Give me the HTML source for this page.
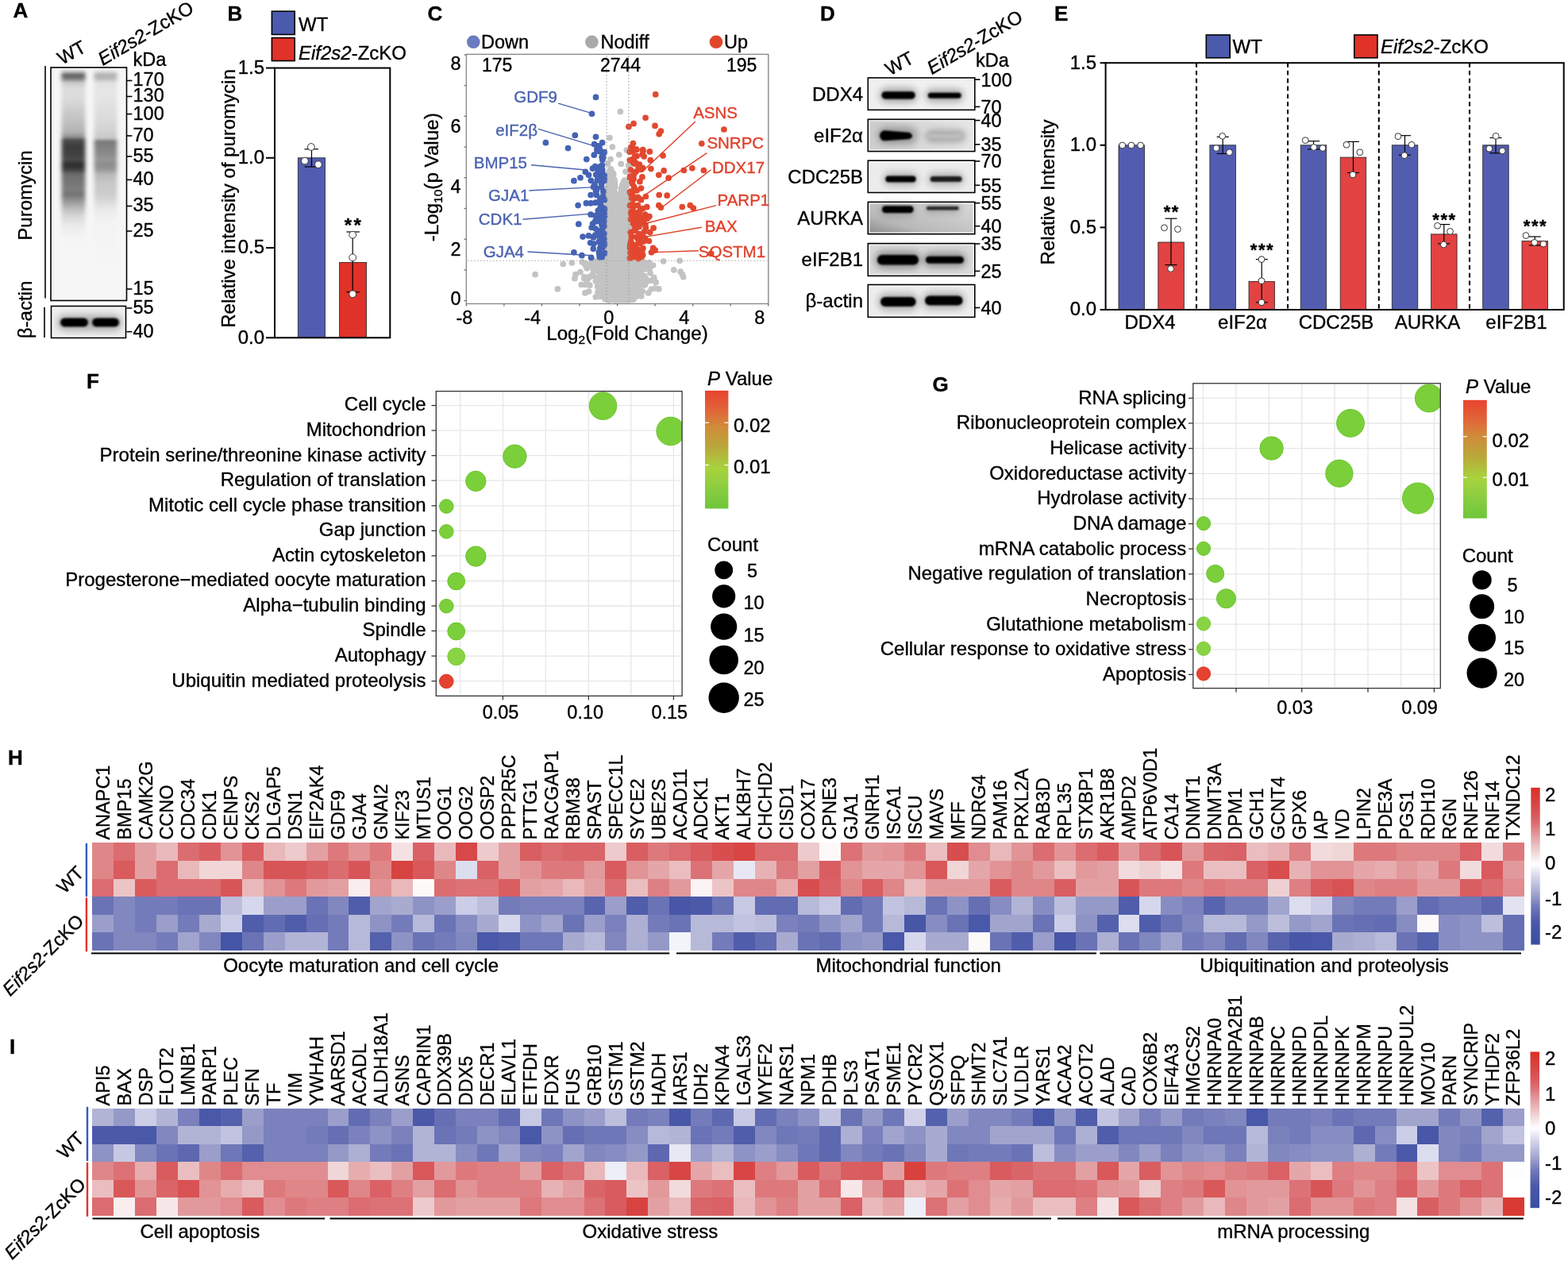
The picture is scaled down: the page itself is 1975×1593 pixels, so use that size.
<!DOCTYPE html><html><head><meta charset="utf-8"><title>Figure</title><style>html,body{margin:0;padding:0;background:#fff;width:1975px;height:1593px;overflow:hidden}svg{display:block}</style></head><body><svg width="1975" height="1593" viewBox="0 0 1975 1593" font-family="'Liberation Sans', Arial, Helvetica, sans-serif"><style>text{stroke-width:0.35px}</style><defs><filter id="blA" x="-30%" y="-10%" width="160%" height="120%"><feGaussianBlur stdDeviation="2.6 1.6"/></filter><filter id="blB" x="-30%" y="-30%" width="160%" height="160%"><feGaussianBlur stdDeviation="1.6 1.2"/></filter><linearGradient id="gA1" x1="0" y1="0" x2="0" y2="1"><stop offset="0.000" stop-color="rgb(245,245,245)"/><stop offset="0.017" stop-color="rgb(200,200,200)"/><stop offset="0.031" stop-color="rgb(95,95,95)"/><stop offset="0.048" stop-color="rgb(120,120,120)"/><stop offset="0.065" stop-color="rgb(200,200,200)"/><stop offset="0.092" stop-color="rgb(222,222,222)"/><stop offset="0.137" stop-color="rgb(218,218,218)"/><stop offset="0.181" stop-color="rgb(205,205,205)"/><stop offset="0.222" stop-color="rgb(195,195,195)"/><stop offset="0.273" stop-color="rgb(180,180,180)"/><stop offset="0.297" stop-color="rgb(150,150,150)"/><stop offset="0.311" stop-color="rgb(75,75,75)"/><stop offset="0.341" stop-color="rgb(60,60,60)"/><stop offset="0.375" stop-color="rgb(65,65,65)"/><stop offset="0.396" stop-color="rgb(75,75,75)"/><stop offset="0.416" stop-color="rgb(45,45,45)"/><stop offset="0.437" stop-color="rgb(60,60,60)"/><stop offset="0.461" stop-color="rgb(110,110,110)"/><stop offset="0.502" stop-color="rgb(120,120,120)"/><stop offset="0.529" stop-color="rgb(125,125,125)"/><stop offset="0.546" stop-color="rgb(115,115,115)"/><stop offset="0.570" stop-color="rgb(145,145,145)"/><stop offset="0.604" stop-color="rgb(185,185,185)"/><stop offset="0.638" stop-color="rgb(215,215,215)"/><stop offset="0.683" stop-color="rgb(235,235,235)"/><stop offset="0.734" stop-color="rgb(245,245,245)"/><stop offset="1.000" stop-color="rgb(247,247,247)"/></linearGradient><linearGradient id="gA2" x1="0" y1="0" x2="0" y2="1"><stop offset="0.000" stop-color="rgb(245,245,245)"/><stop offset="0.017" stop-color="rgb(225,225,225)"/><stop offset="0.031" stop-color="rgb(175,175,175)"/><stop offset="0.048" stop-color="rgb(185,185,185)"/><stop offset="0.065" stop-color="rgb(225,225,225)"/><stop offset="0.092" stop-color="rgb(230,230,230)"/><stop offset="0.137" stop-color="rgb(228,228,228)"/><stop offset="0.222" stop-color="rgb(218,218,218)"/><stop offset="0.273" stop-color="rgb(210,210,210)"/><stop offset="0.304" stop-color="rgb(200,200,200)"/><stop offset="0.317" stop-color="rgb(120,120,120)"/><stop offset="0.341" stop-color="rgb(130,130,130)"/><stop offset="0.375" stop-color="rgb(140,140,140)"/><stop offset="0.396" stop-color="rgb(150,150,150)"/><stop offset="0.416" stop-color="rgb(140,140,140)"/><stop offset="0.437" stop-color="rgb(150,150,150)"/><stop offset="0.461" stop-color="rgb(185,185,185)"/><stop offset="0.502" stop-color="rgb(200,200,200)"/><stop offset="0.546" stop-color="rgb(205,205,205)"/><stop offset="0.580" stop-color="rgb(220,220,220)"/><stop offset="0.614" stop-color="rgb(235,235,235)"/><stop offset="0.666" stop-color="rgb(243,243,243)"/><stop offset="1.000" stop-color="rgb(247,247,247)"/></linearGradient><filter id="blD" x="-30%" y="-60%" width="160%" height="220%"><feGaussianBlur stdDeviation="2.2 1.5"/></filter><filter id="blH" x="-40%" y="-150%" width="180%" height="400%"><feGaussianBlur stdDeviation="4 4"/></filter><filter id="blC" x="-20%" y="-60%" width="140%" height="220%"><feGaussianBlur stdDeviation="1.1 1.0"/></filter><linearGradient id="gAU" x1="0" y1="1" x2="1" y2="0"><stop offset="0" stop-color="#8a8a8a"/><stop offset="0.3" stop-color="#b8b8b8"/><stop offset="0.7" stop-color="#cdcdcd"/><stop offset="1" stop-color="#d8d8d8"/></linearGradient><linearGradient id="gEA" x1="0" y1="0" x2="1" y2="0"><stop offset="0" stop-color="#cdcdcd"/><stop offset="0.45" stop-color="#d8d8d8"/><stop offset="1" stop-color="#e6e6e6"/></linearGradient><clipPath id="clipF"><rect x="549.3" y="492.7" width="309.80000000000007" height="383.7"/></clipPath><linearGradient id="clipFg" x1="0" y1="0" x2="0" y2="1"><stop offset="0" stop-color="#e8432e"/><stop offset="0.18" stop-color="#e0683a"/><stop offset="0.3" stop-color="#d18a3a"/><stop offset="0.48" stop-color="#b9a83a"/><stop offset="0.66" stop-color="#a8d33e"/><stop offset="0.85" stop-color="#86cc40"/><stop offset="1" stop-color="#6fc63a"/></linearGradient><clipPath id="clipG"><rect x="1502.8" y="482.8" width="311.5" height="383.90000000000003"/></clipPath><linearGradient id="clipGg" x1="0" y1="0" x2="0" y2="1"><stop offset="0" stop-color="#e8432e"/><stop offset="0.18" stop-color="#e0683a"/><stop offset="0.3" stop-color="#d18a3a"/><stop offset="0.48" stop-color="#b9a83a"/><stop offset="0.66" stop-color="#a8d33e"/><stop offset="0.85" stop-color="#86cc40"/><stop offset="1" stop-color="#6fc63a"/></linearGradient><linearGradient id="cb1061" x1="0" y1="0" x2="0" y2="1"><stop offset="0" stop-color="#d93025"/><stop offset="0.004" stop-color="#d93025"/><stop offset="0.114" stop-color="#d74848"/><stop offset="0.211" stop-color="#da6468"/><stop offset="0.305" stop-color="#e29c9f"/><stop offset="0.404" stop-color="#efd2d4"/><stop offset="0.488" stop-color="#ffffff"/><stop offset="0.565" stop-color="#d6d7ec"/><stop offset="0.664" stop-color="#a8aad0"/><stop offset="0.758" stop-color="#7078b8"/><stop offset="0.855" stop-color="#4a58a8"/><stop offset="0.993" stop-color="#3a4fa0"/><stop offset="1" stop-color="#3a4fa0"/></linearGradient><linearGradient id="cb1395" x1="0" y1="0" x2="0" y2="1"><stop offset="0" stop-color="#d93025"/><stop offset="0.000" stop-color="#d93025"/><stop offset="0.111" stop-color="#d74848"/><stop offset="0.209" stop-color="#da6468"/><stop offset="0.304" stop-color="#e29c9f"/><stop offset="0.404" stop-color="#efd2d4"/><stop offset="0.489" stop-color="#ffffff"/><stop offset="0.567" stop-color="#d6d7ec"/><stop offset="0.667" stop-color="#a8aad0"/><stop offset="0.762" stop-color="#7078b8"/><stop offset="0.860" stop-color="#4a58a8"/><stop offset="1.000" stop-color="#3a4fa0"/><stop offset="1" stop-color="#3a4fa0"/></linearGradient></defs><text x="16.4" y="22.0" font-size="26" font-weight="bold" stroke="#000">A</text>
<text x="286.6" y="26.2" font-size="26" font-weight="bold" stroke="#000">B</text>
<text x="538.5" y="25.8" font-size="26" font-weight="bold" stroke="#000">C</text>
<text x="1033.0" y="26.0" font-size="26" font-weight="bold" stroke="#000">D</text>
<text x="1328.0" y="26.4" font-size="26" font-weight="bold" stroke="#000">E</text>
<text x="109.0" y="489.0" font-size="26" font-weight="bold" stroke="#000">F</text>
<text x="1174.5" y="492.6" font-size="26" font-weight="bold" stroke="#000">G</text>
<text x="10.0" y="963.0" font-size="26" font-weight="bold" stroke="#000">H</text>
<text x="12.0" y="1326.7" font-size="26" font-weight="bold" stroke="#000">I</text>
<rect x="64.0" y="85.0" width="95.5" height="293.5" fill="#f6f6f6"/>
<g filter="url(#blA)">
<rect x="77.5" y="85.0" width="30.0" height="293.0" fill="url(#gA1)"/>
<rect x="118.5" y="85.0" width="29.0" height="293.0" fill="url(#gA2)"/>
</g>
<rect x="65.6" y="86.6" width="92.3" height="290.3" fill="none" stroke="#fafafa" stroke-width="1.3"/>
<rect x="64.0" y="85.0" width="95.5" height="293.5" fill="none" stroke="#000" stroke-width="1.6"/>
<rect x="64.5" y="385.5" width="94.0" height="40.0" fill="#eeeeee"/>
<g filter="url(#blH)" opacity="0.25">
<rect x="72" y="396" width="82" height="21" rx="10" fill="#000"/>
</g>
<g filter="url(#blB)">
<rect x="76" y="400.5" width="35" height="11" rx="5.5" fill="#050505"/>
<rect x="116" y="400.5" width="34" height="11" rx="5.5" fill="#050505"/>
</g>
<rect x="66.1" y="387.1" width="90.8" height="36.8" fill="none" stroke="#fafafa" stroke-width="1.3"/>
<rect x="64.5" y="385.5" width="94.0" height="40.0" fill="none" stroke="#000" stroke-width="1.6"/>
<line x1="57.0" y1="83.0" x2="57.0" y2="375.5" stroke="#000" stroke-width="1.6"/>
<line x1="56.0" y1="387.0" x2="56.0" y2="425.0" stroke="#000" stroke-width="1.6"/>
<line x1="159.5" y1="101.5" x2="166.4" y2="101.5" stroke="#000" stroke-width="1.6"/>
<text x="167.5" y="108.4" font-size="23.5" stroke="#000">170</text>
<line x1="159.5" y1="121.5" x2="166.4" y2="121.5" stroke="#000" stroke-width="1.6"/>
<text x="167.5" y="128.4" font-size="23.5" stroke="#000">130</text>
<line x1="159.5" y1="143.6" x2="166.4" y2="143.6" stroke="#000" stroke-width="1.6"/>
<text x="167.5" y="150.5" font-size="23.5" stroke="#000">100</text>
<line x1="159.5" y1="171.0" x2="166.4" y2="171.0" stroke="#000" stroke-width="1.6"/>
<text x="167.5" y="177.9" font-size="23.5" stroke="#000">70</text>
<line x1="159.5" y1="197.0" x2="166.4" y2="197.0" stroke="#000" stroke-width="1.6"/>
<text x="167.5" y="203.9" font-size="23.5" stroke="#000">55</text>
<line x1="159.5" y1="226.4" x2="166.4" y2="226.4" stroke="#000" stroke-width="1.6"/>
<text x="167.5" y="233.3" font-size="23.5" stroke="#000">40</text>
<line x1="159.5" y1="259.5" x2="166.4" y2="259.5" stroke="#000" stroke-width="1.6"/>
<text x="167.5" y="266.4" font-size="23.5" stroke="#000">35</text>
<line x1="159.5" y1="291.0" x2="166.4" y2="291.0" stroke="#000" stroke-width="1.6"/>
<text x="167.5" y="297.9" font-size="23.5" stroke="#000">25</text>
<line x1="159.5" y1="364.0" x2="166.4" y2="364.0" stroke="#000" stroke-width="1.6"/>
<text x="167.5" y="370.9" font-size="23.5" stroke="#000">15</text>
<line x1="159.5" y1="388.0" x2="166.4" y2="388.0" stroke="#000" stroke-width="1.6"/>
<text x="167.5" y="394.9" font-size="23.5" stroke="#000">55</text>
<line x1="159.5" y1="417.7" x2="166.4" y2="417.7" stroke="#000" stroke-width="1.6"/>
<text x="167.5" y="424.6" font-size="23.5" stroke="#000">40</text>
<text x="167.5" y="83.0" font-size="23.5" stroke="#000">kDa</text>
<text transform="translate(78.1,82.0) rotate(-29)" font-size="23.5" stroke="#000">WT</text>
<text transform="translate(129.5,83.0) rotate(-30.5)" font-size="23.8" stroke="#000"><tspan font-style="italic">Eif2s2</tspan>-ZcKO</text>
<text transform="translate(40.0,246.0) rotate(-90)" font-size="24" text-anchor="middle" stroke="#000">Puromycin</text>
<text transform="translate(40.0,390.0) rotate(-90)" font-size="24" text-anchor="middle" stroke="#000">β-actin</text>
<rect x="342.4" y="14.2" width="28.8" height="29.3" fill="#4b5aad" stroke="#000" stroke-width="1.6"/>
<rect x="342.4" y="47.6" width="28.8" height="29.0" fill="#e03228" stroke="#000" stroke-width="1.6"/>
<text x="376.0" y="39.4" font-size="24" stroke="#000">WT</text>
<text x="376.0" y="74.6" font-size="24" stroke="#000"><tspan font-style="italic">Eif2s2</tspan>-ZcKO</text>
<rect x="375.3" y="198.8" width="34.3" height="226.5" fill="#525db0" stroke="#222" stroke-width="0.8"/>
<rect x="427.6" y="330.4" width="34.0" height="94.9" fill="#e03228" stroke="#222" stroke-width="0.8"/>
<rect x="346.0" y="85.6" width="145.3" height="339.7" fill="none" stroke="#000" stroke-width="2"/>
<line x1="335.0" y1="85.6" x2="346.0" y2="85.6" stroke="#000" stroke-width="2"/>
<text x="333.0" y="92.8" font-size="24" text-anchor="end" stroke="#000">1.5</text>
<line x1="335.0" y1="198.8" x2="346.0" y2="198.8" stroke="#000" stroke-width="2"/>
<text x="333.0" y="206.0" font-size="24" text-anchor="end" stroke="#000">1.0</text>
<line x1="335.0" y1="312.1" x2="346.0" y2="312.1" stroke="#000" stroke-width="2"/>
<text x="333.0" y="319.3" font-size="24" text-anchor="end" stroke="#000">0.5</text>
<line x1="335.0" y1="425.3" x2="346.0" y2="425.3" stroke="#000" stroke-width="2"/>
<text x="333.0" y="432.5" font-size="24" text-anchor="end" stroke="#000">0.0</text>
<text transform="translate(296.0,250.0) rotate(-90)" font-size="24" text-anchor="middle" stroke="#000">Relative intensity of puromycin</text>
<line x1="392.5" y1="187.8" x2="392.5" y2="210.0" stroke="#000" stroke-width="1.2"/>
<line x1="383.6" y1="187.8" x2="400.9" y2="187.8" stroke="#000" stroke-width="1.2"/>
<line x1="383.6" y1="210.0" x2="400.9" y2="210.0" stroke="#000" stroke-width="1.2"/>
<circle cx="391.9" cy="185.0" r="4.4" fill="#fff" stroke="#333" stroke-width="1"/>
<circle cx="383.9" cy="202.6" r="4.4" fill="#fff" stroke="#333" stroke-width="1"/>
<circle cx="400.9" cy="207.2" r="4.4" fill="#fff" stroke="#333" stroke-width="1"/>
<line x1="444.2" y1="292.0" x2="444.2" y2="367.7" stroke="#000" stroke-width="1.2"/>
<line x1="436.3" y1="292.0" x2="452.9" y2="292.0" stroke="#000" stroke-width="1.2"/>
<line x1="436.3" y1="367.7" x2="452.9" y2="367.7" stroke="#000" stroke-width="1.2"/>
<circle cx="444.2" cy="295.7" r="4.4" fill="#fff" stroke="#333" stroke-width="1"/>
<circle cx="444.2" cy="324.3" r="4.4" fill="#fff" stroke="#333" stroke-width="1"/>
<circle cx="444.2" cy="370.3" r="4.4" fill="#fff" stroke="#333" stroke-width="1"/>
<text x="445.5" y="292.0" font-size="24" text-anchor="middle" font-weight="bold" stroke="#000" letter-spacing="2.4">**</text>
<svg x="587.4" y="68.4" width="380.4" height="314.1" viewBox="587.4 68.4 380.4 314.1" overflow="hidden">
<g fill="#c3c3c3"><circle cx="765.3" cy="361.8" r="3.85"/><circle cx="780.4" cy="374.2" r="3.85"/><circle cx="779.5" cy="375.0" r="3.85"/><circle cx="766.6" cy="356.3" r="3.85"/><circle cx="789.2" cy="356.8" r="3.85"/><circle cx="785.0" cy="366.8" r="3.85"/><circle cx="773.9" cy="349.2" r="3.85"/><circle cx="789.5" cy="375.5" r="3.85"/><circle cx="767.8" cy="370.7" r="3.85"/><circle cx="764.3" cy="337.4" r="3.85"/><circle cx="773.8" cy="346.2" r="3.85"/><circle cx="767.4" cy="374.7" r="3.85"/><circle cx="776.5" cy="344.1" r="3.85"/><circle cx="777.6" cy="348.8" r="3.85"/><circle cx="786.9" cy="338.5" r="3.85"/><circle cx="780.6" cy="349.4" r="3.85"/><circle cx="767.5" cy="341.7" r="3.85"/><circle cx="776.1" cy="372.0" r="3.85"/><circle cx="779.0" cy="370.3" r="3.85"/><circle cx="791.0" cy="344.7" r="3.85"/><circle cx="769.8" cy="334.5" r="3.85"/><circle cx="782.5" cy="348.4" r="3.85"/><circle cx="799.2" cy="336.2" r="3.85"/><circle cx="758.5" cy="344.9" r="3.85"/><circle cx="804.0" cy="345.8" r="3.85"/><circle cx="774.8" cy="363.7" r="3.85"/><circle cx="778.3" cy="376.7" r="3.85"/><circle cx="762.2" cy="372.0" r="3.85"/><circle cx="771.3" cy="371.4" r="3.85"/><circle cx="760.6" cy="334.7" r="3.85"/><circle cx="797.8" cy="350.6" r="3.85"/><circle cx="769.7" cy="335.0" r="3.85"/><circle cx="797.5" cy="360.1" r="3.85"/><circle cx="770.0" cy="370.3" r="3.85"/><circle cx="778.7" cy="366.3" r="3.85"/><circle cx="762.3" cy="364.8" r="3.85"/><circle cx="782.5" cy="359.5" r="3.85"/><circle cx="780.0" cy="343.6" r="3.85"/><circle cx="755.9" cy="344.3" r="3.85"/><circle cx="798.8" cy="339.2" r="3.85"/><circle cx="776.3" cy="358.4" r="3.85"/><circle cx="765.5" cy="346.4" r="3.85"/><circle cx="768.6" cy="367.5" r="3.85"/><circle cx="766.4" cy="375.2" r="3.85"/><circle cx="776.0" cy="372.8" r="3.85"/><circle cx="783.5" cy="334.5" r="3.85"/><circle cx="774.3" cy="365.3" r="3.85"/><circle cx="794.4" cy="371.7" r="3.85"/><circle cx="778.8" cy="354.7" r="3.85"/><circle cx="774.8" cy="372.8" r="3.85"/><circle cx="768.2" cy="336.8" r="3.85"/><circle cx="780.4" cy="330.7" r="3.85"/><circle cx="759.8" cy="350.9" r="3.85"/><circle cx="798.6" cy="329.4" r="3.85"/><circle cx="775.4" cy="364.9" r="3.85"/><circle cx="781.0" cy="339.6" r="3.85"/><circle cx="767.2" cy="361.5" r="3.85"/><circle cx="799.1" cy="329.0" r="3.85"/><circle cx="788.4" cy="337.3" r="3.85"/><circle cx="775.1" cy="352.2" r="3.85"/><circle cx="773.2" cy="376.4" r="3.85"/><circle cx="798.3" cy="343.5" r="3.85"/><circle cx="808.3" cy="331.4" r="3.85"/><circle cx="770.5" cy="359.8" r="3.85"/><circle cx="768.3" cy="368.1" r="3.85"/><circle cx="794.9" cy="333.2" r="3.85"/><circle cx="788.9" cy="345.5" r="3.85"/><circle cx="799.5" cy="345.1" r="3.85"/><circle cx="778.5" cy="340.7" r="3.85"/><circle cx="770.5" cy="338.7" r="3.85"/><circle cx="774.6" cy="329.7" r="3.85"/><circle cx="787.9" cy="330.9" r="3.85"/><circle cx="764.8" cy="371.5" r="3.85"/><circle cx="760.4" cy="337.9" r="3.85"/><circle cx="786.1" cy="329.3" r="3.85"/><circle cx="768.6" cy="350.6" r="3.85"/><circle cx="786.5" cy="329.7" r="3.85"/><circle cx="775.5" cy="331.6" r="3.85"/><circle cx="768.1" cy="336.9" r="3.85"/><circle cx="769.4" cy="363.3" r="3.85"/><circle cx="777.0" cy="365.0" r="3.85"/><circle cx="772.7" cy="332.7" r="3.85"/><circle cx="795.2" cy="348.9" r="3.85"/><circle cx="779.4" cy="332.4" r="3.85"/><circle cx="760.6" cy="351.9" r="3.85"/><circle cx="759.2" cy="368.8" r="3.85"/><circle cx="778.3" cy="369.3" r="3.85"/><circle cx="772.1" cy="350.3" r="3.85"/><circle cx="788.2" cy="350.3" r="3.85"/><circle cx="770.4" cy="350.1" r="3.85"/><circle cx="779.7" cy="339.6" r="3.85"/><circle cx="796.9" cy="340.2" r="3.85"/><circle cx="779.5" cy="347.5" r="3.85"/><circle cx="777.2" cy="343.5" r="3.85"/><circle cx="798.7" cy="354.1" r="3.85"/><circle cx="796.8" cy="334.4" r="3.85"/><circle cx="800.9" cy="350.1" r="3.85"/><circle cx="766.9" cy="371.0" r="3.85"/><circle cx="772.9" cy="374.2" r="3.85"/><circle cx="794.2" cy="344.7" r="3.85"/><circle cx="787.4" cy="370.2" r="3.85"/><circle cx="795.8" cy="370.7" r="3.85"/><circle cx="794.3" cy="366.9" r="3.85"/><circle cx="802.4" cy="353.7" r="3.85"/><circle cx="776.9" cy="369.8" r="3.85"/><circle cx="769.2" cy="361.0" r="3.85"/><circle cx="757.8" cy="342.1" r="3.85"/><circle cx="762.4" cy="356.0" r="3.85"/><circle cx="779.7" cy="346.9" r="3.85"/><circle cx="796.8" cy="329.0" r="3.85"/><circle cx="773.6" cy="372.6" r="3.85"/><circle cx="771.3" cy="339.2" r="3.85"/><circle cx="798.1" cy="356.9" r="3.85"/><circle cx="763.7" cy="365.0" r="3.85"/><circle cx="785.6" cy="349.6" r="3.85"/><circle cx="785.2" cy="375.0" r="3.85"/><circle cx="794.8" cy="374.2" r="3.85"/><circle cx="756.8" cy="338.1" r="3.85"/><circle cx="790.8" cy="374.5" r="3.85"/><circle cx="781.8" cy="361.0" r="3.85"/><circle cx="765.8" cy="364.6" r="3.85"/><circle cx="768.2" cy="366.0" r="3.85"/><circle cx="770.7" cy="375.3" r="3.85"/><circle cx="787.6" cy="362.7" r="3.85"/><circle cx="767.6" cy="353.1" r="3.85"/><circle cx="773.6" cy="376.9" r="3.85"/><circle cx="781.1" cy="341.5" r="3.85"/><circle cx="792.5" cy="354.3" r="3.85"/><circle cx="776.3" cy="337.3" r="3.85"/><circle cx="774.4" cy="336.5" r="3.85"/><circle cx="798.1" cy="343.8" r="3.85"/><circle cx="789.4" cy="336.6" r="3.85"/><circle cx="775.0" cy="357.8" r="3.85"/><circle cx="762.8" cy="371.4" r="3.85"/><circle cx="770.2" cy="365.2" r="3.85"/><circle cx="797.8" cy="336.2" r="3.85"/><circle cx="771.1" cy="363.9" r="3.85"/><circle cx="766.3" cy="355.1" r="3.85"/><circle cx="800.4" cy="364.8" r="3.85"/><circle cx="766.1" cy="350.7" r="3.85"/><circle cx="775.6" cy="362.5" r="3.85"/><circle cx="778.3" cy="358.9" r="3.85"/><circle cx="779.4" cy="367.9" r="3.85"/><circle cx="765.4" cy="364.7" r="3.85"/><circle cx="765.6" cy="375.8" r="3.85"/><circle cx="782.4" cy="366.3" r="3.85"/><circle cx="787.1" cy="340.6" r="3.85"/><circle cx="774.7" cy="334.3" r="3.85"/><circle cx="760.4" cy="329.0" r="3.85"/><circle cx="756.3" cy="346.0" r="3.85"/><circle cx="786.0" cy="333.6" r="3.85"/><circle cx="762.9" cy="337.6" r="3.85"/><circle cx="795.0" cy="352.8" r="3.85"/><circle cx="784.0" cy="336.9" r="3.85"/><circle cx="786.3" cy="344.0" r="3.85"/><circle cx="768.5" cy="376.3" r="3.85"/><circle cx="790.9" cy="372.6" r="3.85"/><circle cx="785.1" cy="346.7" r="3.85"/><circle cx="756.2" cy="353.6" r="3.85"/><circle cx="779.4" cy="340.8" r="3.85"/><circle cx="758.4" cy="345.2" r="3.85"/><circle cx="766.2" cy="365.3" r="3.85"/><circle cx="764.7" cy="341.7" r="3.85"/><circle cx="779.0" cy="329.5" r="3.85"/><circle cx="787.7" cy="354.1" r="3.85"/><circle cx="783.8" cy="347.3" r="3.85"/><circle cx="769.8" cy="370.5" r="3.85"/><circle cx="781.1" cy="362.7" r="3.85"/><circle cx="771.0" cy="374.8" r="3.85"/><circle cx="785.9" cy="343.5" r="3.85"/><circle cx="777.9" cy="352.2" r="3.85"/><circle cx="790.2" cy="372.0" r="3.85"/><circle cx="794.3" cy="329.4" r="3.85"/><circle cx="795.2" cy="355.1" r="3.85"/><circle cx="771.8" cy="355.6" r="3.85"/><circle cx="765.0" cy="331.0" r="3.85"/><circle cx="780.3" cy="370.8" r="3.85"/><circle cx="790.2" cy="371.3" r="3.85"/><circle cx="787.2" cy="333.9" r="3.85"/><circle cx="778.8" cy="333.4" r="3.85"/><circle cx="779.0" cy="377.6" r="3.85"/><circle cx="767.4" cy="362.9" r="3.85"/><circle cx="788.2" cy="362.2" r="3.85"/><circle cx="790.9" cy="340.6" r="3.85"/><circle cx="791.6" cy="331.9" r="3.85"/><circle cx="774.9" cy="363.5" r="3.85"/><circle cx="783.2" cy="328.3" r="3.85"/><circle cx="772.9" cy="356.6" r="3.85"/><circle cx="789.1" cy="372.8" r="3.85"/><circle cx="769.1" cy="331.5" r="3.85"/><circle cx="767.8" cy="352.5" r="3.85"/><circle cx="800.7" cy="330.5" r="3.85"/><circle cx="801.1" cy="346.6" r="3.85"/><circle cx="785.9" cy="350.6" r="3.85"/><circle cx="776.8" cy="341.5" r="3.85"/><circle cx="772.7" cy="345.9" r="3.85"/><circle cx="762.2" cy="331.9" r="3.85"/><circle cx="770.7" cy="360.8" r="3.85"/><circle cx="766.9" cy="329.5" r="3.85"/><circle cx="781.3" cy="362.9" r="3.85"/><circle cx="769.7" cy="369.5" r="3.85"/><circle cx="779.2" cy="332.9" r="3.85"/><circle cx="801.7" cy="332.9" r="3.85"/><circle cx="771.4" cy="370.9" r="3.85"/><circle cx="766.4" cy="360.9" r="3.85"/><circle cx="782.4" cy="365.0" r="3.85"/><circle cx="775.7" cy="340.7" r="3.85"/><circle cx="774.8" cy="351.9" r="3.85"/><circle cx="770.1" cy="374.8" r="3.85"/><circle cx="779.4" cy="371.6" r="3.85"/><circle cx="768.0" cy="335.1" r="3.85"/><circle cx="775.8" cy="365.5" r="3.85"/><circle cx="799.3" cy="330.6" r="3.85"/><circle cx="762.5" cy="376.7" r="3.85"/><circle cx="778.0" cy="333.5" r="3.85"/><circle cx="775.0" cy="377.8" r="3.85"/><circle cx="799.7" cy="336.9" r="3.85"/><circle cx="768.2" cy="365.5" r="3.85"/><circle cx="788.5" cy="352.0" r="3.85"/><circle cx="786.7" cy="342.1" r="3.85"/><circle cx="780.8" cy="355.2" r="3.85"/><circle cx="764.5" cy="339.1" r="3.85"/><circle cx="772.8" cy="345.9" r="3.85"/><circle cx="784.7" cy="365.4" r="3.85"/><circle cx="764.7" cy="372.3" r="3.85"/><circle cx="775.4" cy="349.0" r="3.85"/><circle cx="761.4" cy="348.1" r="3.85"/><circle cx="798.8" cy="355.0" r="3.85"/><circle cx="778.3" cy="334.0" r="3.85"/><circle cx="797.7" cy="365.6" r="3.85"/><circle cx="761.8" cy="362.6" r="3.85"/><circle cx="776.4" cy="344.4" r="3.85"/><circle cx="794.5" cy="344.8" r="3.85"/><circle cx="774.3" cy="376.1" r="3.85"/><circle cx="764.2" cy="344.0" r="3.85"/><circle cx="779.5" cy="341.2" r="3.85"/><circle cx="768.7" cy="329.8" r="3.85"/><circle cx="768.0" cy="366.4" r="3.85"/><circle cx="795.7" cy="363.2" r="3.85"/><circle cx="770.2" cy="368.5" r="3.85"/><circle cx="794.5" cy="344.9" r="3.85"/><circle cx="765.4" cy="358.3" r="3.85"/><circle cx="768.0" cy="370.8" r="3.85"/><circle cx="797.8" cy="358.3" r="3.85"/><circle cx="806.4" cy="341.5" r="3.85"/><circle cx="764.7" cy="361.5" r="3.85"/><circle cx="756.8" cy="340.9" r="3.85"/><circle cx="775.0" cy="359.1" r="3.85"/><circle cx="764.4" cy="369.4" r="3.85"/><circle cx="792.6" cy="360.4" r="3.85"/><circle cx="766.6" cy="330.1" r="3.85"/><circle cx="793.2" cy="337.1" r="3.85"/><circle cx="778.5" cy="375.4" r="3.85"/><circle cx="766.1" cy="332.3" r="3.85"/><circle cx="758.7" cy="333.4" r="3.85"/><circle cx="788.1" cy="337.6" r="3.85"/><circle cx="761.8" cy="376.1" r="3.85"/><circle cx="790.2" cy="365.1" r="3.85"/><circle cx="768.6" cy="361.0" r="3.85"/><circle cx="768.1" cy="347.3" r="3.85"/><circle cx="773.4" cy="362.1" r="3.85"/><circle cx="799.0" cy="340.4" r="3.85"/><circle cx="760.4" cy="331.1" r="3.85"/><circle cx="802.0" cy="354.3" r="3.85"/><circle cx="770.2" cy="358.7" r="3.85"/><circle cx="793.2" cy="353.4" r="3.85"/><circle cx="792.0" cy="338.1" r="3.85"/><circle cx="783.6" cy="339.5" r="3.85"/><circle cx="773.4" cy="362.0" r="3.85"/><circle cx="767.9" cy="373.9" r="3.85"/><circle cx="768.0" cy="365.6" r="3.85"/><circle cx="770.2" cy="350.5" r="3.85"/><circle cx="798.7" cy="334.1" r="3.85"/><circle cx="766.0" cy="373.7" r="3.85"/><circle cx="777.4" cy="342.7" r="3.85"/><circle cx="784.4" cy="357.2" r="3.85"/><circle cx="796.0" cy="340.8" r="3.85"/><circle cx="789.4" cy="371.8" r="3.85"/><circle cx="773.4" cy="349.7" r="3.85"/><circle cx="771.8" cy="368.0" r="3.85"/><circle cx="793.0" cy="370.2" r="3.85"/><circle cx="774.4" cy="361.7" r="3.85"/><circle cx="766.7" cy="352.7" r="3.85"/><circle cx="795.3" cy="345.5" r="3.85"/><circle cx="794.4" cy="354.3" r="3.85"/><circle cx="760.5" cy="332.5" r="3.85"/><circle cx="766.0" cy="371.9" r="3.85"/><circle cx="795.7" cy="348.9" r="3.85"/><circle cx="777.3" cy="334.9" r="3.85"/><circle cx="794.5" cy="339.3" r="3.85"/><circle cx="783.5" cy="348.3" r="3.85"/><circle cx="768.1" cy="359.6" r="3.85"/><circle cx="783.2" cy="365.2" r="3.85"/><circle cx="763.9" cy="367.7" r="3.85"/><circle cx="767.3" cy="344.2" r="3.85"/><circle cx="789.9" cy="367.7" r="3.85"/><circle cx="767.1" cy="374.7" r="3.85"/><circle cx="783.6" cy="350.6" r="3.85"/><circle cx="785.7" cy="369.7" r="3.85"/><circle cx="770.5" cy="363.8" r="3.85"/><circle cx="781.5" cy="362.4" r="3.85"/><circle cx="797.3" cy="357.2" r="3.85"/><circle cx="766.4" cy="359.8" r="3.85"/><circle cx="758.0" cy="367.7" r="3.85"/><circle cx="791.0" cy="356.8" r="3.85"/><circle cx="777.9" cy="334.1" r="3.85"/><circle cx="781.1" cy="377.1" r="3.85"/><circle cx="758.8" cy="332.8" r="3.85"/><circle cx="779.4" cy="359.5" r="3.85"/><circle cx="780.3" cy="363.8" r="3.85"/><circle cx="778.9" cy="372.4" r="3.85"/><circle cx="768.1" cy="329.9" r="3.85"/><circle cx="801.4" cy="331.1" r="3.85"/><circle cx="792.2" cy="375.2" r="3.85"/><circle cx="785.9" cy="333.0" r="3.85"/><circle cx="787.5" cy="369.9" r="3.85"/><circle cx="795.1" cy="357.8" r="3.85"/><circle cx="770.1" cy="368.8" r="3.85"/><circle cx="775.7" cy="352.2" r="3.85"/><circle cx="789.2" cy="365.6" r="3.85"/><circle cx="781.6" cy="375.8" r="3.85"/><circle cx="787.8" cy="375.9" r="3.85"/><circle cx="781.5" cy="348.1" r="3.85"/><circle cx="776.2" cy="362.7" r="3.85"/><circle cx="785.2" cy="356.7" r="3.85"/><circle cx="759.5" cy="356.1" r="3.85"/><circle cx="767.2" cy="353.6" r="3.85"/><circle cx="777.8" cy="339.2" r="3.85"/><circle cx="767.2" cy="354.4" r="3.85"/><circle cx="764.1" cy="356.5" r="3.85"/><circle cx="759.5" cy="352.6" r="3.85"/><circle cx="788.2" cy="373.8" r="3.85"/><circle cx="761.4" cy="352.5" r="3.85"/><circle cx="792.7" cy="359.1" r="3.85"/><circle cx="805.0" cy="335.4" r="3.85"/><circle cx="761.7" cy="337.5" r="3.85"/><circle cx="801.8" cy="353.5" r="3.85"/><circle cx="791.7" cy="369.6" r="3.85"/><circle cx="773.7" cy="374.6" r="3.85"/><circle cx="791.1" cy="370.0" r="3.85"/><circle cx="763.3" cy="337.4" r="3.85"/><circle cx="767.6" cy="332.3" r="3.85"/><circle cx="774.0" cy="352.8" r="3.85"/><circle cx="764.6" cy="368.8" r="3.85"/><circle cx="792.9" cy="344.2" r="3.85"/><circle cx="761.9" cy="338.9" r="3.85"/><circle cx="772.1" cy="346.3" r="3.85"/><circle cx="783.3" cy="350.3" r="3.85"/><circle cx="797.0" cy="372.6" r="3.85"/><circle cx="789.1" cy="358.3" r="3.85"/><circle cx="782.7" cy="328.8" r="3.85"/><circle cx="777.2" cy="339.9" r="3.85"/><circle cx="755.9" cy="341.0" r="3.85"/><circle cx="785.7" cy="365.3" r="3.85"/><circle cx="785.3" cy="348.8" r="3.85"/><circle cx="767.6" cy="377.7" r="3.85"/><circle cx="776.5" cy="347.3" r="3.85"/><circle cx="765.0" cy="333.5" r="3.85"/><circle cx="764.9" cy="345.5" r="3.85"/><circle cx="765.8" cy="360.2" r="3.85"/><circle cx="782.4" cy="366.7" r="3.85"/><circle cx="783.6" cy="367.7" r="3.85"/><circle cx="791.9" cy="371.2" r="3.85"/><circle cx="764.4" cy="370.4" r="3.85"/><circle cx="791.5" cy="334.7" r="3.85"/><circle cx="760.3" cy="364.7" r="3.85"/><circle cx="772.7" cy="350.0" r="3.85"/><circle cx="798.6" cy="355.8" r="3.85"/><circle cx="789.9" cy="365.5" r="3.85"/><circle cx="776.1" cy="351.5" r="3.85"/><circle cx="785.8" cy="374.9" r="3.85"/><circle cx="793.5" cy="350.5" r="3.85"/><circle cx="783.1" cy="367.9" r="3.85"/><circle cx="790.0" cy="346.0" r="3.85"/><circle cx="773.9" cy="362.5" r="3.85"/><circle cx="794.0" cy="333.8" r="3.85"/><circle cx="791.8" cy="377.5" r="3.85"/><circle cx="788.5" cy="354.8" r="3.85"/><circle cx="767.5" cy="366.6" r="3.85"/><circle cx="773.2" cy="375.9" r="3.85"/><circle cx="796.0" cy="343.4" r="3.85"/><circle cx="781.2" cy="364.7" r="3.85"/><circle cx="780.2" cy="338.8" r="3.85"/><circle cx="795.7" cy="346.0" r="3.85"/><circle cx="760.1" cy="334.2" r="3.85"/><circle cx="790.2" cy="366.1" r="3.85"/><circle cx="770.0" cy="340.9" r="3.85"/><circle cx="767.4" cy="361.6" r="3.85"/><circle cx="788.2" cy="346.6" r="3.85"/><circle cx="777.6" cy="329.3" r="3.85"/><circle cx="794.1" cy="343.3" r="3.85"/><circle cx="782.0" cy="341.9" r="3.85"/><circle cx="782.6" cy="367.3" r="3.85"/><circle cx="767.3" cy="332.7" r="3.85"/><circle cx="792.3" cy="372.5" r="3.85"/><circle cx="767.6" cy="370.8" r="3.85"/><circle cx="785.7" cy="343.5" r="3.85"/><circle cx="759.4" cy="341.3" r="3.85"/><circle cx="793.4" cy="359.8" r="3.85"/><circle cx="755.0" cy="333.7" r="3.85"/><circle cx="795.3" cy="332.5" r="3.85"/><circle cx="769.4" cy="367.6" r="3.85"/><circle cx="794.6" cy="335.8" r="3.85"/><circle cx="784.5" cy="337.0" r="3.85"/><circle cx="763.9" cy="372.9" r="3.85"/><circle cx="773.3" cy="367.7" r="3.85"/><circle cx="772.5" cy="376.8" r="3.85"/><circle cx="774.2" cy="342.4" r="3.85"/><circle cx="779.5" cy="330.1" r="3.85"/><circle cx="760.7" cy="347.2" r="3.85"/><circle cx="788.9" cy="356.2" r="3.85"/><circle cx="780.7" cy="342.9" r="3.85"/><circle cx="757.1" cy="335.1" r="3.85"/><circle cx="765.1" cy="369.4" r="3.85"/><circle cx="794.3" cy="340.1" r="3.85"/><circle cx="778.9" cy="353.5" r="3.85"/><circle cx="779.1" cy="368.7" r="3.85"/><circle cx="765.7" cy="336.6" r="3.85"/><circle cx="767.8" cy="363.8" r="3.85"/><circle cx="762.6" cy="353.1" r="3.85"/><circle cx="789.9" cy="373.8" r="3.85"/><circle cx="784.5" cy="338.8" r="3.85"/><circle cx="774.4" cy="357.9" r="3.85"/><circle cx="788.6" cy="373.6" r="3.85"/><circle cx="769.1" cy="367.6" r="3.85"/><circle cx="773.4" cy="353.0" r="3.85"/><circle cx="777.9" cy="366.3" r="3.85"/><circle cx="791.4" cy="340.5" r="3.85"/><circle cx="774.1" cy="360.6" r="3.85"/><circle cx="787.7" cy="336.1" r="3.85"/><circle cx="776.9" cy="369.4" r="3.85"/><circle cx="764.3" cy="349.1" r="3.85"/><circle cx="769.4" cy="334.0" r="3.85"/><circle cx="788.2" cy="362.9" r="3.85"/><circle cx="769.3" cy="370.2" r="3.85"/><circle cx="780.0" cy="361.6" r="3.85"/><circle cx="764.6" cy="361.6" r="3.85"/><circle cx="757.3" cy="341.7" r="3.85"/><circle cx="774.4" cy="372.8" r="3.85"/><circle cx="789.3" cy="338.5" r="3.85"/><circle cx="783.0" cy="368.1" r="3.85"/><circle cx="776.5" cy="367.6" r="3.85"/><circle cx="791.6" cy="358.1" r="3.85"/><circle cx="784.5" cy="353.0" r="3.85"/><circle cx="782.6" cy="370.8" r="3.85"/><circle cx="796.4" cy="341.1" r="3.85"/><circle cx="789.0" cy="349.4" r="3.85"/><circle cx="788.9" cy="366.5" r="3.85"/><circle cx="790.0" cy="339.5" r="3.85"/><circle cx="785.2" cy="344.2" r="3.85"/><circle cx="782.9" cy="362.3" r="3.85"/><circle cx="791.5" cy="357.0" r="3.85"/><circle cx="769.3" cy="346.6" r="3.85"/><circle cx="783.8" cy="355.3" r="3.85"/><circle cx="794.3" cy="344.4" r="3.85"/><circle cx="790.3" cy="345.4" r="3.85"/><circle cx="793.1" cy="353.6" r="3.85"/><circle cx="763.3" cy="350.9" r="3.85"/><circle cx="780.0" cy="331.2" r="3.85"/><circle cx="781.2" cy="349.4" r="3.85"/><circle cx="785.9" cy="352.5" r="3.85"/><circle cx="774.8" cy="352.0" r="3.85"/><circle cx="785.4" cy="367.4" r="3.85"/><circle cx="758.0" cy="340.0" r="3.85"/><circle cx="764.9" cy="360.2" r="3.85"/><circle cx="761.6" cy="358.0" r="3.85"/><circle cx="786.3" cy="357.0" r="3.85"/><circle cx="768.0" cy="364.7" r="3.85"/><circle cx="780.4" cy="331.3" r="3.85"/><circle cx="775.3" cy="338.1" r="3.85"/><circle cx="790.3" cy="371.4" r="3.85"/><circle cx="778.0" cy="346.4" r="3.85"/><circle cx="794.3" cy="366.6" r="3.85"/><circle cx="795.2" cy="346.2" r="3.85"/><circle cx="771.0" cy="354.6" r="3.85"/><circle cx="789.6" cy="371.6" r="3.85"/><circle cx="769.5" cy="335.7" r="3.85"/><circle cx="777.1" cy="365.3" r="3.85"/><circle cx="785.4" cy="377.7" r="3.85"/><circle cx="772.3" cy="365.7" r="3.85"/><circle cx="785.1" cy="356.6" r="3.85"/><circle cx="798.7" cy="359.9" r="3.85"/><circle cx="792.5" cy="375.0" r="3.85"/><circle cx="760.3" cy="339.0" r="3.85"/><circle cx="764.7" cy="346.5" r="3.85"/><circle cx="785.6" cy="330.7" r="3.85"/><circle cx="769.3" cy="372.8" r="3.85"/><circle cx="773.9" cy="339.4" r="3.85"/><circle cx="790.2" cy="333.0" r="3.85"/><circle cx="785.1" cy="333.7" r="3.85"/><circle cx="798.9" cy="344.7" r="3.85"/><circle cx="764.1" cy="336.3" r="3.85"/><circle cx="788.7" cy="351.5" r="3.85"/><circle cx="781.5" cy="334.1" r="3.85"/><circle cx="766.6" cy="366.2" r="3.85"/><circle cx="778.5" cy="374.9" r="3.85"/><circle cx="779.2" cy="353.5" r="3.85"/><circle cx="752.3" cy="335.1" r="3.85"/><circle cx="782.0" cy="354.6" r="3.85"/><circle cx="773.9" cy="336.2" r="3.85"/><circle cx="757.6" cy="330.2" r="3.85"/><circle cx="758.2" cy="346.3" r="3.85"/><circle cx="795.9" cy="344.0" r="3.85"/><circle cx="779.8" cy="329.2" r="3.85"/><circle cx="755.0" cy="333.4" r="3.85"/><circle cx="771.1" cy="346.9" r="3.85"/><circle cx="778.3" cy="359.7" r="3.85"/><circle cx="767.0" cy="339.7" r="3.85"/><circle cx="781.8" cy="356.9" r="3.85"/><circle cx="790.6" cy="363.3" r="3.85"/><circle cx="770.2" cy="352.9" r="3.85"/><circle cx="787.9" cy="329.5" r="3.85"/><circle cx="773.3" cy="361.4" r="3.85"/><circle cx="785.8" cy="348.8" r="3.85"/><circle cx="788.1" cy="375.8" r="3.85"/><circle cx="763.2" cy="350.8" r="3.85"/><circle cx="767.1" cy="377.5" r="3.85"/><circle cx="787.0" cy="347.7" r="3.85"/><circle cx="784.8" cy="332.8" r="3.85"/><circle cx="788.0" cy="346.8" r="3.85"/><circle cx="765.8" cy="344.1" r="3.85"/><circle cx="787.2" cy="355.1" r="3.85"/><circle cx="760.7" cy="368.8" r="3.85"/><circle cx="786.0" cy="332.5" r="3.85"/><circle cx="792.7" cy="337.1" r="3.85"/><circle cx="772.5" cy="365.0" r="3.85"/><circle cx="776.5" cy="362.0" r="3.85"/><circle cx="757.6" cy="331.6" r="3.85"/><circle cx="764.8" cy="375.9" r="3.85"/><circle cx="795.9" cy="349.3" r="3.85"/><circle cx="775.5" cy="377.1" r="3.85"/><circle cx="801.5" cy="331.4" r="3.85"/><circle cx="762.8" cy="357.4" r="3.85"/><circle cx="770.5" cy="367.3" r="3.85"/><circle cx="783.8" cy="377.6" r="3.85"/><circle cx="755.6" cy="330.0" r="3.85"/><circle cx="761.0" cy="371.4" r="3.85"/><circle cx="786.1" cy="365.8" r="3.85"/><circle cx="789.3" cy="375.3" r="3.85"/><circle cx="787.2" cy="335.4" r="3.85"/><circle cx="787.9" cy="346.7" r="3.85"/><circle cx="764.7" cy="331.6" r="3.85"/><circle cx="764.1" cy="342.3" r="3.85"/><circle cx="789.4" cy="345.6" r="3.85"/><circle cx="786.1" cy="362.4" r="3.85"/><circle cx="778.8" cy="335.2" r="3.85"/><circle cx="782.0" cy="359.6" r="3.85"/><circle cx="761.5" cy="344.3" r="3.85"/><circle cx="785.2" cy="359.8" r="3.85"/><circle cx="774.2" cy="357.1" r="3.85"/><circle cx="793.2" cy="331.0" r="3.85"/><circle cx="758.9" cy="363.3" r="3.85"/><circle cx="792.0" cy="343.0" r="3.85"/><circle cx="802.9" cy="347.8" r="3.85"/><circle cx="771.7" cy="348.0" r="3.85"/><circle cx="773.0" cy="333.8" r="3.85"/><circle cx="798.7" cy="348.0" r="3.85"/><circle cx="763.7" cy="363.8" r="3.85"/><circle cx="783.3" cy="356.9" r="3.85"/><circle cx="754.1" cy="333.9" r="3.85"/><circle cx="796.5" cy="337.6" r="3.85"/><circle cx="794.2" cy="364.3" r="3.85"/><circle cx="795.4" cy="343.9" r="3.85"/><circle cx="781.4" cy="373.6" r="3.85"/><circle cx="790.2" cy="367.9" r="3.85"/><circle cx="783.5" cy="366.2" r="3.85"/><circle cx="769.4" cy="354.8" r="3.85"/><circle cx="791.8" cy="340.6" r="3.85"/><circle cx="791.0" cy="373.5" r="3.85"/><circle cx="782.8" cy="366.3" r="3.85"/><circle cx="780.3" cy="334.0" r="3.85"/><circle cx="768.8" cy="348.6" r="3.85"/><circle cx="785.7" cy="368.9" r="3.85"/><circle cx="775.3" cy="349.9" r="3.85"/><circle cx="759.3" cy="370.4" r="3.85"/><circle cx="763.3" cy="359.3" r="3.85"/><circle cx="763.1" cy="338.8" r="3.85"/><circle cx="779.8" cy="360.7" r="3.85"/><circle cx="798.4" cy="376.2" r="3.85"/><circle cx="781.6" cy="353.7" r="3.85"/><circle cx="775.2" cy="339.2" r="3.85"/><circle cx="797.2" cy="339.8" r="3.85"/><circle cx="765.6" cy="365.2" r="3.85"/><circle cx="768.7" cy="368.9" r="3.85"/><circle cx="794.0" cy="350.2" r="3.85"/><circle cx="793.7" cy="330.9" r="3.85"/><circle cx="776.0" cy="348.2" r="3.85"/><circle cx="767.4" cy="330.3" r="3.85"/><circle cx="800.4" cy="346.1" r="3.85"/><circle cx="777.7" cy="358.4" r="3.85"/><circle cx="798.8" cy="330.0" r="3.85"/><circle cx="772.1" cy="375.9" r="3.85"/><circle cx="801.7" cy="333.1" r="3.85"/><circle cx="789.7" cy="375.5" r="3.85"/><circle cx="794.5" cy="345.8" r="3.85"/><circle cx="790.2" cy="370.7" r="3.85"/><circle cx="770.3" cy="344.3" r="3.85"/><circle cx="763.7" cy="340.3" r="3.85"/><circle cx="766.0" cy="365.1" r="3.85"/><circle cx="772.2" cy="369.5" r="3.85"/><circle cx="755.9" cy="344.3" r="3.85"/><circle cx="759.1" cy="368.2" r="3.85"/><circle cx="797.8" cy="366.9" r="3.85"/><circle cx="763.2" cy="333.8" r="3.85"/><circle cx="796.4" cy="373.0" r="3.85"/><circle cx="777.5" cy="346.7" r="3.85"/><circle cx="778.2" cy="337.1" r="3.85"/><circle cx="772.3" cy="370.8" r="3.85"/><circle cx="781.1" cy="342.5" r="3.85"/><circle cx="769.1" cy="334.7" r="3.85"/><circle cx="769.9" cy="370.1" r="3.85"/><circle cx="767.1" cy="361.3" r="3.85"/><circle cx="790.8" cy="362.1" r="3.85"/><circle cx="753.4" cy="329.3" r="3.85"/><circle cx="767.2" cy="344.7" r="3.85"/><circle cx="772.0" cy="363.6" r="3.85"/><circle cx="803.1" cy="359.8" r="3.85"/><circle cx="762.8" cy="332.0" r="3.85"/><circle cx="756.1" cy="333.4" r="3.85"/><circle cx="791.8" cy="363.3" r="3.85"/><circle cx="773.7" cy="337.8" r="3.85"/><circle cx="790.0" cy="377.7" r="3.85"/><circle cx="776.5" cy="368.6" r="3.85"/><circle cx="781.3" cy="367.0" r="3.85"/><circle cx="789.8" cy="368.9" r="3.85"/><circle cx="768.2" cy="368.1" r="3.85"/><circle cx="779.1" cy="347.7" r="3.85"/><circle cx="783.7" cy="367.6" r="3.85"/><circle cx="782.4" cy="337.6" r="3.85"/><circle cx="786.5" cy="374.6" r="3.85"/><circle cx="756.5" cy="342.1" r="3.85"/><circle cx="794.7" cy="361.2" r="3.85"/><circle cx="755.5" cy="353.4" r="3.85"/><circle cx="792.0" cy="354.2" r="3.85"/><circle cx="789.9" cy="368.6" r="3.85"/><circle cx="774.6" cy="369.7" r="3.85"/><circle cx="779.9" cy="377.6" r="3.85"/><circle cx="762.2" cy="352.3" r="3.85"/><circle cx="794.0" cy="337.4" r="3.85"/><circle cx="773.4" cy="342.6" r="3.85"/><circle cx="794.7" cy="374.8" r="3.85"/><circle cx="779.8" cy="353.3" r="3.85"/><circle cx="754.7" cy="351.2" r="3.85"/><circle cx="770.7" cy="366.7" r="3.85"/><circle cx="787.5" cy="365.4" r="3.85"/><circle cx="784.7" cy="373.0" r="3.85"/><circle cx="782.6" cy="376.9" r="3.85"/><circle cx="785.6" cy="351.9" r="3.85"/><circle cx="786.6" cy="334.8" r="3.85"/><circle cx="779.1" cy="371.7" r="3.85"/><circle cx="766.4" cy="364.0" r="3.85"/><circle cx="783.1" cy="371.0" r="3.85"/><circle cx="782.1" cy="370.5" r="3.85"/><circle cx="793.3" cy="369.7" r="3.85"/><circle cx="775.7" cy="358.6" r="3.85"/><circle cx="774.0" cy="351.8" r="3.85"/><circle cx="773.2" cy="339.3" r="3.85"/><circle cx="776.2" cy="361.2" r="3.85"/><circle cx="801.2" cy="338.0" r="3.85"/><circle cx="758.8" cy="335.8" r="3.85"/><circle cx="796.8" cy="330.4" r="3.85"/><circle cx="784.0" cy="356.9" r="3.85"/><circle cx="762.6" cy="351.5" r="3.85"/><circle cx="764.2" cy="352.8" r="3.85"/><circle cx="795.8" cy="329.8" r="3.85"/><circle cx="795.2" cy="346.5" r="3.85"/><circle cx="756.1" cy="334.0" r="3.85"/><circle cx="784.9" cy="364.7" r="3.85"/><circle cx="797.7" cy="351.0" r="3.85"/><circle cx="780.0" cy="365.4" r="3.85"/><circle cx="770.4" cy="330.7" r="3.85"/><circle cx="762.4" cy="345.8" r="3.85"/><circle cx="779.9" cy="330.5" r="3.85"/><circle cx="780.4" cy="354.7" r="3.85"/><circle cx="768.4" cy="371.7" r="3.85"/><circle cx="772.4" cy="357.7" r="3.85"/><circle cx="781.1" cy="373.5" r="3.85"/><circle cx="782.5" cy="347.6" r="3.85"/><circle cx="786.5" cy="367.9" r="3.85"/><circle cx="783.8" cy="350.7" r="3.85"/><circle cx="771.4" cy="362.4" r="3.85"/><circle cx="774.4" cy="352.4" r="3.85"/><circle cx="773.6" cy="377.2" r="3.85"/><circle cx="781.3" cy="366.0" r="3.85"/><circle cx="794.9" cy="363.7" r="3.85"/><circle cx="768.0" cy="339.6" r="3.85"/><circle cx="777.3" cy="334.7" r="3.85"/><circle cx="776.7" cy="358.6" r="3.85"/><circle cx="767.7" cy="372.4" r="3.85"/><circle cx="765.6" cy="341.2" r="3.85"/><circle cx="786.3" cy="360.4" r="3.85"/><circle cx="794.1" cy="335.7" r="3.85"/><circle cx="791.5" cy="341.2" r="3.85"/><circle cx="791.9" cy="354.3" r="3.85"/><circle cx="758.2" cy="332.5" r="3.85"/><circle cx="788.1" cy="377.6" r="3.85"/><circle cx="798.5" cy="353.2" r="3.85"/><circle cx="792.6" cy="357.1" r="3.85"/><circle cx="774.4" cy="347.7" r="3.85"/><circle cx="787.0" cy="355.1" r="3.85"/><circle cx="781.3" cy="358.5" r="3.85"/><circle cx="792.0" cy="361.9" r="3.85"/><circle cx="777.5" cy="353.1" r="3.85"/><circle cx="765.7" cy="362.8" r="3.85"/><circle cx="758.2" cy="349.0" r="3.85"/><circle cx="794.5" cy="361.8" r="3.85"/><circle cx="765.9" cy="330.3" r="3.85"/><circle cx="762.5" cy="332.7" r="3.85"/><circle cx="779.2" cy="349.8" r="3.85"/><circle cx="781.5" cy="339.5" r="3.85"/><circle cx="780.1" cy="352.2" r="3.85"/><circle cx="773.6" cy="358.5" r="3.85"/><circle cx="797.7" cy="360.4" r="3.85"/><circle cx="764.4" cy="351.8" r="3.85"/><circle cx="781.7" cy="358.0" r="3.85"/><circle cx="800.5" cy="334.2" r="3.85"/><circle cx="785.5" cy="356.0" r="3.85"/><circle cx="780.6" cy="360.8" r="3.85"/><circle cx="771.3" cy="369.4" r="3.85"/><circle cx="779.7" cy="336.9" r="3.85"/><circle cx="789.7" cy="333.5" r="3.85"/><circle cx="797.0" cy="328.8" r="3.85"/><circle cx="772.1" cy="370.1" r="3.85"/><circle cx="769.2" cy="352.8" r="3.85"/><circle cx="783.3" cy="346.6" r="3.85"/><circle cx="784.1" cy="328.6" r="3.85"/><circle cx="789.1" cy="357.4" r="3.85"/><circle cx="760.4" cy="343.6" r="3.85"/><circle cx="783.6" cy="336.1" r="3.85"/><circle cx="779.2" cy="368.1" r="3.85"/><circle cx="784.7" cy="364.6" r="3.85"/><circle cx="782.7" cy="328.4" r="3.85"/><circle cx="766.0" cy="371.8" r="3.85"/><circle cx="768.5" cy="372.5" r="3.85"/><circle cx="793.1" cy="351.9" r="3.85"/><circle cx="765.2" cy="337.9" r="3.85"/><circle cx="770.5" cy="339.7" r="3.85"/><circle cx="768.6" cy="360.3" r="3.85"/><circle cx="793.4" cy="372.9" r="3.85"/><circle cx="777.6" cy="360.5" r="3.85"/><circle cx="792.6" cy="375.1" r="3.85"/><circle cx="776.3" cy="330.3" r="3.85"/><circle cx="759.0" cy="365.5" r="3.85"/><circle cx="768.9" cy="335.5" r="3.85"/><circle cx="770.0" cy="337.4" r="3.85"/><circle cx="779.0" cy="330.3" r="3.85"/><circle cx="774.9" cy="365.8" r="3.85"/><circle cx="771.1" cy="366.9" r="3.85"/><circle cx="789.2" cy="353.8" r="3.85"/><circle cx="775.3" cy="369.2" r="3.85"/><circle cx="769.0" cy="329.7" r="3.85"/><circle cx="780.4" cy="372.1" r="3.85"/><circle cx="766.3" cy="357.9" r="3.85"/><circle cx="773.6" cy="336.9" r="3.85"/><circle cx="772.9" cy="368.4" r="3.85"/><circle cx="784.1" cy="376.1" r="3.85"/><circle cx="784.7" cy="370.1" r="3.85"/><circle cx="788.8" cy="364.5" r="3.85"/><circle cx="794.7" cy="355.9" r="3.85"/><circle cx="773.6" cy="369.9" r="3.85"/><circle cx="793.7" cy="359.2" r="3.85"/><circle cx="779.5" cy="330.7" r="3.85"/><circle cx="763.2" cy="355.4" r="3.85"/><circle cx="794.4" cy="364.9" r="3.85"/><circle cx="769.2" cy="359.6" r="3.85"/><circle cx="789.5" cy="367.3" r="3.85"/><circle cx="780.8" cy="352.4" r="3.85"/><circle cx="773.7" cy="339.6" r="3.85"/><circle cx="772.1" cy="349.7" r="3.85"/><circle cx="766.5" cy="373.6" r="3.85"/><circle cx="783.9" cy="361.9" r="3.85"/><circle cx="773.7" cy="350.0" r="3.85"/><circle cx="765.2" cy="363.1" r="3.85"/><circle cx="764.4" cy="366.6" r="3.85"/><circle cx="775.0" cy="363.8" r="3.85"/><circle cx="799.8" cy="339.4" r="3.85"/><circle cx="773.8" cy="371.3" r="3.85"/><circle cx="785.7" cy="344.2" r="3.85"/><circle cx="786.1" cy="357.4" r="3.85"/><circle cx="790.6" cy="365.5" r="3.85"/><circle cx="768.9" cy="346.7" r="3.85"/><circle cx="791.5" cy="332.6" r="3.85"/><circle cx="767.4" cy="375.8" r="3.85"/><circle cx="772.9" cy="368.0" r="3.85"/><circle cx="772.7" cy="375.9" r="3.85"/><circle cx="791.5" cy="368.9" r="3.85"/><circle cx="769.1" cy="342.3" r="3.85"/><circle cx="774.7" cy="343.9" r="3.85"/><circle cx="790.3" cy="336.5" r="3.85"/><circle cx="791.5" cy="375.7" r="3.85"/><circle cx="772.9" cy="375.5" r="3.85"/><circle cx="763.3" cy="338.6" r="3.85"/><circle cx="759.1" cy="340.7" r="3.85"/><circle cx="790.5" cy="358.3" r="3.85"/><circle cx="760.6" cy="363.9" r="3.85"/><circle cx="797.7" cy="356.8" r="3.85"/><circle cx="794.8" cy="341.2" r="3.85"/><circle cx="759.9" cy="355.4" r="3.85"/><circle cx="779.9" cy="356.6" r="3.85"/><circle cx="785.8" cy="371.5" r="3.85"/><circle cx="790.7" cy="343.0" r="3.85"/><circle cx="799.9" cy="350.8" r="3.85"/><circle cx="771.8" cy="350.9" r="3.85"/><circle cx="776.6" cy="360.1" r="3.85"/><circle cx="764.4" cy="362.4" r="3.85"/><circle cx="769.8" cy="344.6" r="3.85"/><circle cx="776.5" cy="352.3" r="3.85"/><circle cx="770.1" cy="360.4" r="3.85"/><circle cx="781.2" cy="370.8" r="3.85"/><circle cx="781.8" cy="337.4" r="3.85"/><circle cx="785.4" cy="369.4" r="3.85"/><circle cx="791.7" cy="355.0" r="3.85"/><circle cx="772.8" cy="372.2" r="3.85"/><circle cx="765.9" cy="367.6" r="3.85"/><circle cx="786.1" cy="368.1" r="3.85"/><circle cx="773.5" cy="372.2" r="3.85"/><circle cx="769.9" cy="359.8" r="3.85"/><circle cx="797.2" cy="377.3" r="3.85"/><circle cx="788.5" cy="373.7" r="3.85"/><circle cx="763.4" cy="349.9" r="3.85"/><circle cx="767.0" cy="356.3" r="3.85"/><circle cx="793.7" cy="377.4" r="3.85"/><circle cx="799.1" cy="346.7" r="3.85"/><circle cx="772.1" cy="365.4" r="3.85"/><circle cx="789.8" cy="376.5" r="3.85"/><circle cx="766.9" cy="363.1" r="3.85"/><circle cx="795.0" cy="335.9" r="3.85"/><circle cx="796.1" cy="339.0" r="3.85"/><circle cx="765.4" cy="361.6" r="3.85"/><circle cx="774.3" cy="362.0" r="3.85"/><circle cx="789.9" cy="359.5" r="3.85"/><circle cx="781.6" cy="375.8" r="3.85"/><circle cx="790.7" cy="337.2" r="3.85"/><circle cx="779.0" cy="331.0" r="3.85"/><circle cx="772.1" cy="370.0" r="3.85"/><circle cx="784.3" cy="373.9" r="3.85"/><circle cx="793.2" cy="355.9" r="3.85"/><circle cx="777.7" cy="375.8" r="3.85"/><circle cx="753.4" cy="342.0" r="3.85"/><circle cx="791.8" cy="335.5" r="3.85"/><circle cx="785.2" cy="363.8" r="3.85"/><circle cx="773.3" cy="357.0" r="3.85"/><circle cx="796.4" cy="344.8" r="3.85"/><circle cx="772.5" cy="369.7" r="3.85"/><circle cx="774.2" cy="349.9" r="3.85"/><circle cx="773.6" cy="373.6" r="3.85"/><circle cx="802.8" cy="329.7" r="3.85"/><circle cx="802.8" cy="329.6" r="3.85"/><circle cx="757.5" cy="337.6" r="3.85"/><circle cx="770.5" cy="347.7" r="3.85"/><circle cx="778.3" cy="330.6" r="3.85"/><circle cx="772.3" cy="363.0" r="3.85"/><circle cx="768.3" cy="376.4" r="3.85"/><circle cx="761.7" cy="355.7" r="3.85"/><circle cx="782.2" cy="359.4" r="3.85"/><circle cx="781.8" cy="351.6" r="3.85"/><circle cx="766.2" cy="372.2" r="3.85"/><circle cx="760.3" cy="350.7" r="3.85"/><circle cx="764.6" cy="365.3" r="3.85"/><circle cx="778.9" cy="365.4" r="3.85"/><circle cx="781.3" cy="366.6" r="3.85"/><circle cx="782.0" cy="352.4" r="3.85"/><circle cx="763.5" cy="357.6" r="3.85"/><circle cx="781.9" cy="335.1" r="3.85"/><circle cx="757.5" cy="340.3" r="3.85"/><circle cx="758.7" cy="342.1" r="3.85"/><circle cx="763.5" cy="358.4" r="3.85"/><circle cx="788.2" cy="349.9" r="3.85"/><circle cx="762.7" cy="339.4" r="3.85"/><circle cx="760.0" cy="359.4" r="3.85"/><circle cx="771.4" cy="367.3" r="3.85"/><circle cx="795.3" cy="356.7" r="3.85"/><circle cx="782.9" cy="334.6" r="3.85"/><circle cx="761.9" cy="334.7" r="3.85"/><circle cx="790.1" cy="360.9" r="3.85"/><circle cx="763.5" cy="336.9" r="3.85"/><circle cx="801.4" cy="341.3" r="3.85"/><circle cx="781.9" cy="375.7" r="3.85"/><circle cx="788.8" cy="350.6" r="3.85"/><circle cx="786.3" cy="332.0" r="3.85"/><circle cx="777.1" cy="368.3" r="3.85"/><circle cx="767.8" cy="349.0" r="3.85"/><circle cx="787.5" cy="372.4" r="3.85"/><circle cx="769.8" cy="350.4" r="3.85"/><circle cx="762.9" cy="359.0" r="3.85"/><circle cx="788.3" cy="351.2" r="3.85"/><circle cx="758.5" cy="330.8" r="3.85"/><circle cx="779.4" cy="370.3" r="3.85"/><circle cx="762.4" cy="338.2" r="3.85"/><circle cx="786.9" cy="337.3" r="3.85"/><circle cx="763.1" cy="354.3" r="3.85"/><circle cx="794.4" cy="358.3" r="3.85"/><circle cx="774.6" cy="374.1" r="3.85"/><circle cx="782.3" cy="333.5" r="3.85"/><circle cx="774.6" cy="369.4" r="3.85"/><circle cx="775.1" cy="349.2" r="3.85"/><circle cx="781.6" cy="377.5" r="3.85"/><circle cx="777.6" cy="376.8" r="3.85"/><circle cx="766.7" cy="375.6" r="3.85"/><circle cx="771.1" cy="364.3" r="3.85"/><circle cx="781.8" cy="364.8" r="3.85"/><circle cx="796.3" cy="330.4" r="3.85"/><circle cx="792.7" cy="350.1" r="3.85"/><circle cx="785.7" cy="339.5" r="3.85"/><circle cx="769.7" cy="359.8" r="3.85"/><circle cx="801.5" cy="334.6" r="3.85"/><circle cx="790.3" cy="362.8" r="3.85"/><circle cx="784.2" cy="352.6" r="3.85"/><circle cx="776.5" cy="350.5" r="3.85"/><circle cx="770.9" cy="361.1" r="3.85"/><circle cx="774.8" cy="354.0" r="3.85"/><circle cx="775.1" cy="366.2" r="3.85"/><circle cx="790.8" cy="377.5" r="3.85"/><circle cx="781.7" cy="355.8" r="3.85"/><circle cx="766.1" cy="369.5" r="3.85"/><circle cx="787.9" cy="362.5" r="3.85"/><circle cx="770.0" cy="331.4" r="3.85"/><circle cx="765.2" cy="348.9" r="3.85"/><circle cx="797.7" cy="349.1" r="3.85"/><circle cx="775.4" cy="339.5" r="3.85"/><circle cx="778.7" cy="374.5" r="3.85"/><circle cx="773.0" cy="364.2" r="3.85"/><circle cx="770.4" cy="369.7" r="3.85"/><circle cx="776.4" cy="367.0" r="3.85"/><circle cx="795.7" cy="348.0" r="3.85"/><circle cx="789.6" cy="368.1" r="3.85"/><circle cx="758.7" cy="348.1" r="3.85"/><circle cx="773.5" cy="334.5" r="3.85"/><circle cx="780.9" cy="368.5" r="3.85"/><circle cx="794.1" cy="346.1" r="3.85"/><circle cx="789.3" cy="361.6" r="3.85"/><circle cx="785.5" cy="357.7" r="3.85"/><circle cx="777.2" cy="375.0" r="3.85"/><circle cx="772.4" cy="346.8" r="3.85"/><circle cx="769.5" cy="348.2" r="3.85"/><circle cx="793.3" cy="377.2" r="3.85"/><circle cx="756.7" cy="328.9" r="3.85"/><circle cx="773.6" cy="342.0" r="3.85"/><circle cx="765.2" cy="370.1" r="3.85"/><circle cx="789.2" cy="373.4" r="3.85"/><circle cx="783.0" cy="351.1" r="3.85"/><circle cx="783.2" cy="345.3" r="3.85"/><circle cx="767.4" cy="341.1" r="3.85"/><circle cx="790.1" cy="340.0" r="3.85"/><circle cx="799.8" cy="339.6" r="3.85"/><circle cx="780.4" cy="364.0" r="3.85"/><circle cx="763.0" cy="371.3" r="3.85"/><circle cx="790.0" cy="345.4" r="3.85"/><circle cx="764.4" cy="328.8" r="3.85"/><circle cx="767.0" cy="373.4" r="3.85"/><circle cx="779.4" cy="374.8" r="3.85"/><circle cx="793.3" cy="368.8" r="3.85"/><circle cx="766.8" cy="370.4" r="3.85"/><circle cx="767.8" cy="332.2" r="3.85"/><circle cx="764.7" cy="339.3" r="3.85"/><circle cx="784.2" cy="353.1" r="3.85"/><circle cx="777.7" cy="338.2" r="3.85"/><circle cx="758.6" cy="333.1" r="3.85"/><circle cx="783.8" cy="374.6" r="3.85"/><circle cx="758.4" cy="335.0" r="3.85"/><circle cx="799.5" cy="357.5" r="3.85"/><circle cx="769.4" cy="346.8" r="3.85"/><circle cx="777.3" cy="364.8" r="3.85"/><circle cx="789.1" cy="367.8" r="3.85"/><circle cx="794.4" cy="363.0" r="3.85"/><circle cx="762.3" cy="349.6" r="3.85"/><circle cx="767.1" cy="334.8" r="3.85"/><circle cx="770.5" cy="337.1" r="3.85"/><circle cx="791.7" cy="353.8" r="3.85"/><circle cx="783.4" cy="344.0" r="3.85"/><circle cx="792.4" cy="349.1" r="3.85"/><circle cx="771.8" cy="334.1" r="3.85"/><circle cx="761.7" cy="335.1" r="3.85"/><circle cx="772.3" cy="328.5" r="3.85"/><circle cx="790.6" cy="372.3" r="3.85"/><circle cx="760.8" cy="332.7" r="3.85"/><circle cx="767.1" cy="373.0" r="3.85"/><circle cx="772.7" cy="373.4" r="3.85"/><circle cx="800.5" cy="342.3" r="3.85"/><circle cx="769.3" cy="376.2" r="3.85"/><circle cx="759.4" cy="343.7" r="3.85"/><circle cx="777.4" cy="366.4" r="3.85"/><circle cx="793.3" cy="376.8" r="3.85"/><circle cx="762.0" cy="334.3" r="3.85"/><circle cx="777.3" cy="371.1" r="3.85"/><circle cx="762.1" cy="343.9" r="3.85"/><circle cx="765.2" cy="353.0" r="3.85"/><circle cx="794.5" cy="353.2" r="3.85"/><circle cx="799.4" cy="367.2" r="3.85"/><circle cx="771.3" cy="341.6" r="3.85"/><circle cx="767.9" cy="364.7" r="3.85"/><circle cx="775.5" cy="352.6" r="3.85"/><circle cx="758.9" cy="359.9" r="3.85"/><circle cx="781.2" cy="345.5" r="3.85"/><circle cx="804.5" cy="343.6" r="3.85"/><circle cx="775.4" cy="342.3" r="3.85"/><circle cx="796.3" cy="357.1" r="3.85"/><circle cx="776.6" cy="358.7" r="3.85"/><circle cx="754.1" cy="328.4" r="3.85"/><circle cx="767.1" cy="331.9" r="3.85"/><circle cx="771.2" cy="359.2" r="3.85"/><circle cx="792.7" cy="372.1" r="3.85"/><circle cx="756.0" cy="332.8" r="3.85"/><circle cx="784.9" cy="361.8" r="3.85"/><circle cx="791.6" cy="362.2" r="3.85"/><circle cx="794.9" cy="340.9" r="3.85"/><circle cx="796.6" cy="348.5" r="3.85"/><circle cx="788.8" cy="346.6" r="3.85"/><circle cx="774.6" cy="342.5" r="3.85"/><circle cx="785.9" cy="347.5" r="3.85"/><circle cx="780.8" cy="346.7" r="3.85"/><circle cx="767.2" cy="347.5" r="3.85"/><circle cx="788.1" cy="354.4" r="3.85"/><circle cx="770.6" cy="354.2" r="3.85"/><circle cx="780.7" cy="331.9" r="3.85"/><circle cx="790.0" cy="351.7" r="3.85"/><circle cx="790.1" cy="369.3" r="3.85"/><circle cx="796.2" cy="346.1" r="3.85"/><circle cx="759.8" cy="334.8" r="3.85"/><circle cx="790.5" cy="336.6" r="3.85"/><circle cx="772.8" cy="370.2" r="3.85"/><circle cx="790.8" cy="360.2" r="3.85"/><circle cx="764.2" cy="355.4" r="3.85"/><circle cx="788.4" cy="328.4" r="3.85"/><circle cx="792.8" cy="354.1" r="3.85"/><circle cx="785.0" cy="370.4" r="3.85"/><circle cx="769.6" cy="352.0" r="3.85"/><circle cx="776.1" cy="361.0" r="3.85"/><circle cx="781.1" cy="367.9" r="3.85"/><circle cx="785.9" cy="369.0" r="3.85"/><circle cx="767.9" cy="361.8" r="3.85"/><circle cx="784.8" cy="373.3" r="3.85"/><circle cx="776.2" cy="367.8" r="3.85"/><circle cx="775.4" cy="347.2" r="3.85"/><circle cx="773.5" cy="355.9" r="3.85"/><circle cx="775.7" cy="363.2" r="3.85"/><circle cx="773.1" cy="337.7" r="3.85"/><circle cx="793.6" cy="349.2" r="3.85"/><circle cx="788.6" cy="329.7" r="3.85"/><circle cx="773.9" cy="344.9" r="3.85"/><circle cx="773.9" cy="340.4" r="3.85"/><circle cx="797.6" cy="353.2" r="3.85"/><circle cx="782.2" cy="376.6" r="3.85"/><circle cx="791.9" cy="354.9" r="3.85"/><circle cx="794.1" cy="354.4" r="3.85"/><circle cx="779.9" cy="353.5" r="3.85"/><circle cx="789.0" cy="344.6" r="3.85"/><circle cx="785.3" cy="375.8" r="3.85"/><circle cx="788.6" cy="339.7" r="3.85"/><circle cx="761.7" cy="366.9" r="3.85"/><circle cx="763.6" cy="372.8" r="3.85"/><circle cx="759.2" cy="349.9" r="3.85"/><circle cx="778.8" cy="342.6" r="3.85"/><circle cx="775.6" cy="343.6" r="3.85"/><circle cx="797.8" cy="328.4" r="3.85"/><circle cx="773.6" cy="370.6" r="3.85"/><circle cx="792.8" cy="377.5" r="3.85"/><circle cx="773.5" cy="364.8" r="3.85"/><circle cx="781.9" cy="335.3" r="3.85"/><circle cx="764.0" cy="357.0" r="3.85"/><circle cx="796.0" cy="334.9" r="3.85"/><circle cx="771.4" cy="365.1" r="3.85"/><circle cx="774.3" cy="351.2" r="3.85"/><circle cx="782.4" cy="353.6" r="3.85"/><circle cx="762.6" cy="338.1" r="3.85"/><circle cx="763.0" cy="350.3" r="3.85"/><circle cx="775.5" cy="351.4" r="3.85"/><circle cx="769.5" cy="361.8" r="3.85"/><circle cx="788.3" cy="363.4" r="3.85"/><circle cx="777.0" cy="348.5" r="3.85"/><circle cx="790.2" cy="355.8" r="3.85"/><circle cx="783.3" cy="356.3" r="3.85"/><circle cx="758.6" cy="335.1" r="3.85"/><circle cx="794.4" cy="368.9" r="3.85"/><circle cx="779.2" cy="338.2" r="3.85"/><circle cx="772.0" cy="344.4" r="3.85"/><circle cx="759.4" cy="336.3" r="3.85"/><circle cx="768.6" cy="367.6" r="3.85"/><circle cx="798.3" cy="339.0" r="3.85"/><circle cx="766.6" cy="345.2" r="3.85"/><circle cx="768.3" cy="343.8" r="3.85"/><circle cx="755.8" cy="343.4" r="3.85"/><circle cx="769.1" cy="363.3" r="3.85"/><circle cx="781.1" cy="362.0" r="3.85"/><circle cx="769.5" cy="332.7" r="3.85"/><circle cx="792.4" cy="370.3" r="3.85"/><circle cx="762.8" cy="358.4" r="3.85"/><circle cx="767.4" cy="346.1" r="3.85"/><circle cx="778.0" cy="373.2" r="3.85"/><circle cx="784.7" cy="356.5" r="3.85"/><circle cx="758.0" cy="336.8" r="3.85"/><circle cx="800.7" cy="328.5" r="3.85"/><circle cx="773.0" cy="363.4" r="3.85"/><circle cx="792.3" cy="353.2" r="3.85"/><circle cx="794.5" cy="353.8" r="3.85"/><circle cx="766.1" cy="351.0" r="3.85"/><circle cx="796.3" cy="364.4" r="3.85"/><circle cx="790.2" cy="366.6" r="3.85"/><circle cx="796.9" cy="348.2" r="3.85"/><circle cx="784.7" cy="331.0" r="3.85"/><circle cx="777.7" cy="361.3" r="3.85"/><circle cx="762.9" cy="341.1" r="3.85"/><circle cx="763.1" cy="363.1" r="3.85"/><circle cx="781.3" cy="373.1" r="3.85"/><circle cx="778.1" cy="348.3" r="3.85"/><circle cx="761.8" cy="352.4" r="3.85"/><circle cx="781.7" cy="371.3" r="3.85"/><circle cx="784.3" cy="359.3" r="3.85"/><circle cx="793.0" cy="369.4" r="3.85"/><circle cx="796.1" cy="336.1" r="3.85"/><circle cx="762.4" cy="370.4" r="3.85"/><circle cx="779.2" cy="372.0" r="3.85"/><circle cx="778.4" cy="372.0" r="3.85"/><circle cx="779.6" cy="351.3" r="3.85"/><circle cx="776.5" cy="368.0" r="3.85"/><circle cx="768.7" cy="371.5" r="3.85"/><circle cx="790.5" cy="353.0" r="3.85"/><circle cx="778.7" cy="331.1" r="3.85"/><circle cx="785.8" cy="349.6" r="3.85"/><circle cx="766.2" cy="340.7" r="3.85"/><circle cx="775.8" cy="376.3" r="3.85"/><circle cx="790.1" cy="363.4" r="3.85"/><circle cx="767.8" cy="349.2" r="3.85"/><circle cx="786.3" cy="339.0" r="3.85"/><circle cx="783.8" cy="365.7" r="3.85"/><circle cx="783.5" cy="375.8" r="3.85"/><circle cx="770.9" cy="337.5" r="3.85"/><circle cx="791.1" cy="355.0" r="3.85"/><circle cx="775.4" cy="331.2" r="3.85"/><circle cx="769.7" cy="373.5" r="3.85"/><circle cx="765.8" cy="344.2" r="3.85"/><circle cx="770.7" cy="370.9" r="3.85"/><circle cx="802.0" cy="361.4" r="3.85"/><circle cx="778.4" cy="338.6" r="3.85"/><circle cx="800.0" cy="339.2" r="3.85"/><circle cx="765.7" cy="346.3" r="3.85"/><circle cx="789.2" cy="335.9" r="3.85"/><circle cx="774.1" cy="342.3" r="3.85"/><circle cx="788.7" cy="330.0" r="3.85"/><circle cx="793.2" cy="371.1" r="3.85"/><circle cx="792.9" cy="333.0" r="3.85"/><circle cx="783.2" cy="338.1" r="3.85"/><circle cx="794.9" cy="337.0" r="3.85"/><circle cx="796.4" cy="363.0" r="3.85"/><circle cx="756.3" cy="331.0" r="3.85"/><circle cx="766.1" cy="338.8" r="3.85"/><circle cx="768.9" cy="366.3" r="3.85"/><circle cx="779.0" cy="366.1" r="3.85"/><circle cx="787.7" cy="343.9" r="3.85"/><circle cx="793.7" cy="339.0" r="3.85"/><circle cx="793.8" cy="331.2" r="3.85"/><circle cx="785.3" cy="373.5" r="3.85"/><circle cx="783.5" cy="361.0" r="3.85"/><circle cx="757.4" cy="338.5" r="3.85"/><circle cx="764.6" cy="377.0" r="3.85"/><circle cx="783.2" cy="357.1" r="3.85"/><circle cx="769.6" cy="361.2" r="3.85"/><circle cx="784.1" cy="336.0" r="3.85"/><circle cx="770.9" cy="373.5" r="3.85"/><circle cx="786.7" cy="355.9" r="3.85"/><circle cx="783.8" cy="371.8" r="3.85"/><circle cx="767.0" cy="337.1" r="3.85"/><circle cx="773.8" cy="330.4" r="3.85"/><circle cx="785.6" cy="333.7" r="3.85"/><circle cx="779.3" cy="358.3" r="3.85"/><circle cx="795.3" cy="352.7" r="3.85"/><circle cx="763.8" cy="336.7" r="3.85"/><circle cx="766.4" cy="377.8" r="3.85"/><circle cx="789.6" cy="355.3" r="3.85"/><circle cx="763.9" cy="360.4" r="3.85"/><circle cx="779.9" cy="335.1" r="3.85"/><circle cx="799.5" cy="331.8" r="3.85"/><circle cx="783.2" cy="374.1" r="3.85"/><circle cx="772.2" cy="330.4" r="3.85"/><circle cx="774.0" cy="346.5" r="3.85"/><circle cx="796.7" cy="344.3" r="3.85"/><circle cx="792.6" cy="359.8" r="3.85"/><circle cx="787.9" cy="336.5" r="3.85"/><circle cx="791.3" cy="355.6" r="3.85"/><circle cx="787.2" cy="341.7" r="3.85"/><circle cx="762.4" cy="361.7" r="3.85"/><circle cx="762.1" cy="333.7" r="3.85"/><circle cx="761.9" cy="349.3" r="3.85"/><circle cx="784.7" cy="340.8" r="3.85"/><circle cx="769.9" cy="340.1" r="3.85"/><circle cx="799.3" cy="357.0" r="3.85"/><circle cx="786.7" cy="338.0" r="3.85"/><circle cx="790.3" cy="330.1" r="3.85"/><circle cx="766.5" cy="364.1" r="3.85"/><circle cx="791.4" cy="336.9" r="3.85"/><circle cx="780.0" cy="370.9" r="3.85"/><circle cx="785.9" cy="369.8" r="3.85"/><circle cx="764.8" cy="362.4" r="3.85"/><circle cx="801.7" cy="358.9" r="3.85"/><circle cx="771.0" cy="368.6" r="3.85"/><circle cx="773.3" cy="368.1" r="3.85"/><circle cx="771.8" cy="372.5" r="3.85"/><circle cx="794.5" cy="358.7" r="3.85"/><circle cx="793.2" cy="367.7" r="3.85"/><circle cx="786.5" cy="336.4" r="3.85"/><circle cx="764.6" cy="362.2" r="3.85"/><circle cx="781.8" cy="354.5" r="3.85"/><circle cx="770.2" cy="340.5" r="3.85"/><circle cx="780.5" cy="332.4" r="3.85"/><circle cx="767.6" cy="346.6" r="3.85"/><circle cx="790.3" cy="375.8" r="3.85"/><circle cx="793.5" cy="360.3" r="3.85"/><circle cx="763.6" cy="365.8" r="3.85"/><circle cx="786.7" cy="340.5" r="3.85"/><circle cx="763.8" cy="337.8" r="3.85"/><circle cx="800.5" cy="345.9" r="3.85"/><circle cx="790.4" cy="343.5" r="3.85"/><circle cx="789.6" cy="331.2" r="3.85"/><circle cx="789.9" cy="358.4" r="3.85"/><circle cx="792.4" cy="368.6" r="3.85"/><circle cx="787.7" cy="352.0" r="3.85"/><circle cx="775.2" cy="371.2" r="3.85"/><circle cx="779.4" cy="357.4" r="3.85"/><circle cx="782.4" cy="344.7" r="3.85"/><circle cx="768.2" cy="349.4" r="3.85"/><circle cx="791.3" cy="338.8" r="3.85"/><circle cx="790.1" cy="344.6" r="3.85"/><circle cx="800.4" cy="333.3" r="3.85"/><circle cx="787.5" cy="337.2" r="3.85"/><circle cx="787.0" cy="371.3" r="3.85"/><circle cx="772.3" cy="347.5" r="3.85"/><circle cx="791.0" cy="347.9" r="3.85"/><circle cx="771.9" cy="367.3" r="3.85"/><circle cx="803.1" cy="344.3" r="3.85"/><circle cx="784.9" cy="360.0" r="3.85"/><circle cx="773.7" cy="336.3" r="3.85"/><circle cx="766.1" cy="346.7" r="3.85"/><circle cx="777.5" cy="374.9" r="3.85"/><circle cx="754.8" cy="337.8" r="3.85"/><circle cx="769.4" cy="372.4" r="3.85"/><circle cx="772.8" cy="361.0" r="3.85"/><circle cx="787.9" cy="367.0" r="3.85"/><circle cx="793.6" cy="336.2" r="3.85"/><circle cx="785.8" cy="376.3" r="3.85"/><circle cx="777.0" cy="352.8" r="3.85"/><circle cx="789.2" cy="346.6" r="3.85"/><circle cx="779.8" cy="358.0" r="3.85"/><circle cx="796.0" cy="366.6" r="3.85"/><circle cx="797.9" cy="338.0" r="3.85"/><circle cx="759.1" cy="329.0" r="3.85"/><circle cx="777.6" cy="371.2" r="3.85"/><circle cx="777.5" cy="342.7" r="3.85"/><circle cx="776.4" cy="368.4" r="3.85"/><circle cx="787.6" cy="368.2" r="3.85"/><circle cx="766.2" cy="356.1" r="3.85"/><circle cx="770.9" cy="368.1" r="3.85"/><circle cx="802.6" cy="343.1" r="3.85"/><circle cx="801.6" cy="330.9" r="3.85"/><circle cx="763.6" cy="342.2" r="3.85"/><circle cx="792.4" cy="377.2" r="3.85"/><circle cx="770.2" cy="346.6" r="3.85"/><circle cx="785.1" cy="369.7" r="3.85"/><circle cx="765.8" cy="362.7" r="3.85"/><circle cx="796.9" cy="360.2" r="3.85"/><circle cx="767.3" cy="355.3" r="3.85"/><circle cx="788.6" cy="370.2" r="3.85"/><circle cx="802.4" cy="328.8" r="3.85"/><circle cx="789.2" cy="354.2" r="3.85"/><circle cx="781.4" cy="372.4" r="3.85"/><circle cx="773.0" cy="367.5" r="3.85"/><circle cx="791.6" cy="332.8" r="3.85"/><circle cx="775.9" cy="329.3" r="3.85"/><circle cx="793.5" cy="358.8" r="3.85"/><circle cx="765.6" cy="371.2" r="3.85"/><circle cx="775.7" cy="348.8" r="3.85"/><circle cx="792.0" cy="336.7" r="3.85"/><circle cx="792.1" cy="375.7" r="3.85"/><circle cx="773.1" cy="374.3" r="3.85"/><circle cx="778.5" cy="334.0" r="3.85"/><circle cx="768.2" cy="367.6" r="3.85"/><circle cx="763.5" cy="358.9" r="3.85"/><circle cx="769.5" cy="371.6" r="3.85"/><circle cx="785.6" cy="348.8" r="3.85"/><circle cx="760.3" cy="356.0" r="3.85"/><circle cx="778.4" cy="375.2" r="3.85"/><circle cx="787.0" cy="344.5" r="3.85"/><circle cx="787.3" cy="345.7" r="3.85"/><circle cx="794.0" cy="370.8" r="3.85"/><circle cx="768.4" cy="374.7" r="3.85"/><circle cx="774.9" cy="366.5" r="3.85"/><circle cx="786.2" cy="337.0" r="3.85"/><circle cx="762.6" cy="375.9" r="3.85"/><circle cx="764.1" cy="338.1" r="3.85"/><circle cx="792.1" cy="365.9" r="3.85"/><circle cx="799.1" cy="344.5" r="3.85"/><circle cx="770.5" cy="332.3" r="3.85"/><circle cx="785.6" cy="376.9" r="3.85"/><circle cx="787.5" cy="329.6" r="3.85"/><circle cx="764.1" cy="337.8" r="3.85"/><circle cx="791.0" cy="372.6" r="3.85"/><circle cx="751.4" cy="332.4" r="3.85"/><circle cx="792.4" cy="350.3" r="3.85"/><circle cx="783.9" cy="347.1" r="3.85"/><circle cx="764.3" cy="374.0" r="3.85"/><circle cx="776.6" cy="363.4" r="3.85"/><circle cx="754.5" cy="340.9" r="3.85"/><circle cx="777.8" cy="337.6" r="3.85"/><circle cx="767.4" cy="345.6" r="3.85"/><circle cx="795.7" cy="372.4" r="3.85"/><circle cx="762.1" cy="360.4" r="3.85"/><circle cx="791.5" cy="335.7" r="3.85"/><circle cx="770.8" cy="359.6" r="3.85"/><circle cx="783.9" cy="370.5" r="3.85"/><circle cx="762.9" cy="339.7" r="3.85"/><circle cx="786.1" cy="372.2" r="3.85"/><circle cx="777.6" cy="352.1" r="3.85"/><circle cx="787.0" cy="347.6" r="3.85"/><circle cx="795.3" cy="341.5" r="3.85"/><circle cx="786.4" cy="336.4" r="3.85"/><circle cx="793.7" cy="344.1" r="3.85"/><circle cx="760.8" cy="334.3" r="3.85"/><circle cx="786.2" cy="355.9" r="3.85"/><circle cx="774.3" cy="362.9" r="3.85"/><circle cx="776.9" cy="373.1" r="3.85"/><circle cx="800.4" cy="345.4" r="3.85"/><circle cx="805.0" cy="336.4" r="3.85"/><circle cx="770.7" cy="364.2" r="3.85"/><circle cx="768.8" cy="376.8" r="3.85"/><circle cx="770.1" cy="332.2" r="3.85"/><circle cx="799.5" cy="339.4" r="3.85"/><circle cx="760.4" cy="351.5" r="3.85"/><circle cx="783.6" cy="362.3" r="3.85"/><circle cx="794.4" cy="351.2" r="3.85"/><circle cx="785.5" cy="351.5" r="3.85"/><circle cx="773.9" cy="331.4" r="3.85"/><circle cx="794.6" cy="343.7" r="3.85"/><circle cx="770.1" cy="367.3" r="3.85"/><circle cx="770.7" cy="377.2" r="3.85"/><circle cx="764.4" cy="328.8" r="3.85"/><circle cx="788.6" cy="343.8" r="3.85"/><circle cx="769.8" cy="340.5" r="3.85"/><circle cx="784.4" cy="376.5" r="3.85"/><circle cx="797.3" cy="365.0" r="3.85"/><circle cx="786.1" cy="348.5" r="3.85"/><circle cx="773.0" cy="343.4" r="3.85"/><circle cx="764.7" cy="374.5" r="3.85"/><circle cx="766.2" cy="370.8" r="3.85"/><circle cx="787.0" cy="329.8" r="3.85"/><circle cx="768.4" cy="339.7" r="3.85"/><circle cx="775.6" cy="362.8" r="3.85"/><circle cx="786.1" cy="355.8" r="3.85"/><circle cx="770.5" cy="331.6" r="3.85"/><circle cx="788.2" cy="376.3" r="3.85"/><circle cx="794.5" cy="335.5" r="3.85"/><circle cx="764.8" cy="364.1" r="3.85"/><circle cx="762.0" cy="333.0" r="3.85"/><circle cx="784.7" cy="348.7" r="3.85"/><circle cx="761.8" cy="370.7" r="3.85"/><circle cx="785.3" cy="358.9" r="3.85"/><circle cx="768.3" cy="366.8" r="3.85"/><circle cx="757.9" cy="335.6" r="3.85"/><circle cx="785.9" cy="359.8" r="3.85"/><circle cx="769.1" cy="338.8" r="3.85"/><circle cx="766.0" cy="351.9" r="3.85"/><circle cx="770.4" cy="338.4" r="3.85"/><circle cx="769.3" cy="339.9" r="3.85"/><circle cx="775.5" cy="367.0" r="3.85"/><circle cx="777.9" cy="346.1" r="3.85"/><circle cx="785.6" cy="375.3" r="3.85"/><circle cx="763.2" cy="366.2" r="3.85"/><circle cx="777.8" cy="372.1" r="3.85"/><circle cx="766.8" cy="373.2" r="3.85"/><circle cx="770.3" cy="369.2" r="3.85"/><circle cx="766.0" cy="372.0" r="3.85"/><circle cx="797.0" cy="354.6" r="3.85"/><circle cx="768.9" cy="374.3" r="3.85"/><circle cx="798.5" cy="349.9" r="3.85"/><circle cx="756.9" cy="335.3" r="3.85"/><circle cx="770.8" cy="351.8" r="3.85"/><circle cx="769.3" cy="335.0" r="3.85"/><circle cx="794.2" cy="364.7" r="3.85"/><circle cx="761.3" cy="341.6" r="3.85"/><circle cx="767.4" cy="362.1" r="3.85"/><circle cx="761.0" cy="359.9" r="3.85"/><circle cx="770.3" cy="354.0" r="3.85"/><circle cx="779.8" cy="345.5" r="3.85"/><circle cx="789.0" cy="354.5" r="3.85"/><circle cx="779.3" cy="366.2" r="3.85"/><circle cx="761.7" cy="345.6" r="3.85"/><circle cx="793.0" cy="331.0" r="3.85"/><circle cx="791.7" cy="359.6" r="3.85"/><circle cx="783.6" cy="366.6" r="3.85"/><circle cx="772.5" cy="373.8" r="3.85"/><circle cx="767.9" cy="356.1" r="3.85"/><circle cx="783.9" cy="340.7" r="3.85"/><circle cx="784.2" cy="357.9" r="3.85"/><circle cx="766.9" cy="330.8" r="3.85"/><circle cx="797.1" cy="352.5" r="3.85"/><circle cx="784.1" cy="328.7" r="3.85"/><circle cx="761.9" cy="336.5" r="3.85"/><circle cx="765.7" cy="355.2" r="3.85"/><circle cx="776.2" cy="361.9" r="3.85"/><circle cx="760.5" cy="344.7" r="3.85"/><circle cx="787.3" cy="369.8" r="3.85"/><circle cx="769.5" cy="347.7" r="3.85"/><circle cx="786.1" cy="350.0" r="3.85"/><circle cx="762.2" cy="365.9" r="3.85"/><circle cx="766.8" cy="370.4" r="3.85"/><circle cx="791.1" cy="349.0" r="3.85"/><circle cx="766.9" cy="366.2" r="3.85"/><circle cx="775.0" cy="355.4" r="3.85"/><circle cx="798.6" cy="345.0" r="3.85"/><circle cx="794.4" cy="364.5" r="3.85"/><circle cx="789.7" cy="375.3" r="3.85"/><circle cx="773.4" cy="377.0" r="3.85"/><circle cx="796.1" cy="329.9" r="3.85"/><circle cx="795.9" cy="351.6" r="3.85"/><circle cx="779.7" cy="345.5" r="3.85"/><circle cx="785.2" cy="365.8" r="3.85"/><circle cx="801.9" cy="338.1" r="3.85"/><circle cx="761.2" cy="368.3" r="3.85"/><circle cx="764.8" cy="349.6" r="3.85"/><circle cx="770.6" cy="365.2" r="3.85"/><circle cx="784.7" cy="351.9" r="3.85"/><circle cx="784.6" cy="341.1" r="3.85"/><circle cx="788.4" cy="344.5" r="3.85"/><circle cx="787.2" cy="354.3" r="3.85"/><circle cx="762.2" cy="345.8" r="3.85"/><circle cx="767.9" cy="338.9" r="3.85"/><circle cx="766.2" cy="330.4" r="3.85"/><circle cx="795.3" cy="330.2" r="3.85"/><circle cx="772.6" cy="341.4" r="3.85"/><circle cx="765.5" cy="339.8" r="3.85"/><circle cx="773.3" cy="367.2" r="3.85"/><circle cx="776.3" cy="371.1" r="3.85"/><circle cx="782.7" cy="374.0" r="3.85"/><circle cx="772.7" cy="349.2" r="3.85"/><circle cx="766.9" cy="356.2" r="3.85"/><circle cx="783.8" cy="377.0" r="3.85"/><circle cx="799.4" cy="359.5" r="3.85"/><circle cx="786.2" cy="336.4" r="3.85"/><circle cx="795.9" cy="342.9" r="3.85"/><circle cx="771.8" cy="339.9" r="3.85"/><circle cx="784.8" cy="337.1" r="3.85"/><circle cx="782.7" cy="334.5" r="3.85"/><circle cx="780.6" cy="377.1" r="3.85"/><circle cx="768.3" cy="364.3" r="3.85"/><circle cx="784.1" cy="369.2" r="3.85"/><circle cx="770.0" cy="366.4" r="3.85"/><circle cx="761.5" cy="328.9" r="3.85"/><circle cx="796.8" cy="331.5" r="3.85"/><circle cx="780.0" cy="361.2" r="3.85"/><circle cx="778.6" cy="357.2" r="3.85"/><circle cx="768.4" cy="375.1" r="3.85"/><circle cx="783.9" cy="373.3" r="3.85"/><circle cx="791.2" cy="364.8" r="3.85"/><circle cx="779.1" cy="360.9" r="3.85"/><circle cx="781.4" cy="331.8" r="3.85"/><circle cx="785.4" cy="370.2" r="3.85"/><circle cx="765.6" cy="342.3" r="3.85"/><circle cx="760.2" cy="338.1" r="3.85"/><circle cx="787.8" cy="368.3" r="3.85"/><circle cx="770.2" cy="338.6" r="3.85"/><circle cx="781.5" cy="345.0" r="3.85"/><circle cx="781.5" cy="368.3" r="3.85"/><circle cx="770.0" cy="346.4" r="3.85"/><circle cx="780.7" cy="356.8" r="3.85"/><circle cx="785.3" cy="376.3" r="3.85"/><circle cx="785.0" cy="363.4" r="3.85"/><circle cx="793.2" cy="347.4" r="3.85"/><circle cx="784.4" cy="362.4" r="3.85"/><circle cx="768.5" cy="370.0" r="3.85"/><circle cx="791.7" cy="336.9" r="3.85"/><circle cx="771.7" cy="338.5" r="3.85"/><circle cx="758.8" cy="342.1" r="3.85"/><circle cx="764.3" cy="373.4" r="3.85"/><circle cx="797.2" cy="370.3" r="3.85"/><circle cx="770.1" cy="355.0" r="3.85"/><circle cx="780.1" cy="352.7" r="3.85"/><circle cx="780.8" cy="342.3" r="3.85"/><circle cx="765.9" cy="372.6" r="3.85"/><circle cx="768.6" cy="353.9" r="3.85"/><circle cx="773.0" cy="366.8" r="3.85"/><circle cx="790.1" cy="342.5" r="3.85"/><circle cx="800.1" cy="355.7" r="3.85"/><circle cx="763.2" cy="347.2" r="3.85"/><circle cx="772.5" cy="346.3" r="3.85"/><circle cx="794.6" cy="329.2" r="3.85"/><circle cx="783.4" cy="354.7" r="3.85"/><circle cx="788.8" cy="374.4" r="3.85"/><circle cx="764.2" cy="356.2" r="3.85"/><circle cx="790.7" cy="373.2" r="3.85"/><circle cx="787.0" cy="363.6" r="3.85"/><circle cx="767.8" cy="372.5" r="3.85"/><circle cx="790.1" cy="351.5" r="3.85"/><circle cx="788.0" cy="369.2" r="3.85"/><circle cx="767.4" cy="361.1" r="3.85"/><circle cx="763.7" cy="329.7" r="3.85"/><circle cx="800.5" cy="341.1" r="3.85"/><circle cx="798.3" cy="354.4" r="3.85"/><circle cx="777.9" cy="363.5" r="3.85"/><circle cx="766.0" cy="341.5" r="3.85"/><circle cx="757.3" cy="330.4" r="3.85"/><circle cx="771.3" cy="361.0" r="3.85"/><circle cx="794.6" cy="354.6" r="3.85"/><circle cx="812.5" cy="335.3" r="3.85"/><circle cx="741.1" cy="335.6" r="3.85"/><circle cx="746.7" cy="344.8" r="3.85"/><circle cx="742.1" cy="348.9" r="3.85"/><circle cx="818.1" cy="338.6" r="3.85"/><circle cx="817.7" cy="330.6" r="3.85"/><circle cx="804.3" cy="365.6" r="3.85"/><circle cx="808.0" cy="359.0" r="3.85"/><circle cx="808.4" cy="346.8" r="3.85"/><circle cx="804.3" cy="365.7" r="3.85"/><circle cx="747.4" cy="340.1" r="3.85"/><circle cx="750.3" cy="374.1" r="3.85"/><circle cx="807.9" cy="340.1" r="3.85"/><circle cx="812.6" cy="358.3" r="3.85"/><circle cx="802.3" cy="370.2" r="3.85"/><circle cx="747.7" cy="333.3" r="3.85"/><circle cx="740.7" cy="335.6" r="3.85"/><circle cx="738.1" cy="334.4" r="3.85"/><circle cx="814.4" cy="338.3" r="3.85"/><circle cx="751.7" cy="354.3" r="3.85"/><circle cx="807.5" cy="341.4" r="3.85"/><circle cx="752.6" cy="360.8" r="3.85"/><circle cx="749.0" cy="333.0" r="3.85"/><circle cx="755.7" cy="373.4" r="3.85"/><circle cx="805.3" cy="367.1" r="3.85"/><circle cx="808.8" cy="353.6" r="3.85"/><circle cx="805.4" cy="361.7" r="3.85"/><circle cx="813.6" cy="336.1" r="3.85"/><circle cx="735.9" cy="348.9" r="3.85"/><circle cx="737.2" cy="333.3" r="3.85"/><circle cx="819.7" cy="353.3" r="3.85"/><circle cx="755.2" cy="365.7" r="3.85"/><circle cx="811.5" cy="359.1" r="3.85"/><circle cx="745.9" cy="334.9" r="3.85"/><circle cx="807.8" cy="354.3" r="3.85"/><circle cx="747.9" cy="328.4" r="3.85"/><circle cx="813.8" cy="351.3" r="3.85"/><circle cx="746.1" cy="347.5" r="3.85"/><circle cx="806.8" cy="366.1" r="3.85"/><circle cx="807.8" cy="372.9" r="3.85"/><circle cx="809.2" cy="366.9" r="3.85"/><circle cx="810.3" cy="329.6" r="3.85"/><circle cx="751.4" cy="350.2" r="3.85"/><circle cx="745.9" cy="330.4" r="3.85"/><circle cx="753.0" cy="367.8" r="3.85"/><circle cx="745.0" cy="332.0" r="3.85"/><circle cx="739.7" cy="352.2" r="3.85"/><circle cx="752.0" cy="349.6" r="3.85"/><circle cx="803.6" cy="369.3" r="3.85"/><circle cx="812.0" cy="347.5" r="3.85"/><circle cx="746.2" cy="347.4" r="3.85"/><circle cx="750.4" cy="354.0" r="3.85"/><circle cx="810.9" cy="339.2" r="3.85"/><circle cx="810.1" cy="338.8" r="3.85"/><circle cx="755.9" cy="365.4" r="3.85"/><circle cx="746.0" cy="334.5" r="3.85"/><circle cx="749.3" cy="340.4" r="3.85"/><circle cx="737.9" cy="331.9" r="3.85"/><circle cx="751.3" cy="353.0" r="3.85"/><circle cx="801.6" cy="373.3" r="3.85"/><circle cx="674.1" cy="345.7" r="3.85"/><circle cx="709.3" cy="332.5" r="3.85"/><circle cx="702.4" cy="363.9" r="3.85"/><circle cx="725.0" cy="345.7" r="3.85"/><circle cx="731.0" cy="342.6" r="3.85"/><circle cx="735.8" cy="350.7" r="3.85"/><circle cx="723.9" cy="350.7" r="3.85"/><circle cx="732.2" cy="358.5" r="3.85"/><circle cx="736.9" cy="358.5" r="3.85"/><circle cx="742.9" cy="359.2" r="3.85"/><circle cx="742.9" cy="348.4" r="3.85"/><circle cx="739.3" cy="338.0" r="3.85"/><circle cx="733.4" cy="330.2" r="3.85"/><circle cx="746.5" cy="332.2" r="3.85"/><circle cx="856.2" cy="328.3" r="3.85"/><circle cx="848.8" cy="339.9" r="3.85"/><circle cx="857.1" cy="342.2" r="3.85"/><circle cx="859.5" cy="345.7" r="3.85"/><circle cx="860.7" cy="348.8" r="3.85"/><circle cx="829.8" cy="363.9" r="3.85"/><circle cx="825.0" cy="363.1" r="3.85"/><circle cx="820.2" cy="364.3" r="3.85"/><circle cx="823.8" cy="349.6" r="3.85"/><circle cx="819.0" cy="343.8" r="3.85"/><circle cx="826.2" cy="355.4" r="3.85"/><circle cx="815.5" cy="332.2" r="3.85"/><circle cx="822.6" cy="334.1" r="3.85"/><circle cx="814.3" cy="354.6" r="3.85"/><circle cx="816.7" cy="368.9" r="3.85"/><circle cx="741.7" cy="367.0" r="3.85"/><circle cx="736.9" cy="368.9" r="3.85"/><circle cx="835.7" cy="329.1" r="3.85"/><circle cx="720.3" cy="331.0" r="3.85"/><circle cx="767.3" cy="273.1" r="3.85"/><circle cx="773.0" cy="236.3" r="3.85"/><circle cx="770.4" cy="304.4" r="3.85"/><circle cx="767.9" cy="279.1" r="3.85"/><circle cx="781.4" cy="291.9" r="3.85"/><circle cx="767.9" cy="302.1" r="3.85"/><circle cx="765.6" cy="305.1" r="3.85"/><circle cx="772.4" cy="267.8" r="3.85"/><circle cx="768.5" cy="270.7" r="3.85"/><circle cx="791.0" cy="271.7" r="3.85"/><circle cx="769.0" cy="257.3" r="3.85"/><circle cx="767.4" cy="308.0" r="3.85"/><circle cx="765.3" cy="244.2" r="3.85"/><circle cx="791.7" cy="279.9" r="3.85"/><circle cx="773.6" cy="277.3" r="3.85"/><circle cx="773.5" cy="245.4" r="3.85"/><circle cx="774.7" cy="310.0" r="3.85"/><circle cx="788.6" cy="259.6" r="3.85"/><circle cx="784.6" cy="285.8" r="3.85"/><circle cx="775.0" cy="276.4" r="3.85"/><circle cx="771.9" cy="261.8" r="3.85"/><circle cx="782.7" cy="240.1" r="3.85"/><circle cx="791.1" cy="310.9" r="3.85"/><circle cx="773.9" cy="226.1" r="3.85"/><circle cx="786.5" cy="257.5" r="3.85"/><circle cx="783.1" cy="287.5" r="3.85"/><circle cx="791.0" cy="262.4" r="3.85"/><circle cx="775.0" cy="306.4" r="3.85"/><circle cx="786.7" cy="325.1" r="3.85"/><circle cx="772.7" cy="270.7" r="3.85"/><circle cx="773.4" cy="264.5" r="3.85"/><circle cx="790.5" cy="251.6" r="3.85"/><circle cx="772.9" cy="281.8" r="3.85"/><circle cx="770.8" cy="283.8" r="3.85"/><circle cx="774.6" cy="284.8" r="3.85"/><circle cx="790.1" cy="263.6" r="3.85"/><circle cx="771.3" cy="288.4" r="3.85"/><circle cx="787.4" cy="309.1" r="3.85"/><circle cx="783.5" cy="325.7" r="3.85"/><circle cx="768.8" cy="321.2" r="3.85"/><circle cx="786.9" cy="310.7" r="3.85"/><circle cx="769.8" cy="321.4" r="3.85"/><circle cx="770.9" cy="240.3" r="3.85"/><circle cx="791.1" cy="262.2" r="3.85"/><circle cx="790.3" cy="317.5" r="3.85"/><circle cx="790.4" cy="276.2" r="3.85"/><circle cx="768.8" cy="238.5" r="3.85"/><circle cx="788.5" cy="282.0" r="3.85"/><circle cx="785.4" cy="256.7" r="3.85"/><circle cx="791.9" cy="323.7" r="3.85"/><circle cx="764.8" cy="313.4" r="3.85"/><circle cx="781.7" cy="314.8" r="3.85"/><circle cx="767.9" cy="306.6" r="3.85"/><circle cx="781.1" cy="247.6" r="3.85"/><circle cx="791.7" cy="285.0" r="3.85"/><circle cx="792.0" cy="276.2" r="3.85"/><circle cx="774.7" cy="297.9" r="3.85"/><circle cx="768.3" cy="306.7" r="3.85"/><circle cx="767.6" cy="286.2" r="3.85"/><circle cx="784.9" cy="321.2" r="3.85"/><circle cx="783.2" cy="324.3" r="3.85"/><circle cx="780.1" cy="274.1" r="3.85"/><circle cx="789.1" cy="256.2" r="3.85"/><circle cx="773.1" cy="280.8" r="3.85"/><circle cx="790.1" cy="261.0" r="3.85"/><circle cx="767.3" cy="307.3" r="3.85"/><circle cx="774.4" cy="245.4" r="3.85"/><circle cx="786.3" cy="266.5" r="3.85"/><circle cx="775.3" cy="248.0" r="3.85"/><circle cx="781.3" cy="290.3" r="3.85"/><circle cx="774.2" cy="296.0" r="3.85"/><circle cx="786.4" cy="229.8" r="3.85"/><circle cx="772.5" cy="237.4" r="3.85"/><circle cx="770.9" cy="255.0" r="3.85"/><circle cx="767.8" cy="225.4" r="3.85"/><circle cx="771.2" cy="217.6" r="3.85"/><circle cx="785.5" cy="310.4" r="3.85"/><circle cx="785.6" cy="259.5" r="3.85"/><circle cx="789.9" cy="257.9" r="3.85"/><circle cx="765.7" cy="235.1" r="3.85"/><circle cx="766.2" cy="295.1" r="3.85"/><circle cx="766.5" cy="223.8" r="3.85"/><circle cx="770.7" cy="240.7" r="3.85"/><circle cx="782.3" cy="316.6" r="3.85"/><circle cx="784.4" cy="302.6" r="3.85"/><circle cx="782.4" cy="295.0" r="3.85"/><circle cx="775.7" cy="259.7" r="3.85"/><circle cx="787.0" cy="237.3" r="3.85"/><circle cx="766.6" cy="238.4" r="3.85"/><circle cx="767.4" cy="246.8" r="3.85"/><circle cx="785.0" cy="312.6" r="3.85"/><circle cx="781.9" cy="283.1" r="3.85"/><circle cx="770.5" cy="230.5" r="3.85"/><circle cx="764.1" cy="271.0" r="3.85"/><circle cx="789.5" cy="324.2" r="3.85"/><circle cx="776.8" cy="272.0" r="3.85"/><circle cx="784.3" cy="240.8" r="3.85"/><circle cx="768.6" cy="311.9" r="3.85"/><circle cx="787.2" cy="313.9" r="3.85"/><circle cx="768.6" cy="268.3" r="3.85"/><circle cx="773.0" cy="308.6" r="3.85"/><circle cx="790.6" cy="271.4" r="3.85"/><circle cx="786.3" cy="298.3" r="3.85"/><circle cx="790.1" cy="301.8" r="3.85"/><circle cx="789.9" cy="254.8" r="3.85"/><circle cx="781.7" cy="264.4" r="3.85"/><circle cx="788.3" cy="275.1" r="3.85"/><circle cx="786.9" cy="246.5" r="3.85"/><circle cx="785.1" cy="300.5" r="3.85"/><circle cx="767.9" cy="246.2" r="3.85"/><circle cx="779.5" cy="279.7" r="3.85"/><circle cx="768.1" cy="311.8" r="3.85"/><circle cx="771.0" cy="284.2" r="3.85"/><circle cx="780.5" cy="308.8" r="3.85"/><circle cx="789.3" cy="284.2" r="3.85"/><circle cx="767.3" cy="258.4" r="3.85"/><circle cx="791.7" cy="282.1" r="3.85"/><circle cx="772.4" cy="324.9" r="3.85"/><circle cx="769.2" cy="313.4" r="3.85"/><circle cx="771.5" cy="252.8" r="3.85"/><circle cx="783.3" cy="284.8" r="3.85"/><circle cx="791.1" cy="252.2" r="3.85"/><circle cx="788.6" cy="247.9" r="3.85"/><circle cx="773.8" cy="255.7" r="3.85"/><circle cx="765.0" cy="327.1" r="3.85"/><circle cx="779.4" cy="303.6" r="3.85"/><circle cx="766.6" cy="227.9" r="3.85"/><circle cx="782.9" cy="246.2" r="3.85"/><circle cx="783.1" cy="242.7" r="3.85"/><circle cx="763.2" cy="322.4" r="3.85"/><circle cx="772.4" cy="260.1" r="3.85"/><circle cx="763.4" cy="278.4" r="3.85"/><circle cx="789.8" cy="257.6" r="3.85"/><circle cx="787.4" cy="326.7" r="3.85"/><circle cx="769.1" cy="306.8" r="3.85"/><circle cx="787.7" cy="316.1" r="3.85"/><circle cx="790.6" cy="296.2" r="3.85"/><circle cx="789.1" cy="266.4" r="3.85"/><circle cx="775.1" cy="244.6" r="3.85"/><circle cx="792.1" cy="315.0" r="3.85"/><circle cx="785.1" cy="295.8" r="3.85"/><circle cx="767.5" cy="284.6" r="3.85"/><circle cx="781.5" cy="249.9" r="3.85"/><circle cx="767.9" cy="241.2" r="3.85"/><circle cx="779.4" cy="285.2" r="3.85"/><circle cx="789.7" cy="297.7" r="3.85"/><circle cx="767.3" cy="309.3" r="3.85"/><circle cx="767.5" cy="257.7" r="3.85"/><circle cx="786.8" cy="309.1" r="3.85"/><circle cx="780.1" cy="261.1" r="3.85"/><circle cx="775.3" cy="263.1" r="3.85"/><circle cx="763.6" cy="321.3" r="3.85"/><circle cx="775.6" cy="299.9" r="3.85"/><circle cx="785.5" cy="299.3" r="3.85"/><circle cx="787.4" cy="299.3" r="3.85"/><circle cx="765.9" cy="271.0" r="3.85"/><circle cx="774.6" cy="288.0" r="3.85"/><circle cx="785.7" cy="301.6" r="3.85"/><circle cx="776.5" cy="267.9" r="3.85"/><circle cx="790.4" cy="255.8" r="3.85"/><circle cx="768.5" cy="320.0" r="3.85"/><circle cx="765.5" cy="288.5" r="3.85"/><circle cx="765.7" cy="250.4" r="3.85"/><circle cx="775.6" cy="291.3" r="3.85"/><circle cx="790.8" cy="299.0" r="3.85"/><circle cx="767.7" cy="291.7" r="3.85"/><circle cx="772.7" cy="219.1" r="3.85"/><circle cx="784.0" cy="276.8" r="3.85"/><circle cx="768.0" cy="322.8" r="3.85"/><circle cx="766.7" cy="226.6" r="3.85"/><circle cx="782.2" cy="309.5" r="3.85"/><circle cx="781.6" cy="321.3" r="3.85"/><circle cx="773.0" cy="316.0" r="3.85"/><circle cx="785.0" cy="242.3" r="3.85"/><circle cx="768.1" cy="248.0" r="3.85"/><circle cx="775.9" cy="249.0" r="3.85"/><circle cx="763.2" cy="301.6" r="3.85"/><circle cx="774.9" cy="304.5" r="3.85"/><circle cx="765.7" cy="245.8" r="3.85"/><circle cx="792.5" cy="288.1" r="3.85"/><circle cx="771.0" cy="247.8" r="3.85"/><circle cx="769.7" cy="280.2" r="3.85"/><circle cx="783.4" cy="276.6" r="3.85"/><circle cx="767.7" cy="319.8" r="3.85"/><circle cx="766.1" cy="268.0" r="3.85"/><circle cx="768.8" cy="247.9" r="3.85"/><circle cx="787.0" cy="293.3" r="3.85"/><circle cx="767.3" cy="270.3" r="3.85"/><circle cx="766.9" cy="246.0" r="3.85"/><circle cx="783.7" cy="258.9" r="3.85"/><circle cx="791.9" cy="322.9" r="3.85"/><circle cx="784.2" cy="232.2" r="3.85"/><circle cx="766.5" cy="289.7" r="3.85"/><circle cx="764.7" cy="258.3" r="3.85"/><circle cx="784.5" cy="286.5" r="3.85"/><circle cx="783.6" cy="284.3" r="3.85"/><circle cx="784.1" cy="295.1" r="3.85"/><circle cx="792.0" cy="275.8" r="3.85"/><circle cx="763.2" cy="317.3" r="3.85"/><circle cx="781.9" cy="309.6" r="3.85"/><circle cx="788.9" cy="242.3" r="3.85"/><circle cx="766.5" cy="282.6" r="3.85"/><circle cx="782.9" cy="327.9" r="3.85"/><circle cx="764.4" cy="285.9" r="3.85"/><circle cx="772.5" cy="219.3" r="3.85"/><circle cx="779.8" cy="304.7" r="3.85"/><circle cx="773.1" cy="283.5" r="3.85"/><circle cx="780.5" cy="301.6" r="3.85"/><circle cx="771.3" cy="268.0" r="3.85"/><circle cx="775.5" cy="248.6" r="3.85"/><circle cx="768.6" cy="264.5" r="3.85"/><circle cx="771.3" cy="235.9" r="3.85"/><circle cx="783.9" cy="234.6" r="3.85"/><circle cx="770.5" cy="217.2" r="3.85"/><circle cx="774.2" cy="293.5" r="3.85"/><circle cx="775.0" cy="243.3" r="3.85"/><circle cx="787.3" cy="270.4" r="3.85"/><circle cx="784.7" cy="302.7" r="3.85"/><circle cx="776.5" cy="285.3" r="3.85"/><circle cx="772.2" cy="285.2" r="3.85"/><circle cx="785.4" cy="240.3" r="3.85"/><circle cx="769.2" cy="300.2" r="3.85"/><circle cx="786.3" cy="249.8" r="3.85"/><circle cx="783.1" cy="252.1" r="3.85"/><circle cx="783.6" cy="295.6" r="3.85"/><circle cx="764.9" cy="285.0" r="3.85"/><circle cx="786.9" cy="300.8" r="3.85"/><circle cx="773.1" cy="315.3" r="3.85"/><circle cx="786.6" cy="239.9" r="3.85"/><circle cx="774.0" cy="295.9" r="3.85"/><circle cx="776.1" cy="277.8" r="3.85"/><circle cx="768.5" cy="309.4" r="3.85"/><circle cx="771.4" cy="217.7" r="3.85"/><circle cx="788.3" cy="288.5" r="3.85"/><circle cx="775.7" cy="305.2" r="3.85"/><circle cx="785.9" cy="283.3" r="3.85"/><circle cx="776.1" cy="280.6" r="3.85"/><circle cx="780.7" cy="297.7" r="3.85"/><circle cx="763.7" cy="281.5" r="3.85"/><circle cx="774.3" cy="327.0" r="3.85"/><circle cx="774.1" cy="237.0" r="3.85"/><circle cx="772.9" cy="246.8" r="3.85"/><circle cx="781.6" cy="305.7" r="3.85"/><circle cx="763.7" cy="247.4" r="3.85"/><circle cx="781.2" cy="293.0" r="3.85"/><circle cx="769.0" cy="225.7" r="3.85"/><circle cx="790.0" cy="300.3" r="3.85"/><circle cx="780.4" cy="259.3" r="3.85"/><circle cx="772.6" cy="323.9" r="3.85"/><circle cx="772.7" cy="251.0" r="3.85"/><circle cx="780.9" cy="267.1" r="3.85"/><circle cx="766.7" cy="302.8" r="3.85"/><circle cx="772.3" cy="278.3" r="3.85"/><circle cx="770.2" cy="225.5" r="3.85"/><circle cx="770.3" cy="257.8" r="3.85"/><circle cx="774.3" cy="323.7" r="3.85"/><circle cx="786.6" cy="231.1" r="3.85"/><circle cx="771.1" cy="235.2" r="3.85"/><circle cx="792.2" cy="321.8" r="3.85"/><circle cx="774.3" cy="301.0" r="3.85"/><circle cx="788.0" cy="262.5" r="3.85"/><circle cx="774.5" cy="232.4" r="3.85"/><circle cx="766.2" cy="297.1" r="3.85"/><circle cx="785.3" cy="275.5" r="3.85"/><circle cx="792.4" cy="317.4" r="3.85"/><circle cx="776.8" cy="302.8" r="3.85"/><circle cx="763.2" cy="317.1" r="3.85"/><circle cx="765.8" cy="284.0" r="3.85"/><circle cx="775.9" cy="267.4" r="3.85"/><circle cx="771.7" cy="244.1" r="3.85"/><circle cx="792.1" cy="308.0" r="3.85"/><circle cx="769.3" cy="223.0" r="3.85"/><circle cx="773.7" cy="288.0" r="3.85"/><circle cx="781.3" cy="260.7" r="3.85"/><circle cx="771.5" cy="318.2" r="3.85"/><circle cx="791.3" cy="284.0" r="3.85"/><circle cx="766.5" cy="249.5" r="3.85"/><circle cx="772.8" cy="288.9" r="3.85"/><circle cx="788.1" cy="287.7" r="3.85"/><circle cx="773.8" cy="280.1" r="3.85"/><circle cx="767.9" cy="248.8" r="3.85"/><circle cx="782.7" cy="274.7" r="3.85"/><circle cx="775.1" cy="300.4" r="3.85"/><circle cx="786.4" cy="273.4" r="3.85"/><circle cx="787.7" cy="283.3" r="3.85"/><circle cx="784.8" cy="324.8" r="3.85"/><circle cx="769.6" cy="213.0" r="3.85"/><circle cx="783.3" cy="247.2" r="3.85"/><circle cx="768.9" cy="307.5" r="3.85"/><circle cx="782.2" cy="245.0" r="3.85"/><circle cx="770.8" cy="251.0" r="3.85"/><circle cx="767.1" cy="254.7" r="3.85"/><circle cx="768.2" cy="267.2" r="3.85"/><circle cx="772.4" cy="262.2" r="3.85"/><circle cx="767.1" cy="270.3" r="3.85"/><circle cx="781.3" cy="312.1" r="3.85"/><circle cx="772.2" cy="246.9" r="3.85"/><circle cx="780.0" cy="301.6" r="3.85"/><circle cx="773.9" cy="274.5" r="3.85"/><circle cx="782.4" cy="315.5" r="3.85"/><circle cx="781.2" cy="324.3" r="3.85"/><circle cx="784.6" cy="296.2" r="3.85"/><circle cx="788.1" cy="307.0" r="3.85"/><circle cx="787.6" cy="265.8" r="3.85"/><circle cx="783.4" cy="264.4" r="3.85"/><circle cx="788.6" cy="303.9" r="3.85"/><circle cx="789.6" cy="287.6" r="3.85"/><circle cx="763.9" cy="287.9" r="3.85"/><circle cx="765.1" cy="319.6" r="3.85"/><circle cx="781.5" cy="313.8" r="3.85"/><circle cx="767.8" cy="293.2" r="3.85"/><circle cx="771.3" cy="217.9" r="3.85"/><circle cx="792.3" cy="275.5" r="3.85"/><circle cx="786.6" cy="294.6" r="3.85"/><circle cx="784.7" cy="301.0" r="3.85"/><circle cx="788.6" cy="311.1" r="3.85"/><circle cx="783.8" cy="272.6" r="3.85"/><circle cx="786.3" cy="273.6" r="3.85"/><circle cx="768.9" cy="213.6" r="3.85"/><circle cx="771.4" cy="238.9" r="3.85"/><circle cx="787.7" cy="298.6" r="3.85"/><circle cx="783.6" cy="280.8" r="3.85"/><circle cx="769.7" cy="302.2" r="3.85"/><circle cx="791.3" cy="284.1" r="3.85"/><circle cx="773.7" cy="303.1" r="3.85"/><circle cx="773.4" cy="240.4" r="3.85"/><circle cx="782.5" cy="279.6" r="3.85"/><circle cx="767.7" cy="218.1" r="3.85"/><circle cx="786.3" cy="304.6" r="3.85"/><circle cx="784.4" cy="285.9" r="3.85"/><circle cx="787.1" cy="317.0" r="3.85"/><circle cx="771.3" cy="252.0" r="3.85"/><circle cx="774.2" cy="258.9" r="3.85"/><circle cx="769.5" cy="275.8" r="3.85"/><circle cx="770.6" cy="228.6" r="3.85"/><circle cx="781.6" cy="313.2" r="3.85"/><circle cx="786.1" cy="293.3" r="3.85"/><circle cx="788.6" cy="233.9" r="3.85"/><circle cx="776.0" cy="247.5" r="3.85"/><circle cx="791.2" cy="305.6" r="3.85"/><circle cx="766.1" cy="278.9" r="3.85"/><circle cx="767.5" cy="301.8" r="3.85"/><circle cx="788.7" cy="281.7" r="3.85"/><circle cx="767.5" cy="306.3" r="3.85"/><circle cx="780.2" cy="305.5" r="3.85"/><circle cx="776.1" cy="267.9" r="3.85"/><circle cx="787.8" cy="326.3" r="3.85"/><circle cx="790.6" cy="304.4" r="3.85"/><circle cx="779.9" cy="263.8" r="3.85"/><circle cx="769.5" cy="234.6" r="3.85"/><circle cx="772.2" cy="241.1" r="3.85"/><circle cx="769.9" cy="259.6" r="3.85"/><circle cx="782.3" cy="283.7" r="3.85"/><circle cx="765.0" cy="251.1" r="3.85"/><circle cx="783.5" cy="309.9" r="3.85"/><circle cx="766.1" cy="227.6" r="3.85"/><circle cx="788.8" cy="322.2" r="3.85"/><circle cx="770.5" cy="318.2" r="3.85"/><circle cx="770.6" cy="317.9" r="3.85"/><circle cx="770.5" cy="292.3" r="3.85"/><circle cx="776.7" cy="283.7" r="3.85"/><circle cx="786.4" cy="241.6" r="3.85"/><circle cx="766.5" cy="301.5" r="3.85"/><circle cx="763.4" cy="288.8" r="3.85"/><circle cx="766.3" cy="244.7" r="3.85"/><circle cx="769.3" cy="323.9" r="3.85"/><circle cx="785.5" cy="278.9" r="3.85"/><circle cx="790.6" cy="281.2" r="3.85"/><circle cx="772.3" cy="319.6" r="3.85"/><circle cx="791.1" cy="266.8" r="3.85"/><circle cx="776.1" cy="275.9" r="3.85"/><circle cx="785.8" cy="228.6" r="3.85"/><circle cx="768.4" cy="279.5" r="3.85"/><circle cx="789.4" cy="279.4" r="3.85"/><circle cx="782.6" cy="261.1" r="3.85"/><circle cx="776.7" cy="259.3" r="3.85"/><circle cx="770.4" cy="261.4" r="3.85"/><circle cx="788.6" cy="318.7" r="3.85"/><circle cx="792.0" cy="326.7" r="3.85"/><circle cx="781.6" cy="252.5" r="3.85"/><circle cx="788.0" cy="271.9" r="3.85"/><circle cx="767.0" cy="292.3" r="3.85"/><circle cx="784.2" cy="240.9" r="3.85"/><circle cx="769.2" cy="251.2" r="3.85"/><circle cx="782.5" cy="249.4" r="3.85"/><circle cx="763.8" cy="275.3" r="3.85"/><circle cx="772.7" cy="256.6" r="3.85"/><circle cx="773.1" cy="312.9" r="3.85"/><circle cx="782.9" cy="293.9" r="3.85"/><circle cx="786.5" cy="291.6" r="3.85"/><circle cx="787.0" cy="314.4" r="3.85"/><circle cx="784.7" cy="320.1" r="3.85"/><circle cx="790.8" cy="325.3" r="3.85"/><circle cx="784.5" cy="284.1" r="3.85"/><circle cx="768.4" cy="280.9" r="3.85"/><circle cx="775.4" cy="313.6" r="3.85"/><circle cx="774.4" cy="276.1" r="3.85"/><circle cx="772.6" cy="250.8" r="3.85"/><circle cx="787.7" cy="281.1" r="3.85"/><circle cx="785.4" cy="294.8" r="3.85"/><circle cx="766.4" cy="323.2" r="3.85"/><circle cx="769.1" cy="275.4" r="3.85"/><circle cx="785.6" cy="295.2" r="3.85"/><circle cx="767.6" cy="266.0" r="3.85"/><circle cx="789.6" cy="299.7" r="3.85"/><circle cx="779.7" cy="278.4" r="3.85"/><circle cx="764.1" cy="275.0" r="3.85"/><circle cx="790.1" cy="292.0" r="3.85"/><circle cx="766.3" cy="292.1" r="3.85"/><circle cx="784.2" cy="326.0" r="3.85"/><circle cx="774.2" cy="313.1" r="3.85"/><circle cx="763.6" cy="310.2" r="3.85"/><circle cx="769.7" cy="318.5" r="3.85"/><circle cx="765.8" cy="305.0" r="3.85"/><circle cx="767.2" cy="229.8" r="3.85"/><circle cx="775.4" cy="298.1" r="3.85"/><circle cx="770.2" cy="227.6" r="3.85"/><circle cx="764.5" cy="239.2" r="3.85"/><circle cx="775.2" cy="256.6" r="3.85"/><circle cx="788.6" cy="316.2" r="3.85"/><circle cx="765.0" cy="245.1" r="3.85"/><circle cx="771.3" cy="268.7" r="3.85"/><circle cx="768.6" cy="275.9" r="3.85"/><circle cx="771.4" cy="258.0" r="3.85"/><circle cx="771.9" cy="295.3" r="3.85"/><circle cx="782.1" cy="318.0" r="3.85"/><circle cx="786.8" cy="268.8" r="3.85"/><circle cx="769.9" cy="314.5" r="3.85"/><circle cx="784.4" cy="283.4" r="3.85"/><circle cx="791.0" cy="297.4" r="3.85"/><circle cx="787.2" cy="254.9" r="3.85"/><circle cx="779.6" cy="318.7" r="3.85"/><circle cx="788.6" cy="307.2" r="3.85"/><circle cx="770.8" cy="254.4" r="3.85"/><circle cx="768.8" cy="272.8" r="3.85"/><circle cx="784.2" cy="316.8" r="3.85"/><circle cx="782.6" cy="315.8" r="3.85"/><circle cx="782.3" cy="245.8" r="3.85"/><circle cx="764.4" cy="305.4" r="3.85"/><circle cx="791.5" cy="281.4" r="3.85"/><circle cx="775.7" cy="283.3" r="3.85"/><circle cx="783.7" cy="239.5" r="3.85"/><circle cx="782.3" cy="280.0" r="3.85"/><circle cx="779.9" cy="266.5" r="3.85"/><circle cx="768.7" cy="214.4" r="3.85"/><circle cx="792.4" cy="272.4" r="3.85"/><circle cx="787.9" cy="299.4" r="3.85"/><circle cx="785.0" cy="242.5" r="3.85"/><circle cx="789.1" cy="296.2" r="3.85"/><circle cx="786.4" cy="271.3" r="3.85"/><circle cx="772.3" cy="284.1" r="3.85"/><circle cx="786.7" cy="227.2" r="3.85"/><circle cx="788.0" cy="248.0" r="3.85"/><circle cx="768.1" cy="309.6" r="3.85"/><circle cx="779.9" cy="302.9" r="3.85"/><circle cx="773.1" cy="316.0" r="3.85"/><circle cx="767.7" cy="242.3" r="3.85"/><circle cx="769.7" cy="226.6" r="3.85"/><circle cx="772.8" cy="226.5" r="3.85"/><circle cx="772.1" cy="296.2" r="3.85"/><circle cx="774.8" cy="326.8" r="3.85"/><circle cx="776.0" cy="282.7" r="3.85"/><circle cx="774.2" cy="328.2" r="3.85"/><circle cx="791.5" cy="300.9" r="3.85"/><circle cx="770.6" cy="325.4" r="3.85"/><circle cx="766.1" cy="243.1" r="3.85"/><circle cx="780.3" cy="267.8" r="3.85"/><circle cx="770.4" cy="293.9" r="3.85"/><circle cx="791.7" cy="283.6" r="3.85"/><circle cx="766.8" cy="226.5" r="3.85"/><circle cx="787.0" cy="244.9" r="3.85"/><circle cx="767.7" cy="263.5" r="3.85"/><circle cx="771.0" cy="280.4" r="3.85"/><circle cx="768.8" cy="243.3" r="3.85"/><circle cx="781.7" cy="256.4" r="3.85"/><circle cx="779.8" cy="289.2" r="3.85"/><circle cx="790.5" cy="283.8" r="3.85"/><circle cx="766.1" cy="288.3" r="3.85"/><circle cx="782.2" cy="248.8" r="3.85"/><circle cx="776.3" cy="272.9" r="3.85"/><circle cx="785.5" cy="290.2" r="3.85"/><circle cx="766.4" cy="253.9" r="3.85"/><circle cx="787.0" cy="298.5" r="3.85"/><circle cx="766.9" cy="312.0" r="3.85"/><circle cx="792.5" cy="274.8" r="3.85"/><circle cx="786.5" cy="252.5" r="3.85"/><circle cx="768.3" cy="319.2" r="3.85"/><circle cx="776.5" cy="326.2" r="3.85"/><circle cx="786.1" cy="258.0" r="3.85"/><circle cx="770.1" cy="291.7" r="3.85"/><circle cx="774.8" cy="250.8" r="3.85"/><circle cx="772.7" cy="255.5" r="3.85"/><circle cx="792.5" cy="304.0" r="3.85"/><circle cx="773.0" cy="326.8" r="3.85"/><circle cx="765.9" cy="321.6" r="3.85"/><circle cx="787.8" cy="258.0" r="3.85"/><circle cx="780.2" cy="326.8" r="3.85"/><circle cx="774.4" cy="296.9" r="3.85"/><circle cx="781.4" cy="320.4" r="3.85"/><circle cx="774.2" cy="269.3" r="3.85"/><circle cx="775.1" cy="316.0" r="3.85"/><circle cx="784.7" cy="232.3" r="3.85"/><circle cx="780.8" cy="314.4" r="3.85"/><circle cx="782.7" cy="295.1" r="3.85"/><circle cx="789.5" cy="298.6" r="3.85"/><circle cx="780.1" cy="282.8" r="3.85"/><circle cx="771.9" cy="237.0" r="3.85"/><circle cx="781.3" cy="288.5" r="3.85"/><circle cx="790.5" cy="260.3" r="3.85"/><circle cx="790.1" cy="260.4" r="3.85"/><circle cx="792.4" cy="324.8" r="3.85"/><circle cx="776.7" cy="262.0" r="3.85"/><circle cx="781.5" cy="270.9" r="3.85"/><circle cx="781.8" cy="264.3" r="3.85"/><circle cx="763.5" cy="289.9" r="3.85"/><circle cx="789.0" cy="321.1" r="3.85"/><circle cx="786.4" cy="324.6" r="3.85"/><circle cx="770.1" cy="282.6" r="3.85"/><circle cx="769.8" cy="243.7" r="3.85"/><circle cx="781.0" cy="289.2" r="3.85"/><circle cx="770.4" cy="266.4" r="3.85"/><circle cx="774.5" cy="286.8" r="3.85"/><circle cx="786.8" cy="307.3" r="3.85"/><circle cx="790.7" cy="326.1" r="3.85"/><circle cx="771.1" cy="269.1" r="3.85"/><circle cx="790.8" cy="308.7" r="3.85"/><circle cx="787.9" cy="280.6" r="3.85"/><circle cx="790.5" cy="320.6" r="3.85"/><circle cx="772.8" cy="309.6" r="3.85"/><circle cx="767.1" cy="291.9" r="3.85"/><circle cx="783.8" cy="258.7" r="3.85"/><circle cx="766.7" cy="232.1" r="3.85"/><circle cx="767.3" cy="229.9" r="3.85"/><circle cx="787.3" cy="302.3" r="3.85"/><circle cx="769.9" cy="328.2" r="3.85"/><circle cx="766.0" cy="236.3" r="3.85"/><circle cx="785.9" cy="252.3" r="3.85"/><circle cx="772.8" cy="228.2" r="3.85"/><circle cx="790.3" cy="290.7" r="3.85"/><circle cx="783.3" cy="246.2" r="3.85"/><circle cx="788.2" cy="260.3" r="3.85"/><circle cx="771.3" cy="298.1" r="3.85"/><circle cx="767.1" cy="225.2" r="3.85"/><circle cx="789.4" cy="299.2" r="3.85"/><circle cx="783.7" cy="247.5" r="3.85"/><circle cx="766.7" cy="234.9" r="3.85"/><circle cx="785.7" cy="291.5" r="3.85"/><circle cx="766.0" cy="294.5" r="3.85"/><circle cx="785.9" cy="272.3" r="3.85"/><circle cx="787.2" cy="309.1" r="3.85"/><circle cx="766.3" cy="286.4" r="3.85"/><circle cx="789.1" cy="308.9" r="3.85"/><circle cx="765.3" cy="238.0" r="3.85"/><circle cx="765.8" cy="248.2" r="3.85"/><circle cx="765.6" cy="298.7" r="3.85"/><circle cx="775.2" cy="274.4" r="3.85"/><circle cx="764.0" cy="287.4" r="3.85"/><circle cx="770.3" cy="233.7" r="3.85"/><circle cx="784.2" cy="234.2" r="3.85"/><circle cx="783.8" cy="313.0" r="3.85"/><circle cx="774.5" cy="293.1" r="3.85"/><circle cx="771.4" cy="239.6" r="3.85"/><circle cx="769.4" cy="289.3" r="3.85"/><circle cx="771.5" cy="224.6" r="3.85"/><circle cx="782.0" cy="270.6" r="3.85"/><circle cx="790.8" cy="274.3" r="3.85"/><circle cx="770.7" cy="297.3" r="3.85"/><circle cx="766.2" cy="268.1" r="3.85"/><circle cx="785.8" cy="309.5" r="3.85"/><circle cx="789.4" cy="283.2" r="3.85"/><circle cx="766.8" cy="251.9" r="3.85"/><circle cx="782.6" cy="291.4" r="3.85"/><circle cx="771.6" cy="274.8" r="3.85"/><circle cx="790.5" cy="270.9" r="3.85"/><circle cx="791.6" cy="311.6" r="3.85"/><circle cx="790.3" cy="251.5" r="3.85"/><circle cx="788.9" cy="278.7" r="3.85"/><circle cx="792.4" cy="325.3" r="3.85"/><circle cx="788.1" cy="230.0" r="3.85"/><circle cx="774.2" cy="228.9" r="3.85"/><circle cx="769.4" cy="238.0" r="3.85"/><circle cx="775.3" cy="304.7" r="3.85"/><circle cx="786.7" cy="240.6" r="3.85"/><circle cx="769.7" cy="283.3" r="3.85"/><circle cx="775.4" cy="259.1" r="3.85"/><circle cx="781.8" cy="284.4" r="3.85"/><circle cx="766.3" cy="320.0" r="3.85"/><circle cx="780.3" cy="274.6" r="3.85"/><circle cx="792.1" cy="278.7" r="3.85"/><circle cx="773.5" cy="278.1" r="3.85"/><circle cx="768.2" cy="215.6" r="3.85"/><circle cx="780.6" cy="263.2" r="3.85"/><circle cx="775.7" cy="298.3" r="3.85"/><circle cx="772.4" cy="269.1" r="3.85"/><circle cx="779.7" cy="303.5" r="3.85"/><circle cx="764.7" cy="309.2" r="3.85"/><circle cx="773.3" cy="234.4" r="3.85"/><circle cx="789.4" cy="299.9" r="3.85"/><circle cx="786.1" cy="275.3" r="3.85"/><circle cx="764.4" cy="320.3" r="3.85"/><circle cx="782.8" cy="245.6" r="3.85"/><circle cx="787.3" cy="292.1" r="3.85"/><circle cx="765.1" cy="261.9" r="3.85"/><circle cx="782.4" cy="301.4" r="3.85"/><circle cx="764.4" cy="269.9" r="3.85"/><circle cx="781.6" cy="294.8" r="3.85"/><circle cx="776.3" cy="300.3" r="3.85"/><circle cx="768.6" cy="306.5" r="3.85"/><circle cx="787.2" cy="273.9" r="3.85"/><circle cx="784.2" cy="286.6" r="3.85"/><circle cx="786.9" cy="256.8" r="3.85"/><circle cx="782.4" cy="281.2" r="3.85"/><circle cx="779.7" cy="305.4" r="3.85"/><circle cx="782.0" cy="316.3" r="3.85"/><circle cx="773.0" cy="300.6" r="3.85"/><circle cx="788.0" cy="326.7" r="3.85"/><circle cx="786.2" cy="242.1" r="3.85"/><circle cx="772.0" cy="300.4" r="3.85"/><circle cx="783.9" cy="292.5" r="3.85"/><circle cx="784.5" cy="286.3" r="3.85"/><circle cx="785.6" cy="259.5" r="3.85"/><circle cx="764.0" cy="262.9" r="3.85"/><circle cx="774.6" cy="235.9" r="3.85"/><circle cx="772.4" cy="303.3" r="3.85"/><circle cx="786.3" cy="262.3" r="3.85"/><circle cx="785.4" cy="269.6" r="3.85"/><circle cx="769.6" cy="271.7" r="3.85"/><circle cx="763.1" cy="297.2" r="3.85"/><circle cx="782.8" cy="236.6" r="3.85"/><circle cx="781.9" cy="275.1" r="3.85"/><circle cx="784.7" cy="248.0" r="3.85"/><circle cx="769.2" cy="264.1" r="3.85"/><circle cx="769.0" cy="291.0" r="3.85"/><circle cx="773.2" cy="316.8" r="3.85"/><circle cx="773.4" cy="240.8" r="3.85"/><circle cx="780.2" cy="307.5" r="3.85"/><circle cx="784.7" cy="314.3" r="3.85"/><circle cx="785.3" cy="310.6" r="3.85"/><circle cx="766.0" cy="298.1" r="3.85"/><circle cx="771.1" cy="222.2" r="3.85"/><circle cx="790.8" cy="294.3" r="3.85"/><circle cx="785.3" cy="244.8" r="3.85"/><circle cx="779.7" cy="297.7" r="3.85"/><circle cx="763.5" cy="288.7" r="3.85"/><circle cx="772.6" cy="304.5" r="3.85"/><circle cx="772.2" cy="326.7" r="3.85"/><circle cx="789.7" cy="295.6" r="3.85"/><circle cx="769.4" cy="314.3" r="3.85"/><circle cx="774.0" cy="313.9" r="3.85"/><circle cx="768.4" cy="298.3" r="3.85"/><circle cx="781.4" cy="140.6" r="3.85"/><circle cx="767.9" cy="173.5" r="3.85"/><circle cx="771.4" cy="185.1" r="3.85"/><circle cx="789.3" cy="189.0" r="3.85"/><circle cx="779.8" cy="194.8" r="3.85"/><circle cx="769.1" cy="200.6" r="3.85"/><circle cx="791.7" cy="208.3" r="3.85"/><circle cx="782.2" cy="206.4" r="3.85"/><circle cx="765.5" cy="206.4" r="3.85"/><circle cx="788.1" cy="216.1" r="3.85"/></g>
<g fill="#4563b5"><circle cx="758.9" cy="261.4" r="3.85"/><circle cx="754.0" cy="221.2" r="3.85"/><circle cx="759.5" cy="193.1" r="3.85"/><circle cx="753.4" cy="278.3" r="3.85"/><circle cx="759.3" cy="197.8" r="3.85"/><circle cx="759.8" cy="269.7" r="3.85"/><circle cx="761.1" cy="224.6" r="3.85"/><circle cx="753.5" cy="275.2" r="3.85"/><circle cx="758.4" cy="229.7" r="3.85"/><circle cx="752.9" cy="183.8" r="3.85"/><circle cx="756.5" cy="223.1" r="3.85"/><circle cx="760.3" cy="304.4" r="3.85"/><circle cx="760.9" cy="300.7" r="3.85"/><circle cx="758.8" cy="201.3" r="3.85"/><circle cx="761.0" cy="294.5" r="3.85"/><circle cx="754.2" cy="304.5" r="3.85"/><circle cx="752.0" cy="187.4" r="3.85"/><circle cx="747.3" cy="313.3" r="3.85"/><circle cx="752.1" cy="189.7" r="3.85"/><circle cx="753.0" cy="217.5" r="3.85"/><circle cx="758.7" cy="311.5" r="3.85"/><circle cx="760.9" cy="221.3" r="3.85"/><circle cx="752.3" cy="226.9" r="3.85"/><circle cx="755.8" cy="190.9" r="3.85"/><circle cx="749.7" cy="209.7" r="3.85"/><circle cx="759.5" cy="247.1" r="3.85"/><circle cx="750.1" cy="255.2" r="3.85"/><circle cx="755.4" cy="264.4" r="3.85"/><circle cx="759.0" cy="265.9" r="3.85"/><circle cx="760.9" cy="220.7" r="3.85"/><circle cx="755.3" cy="323.7" r="3.85"/><circle cx="758.4" cy="208.0" r="3.85"/><circle cx="757.0" cy="321.7" r="3.85"/><circle cx="759.2" cy="306.2" r="3.85"/><circle cx="760.8" cy="279.0" r="3.85"/><circle cx="758.1" cy="283.8" r="3.85"/><circle cx="747.9" cy="307.0" r="3.85"/><circle cx="753.3" cy="265.3" r="3.85"/><circle cx="748.6" cy="181.6" r="3.85"/><circle cx="751.6" cy="220.1" r="3.85"/><circle cx="754.0" cy="225.3" r="3.85"/><circle cx="761.4" cy="251.8" r="3.85"/><circle cx="756.7" cy="306.9" r="3.85"/><circle cx="756.8" cy="291.3" r="3.85"/><circle cx="749.0" cy="232.3" r="3.85"/><circle cx="755.7" cy="251.8" r="3.85"/><circle cx="755.8" cy="312.3" r="3.85"/><circle cx="761.1" cy="308.0" r="3.85"/><circle cx="755.0" cy="321.0" r="3.85"/><circle cx="758.0" cy="281.7" r="3.85"/><circle cx="758.3" cy="216.2" r="3.85"/><circle cx="751.5" cy="245.7" r="3.85"/><circle cx="758.7" cy="213.7" r="3.85"/><circle cx="756.4" cy="209.5" r="3.85"/><circle cx="760.9" cy="318.5" r="3.85"/><circle cx="758.6" cy="218.1" r="3.85"/><circle cx="753.2" cy="213.1" r="3.85"/><circle cx="760.8" cy="284.8" r="3.85"/><circle cx="750.5" cy="240.7" r="3.85"/><circle cx="761.3" cy="307.3" r="3.85"/><circle cx="753.9" cy="265.0" r="3.85"/><circle cx="758.2" cy="269.4" r="3.85"/><circle cx="758.8" cy="272.2" r="3.85"/><circle cx="761.2" cy="221.5" r="3.85"/><circle cx="756.4" cy="261.0" r="3.85"/><circle cx="758.2" cy="323.7" r="3.85"/><circle cx="760.0" cy="266.4" r="3.85"/><circle cx="754.4" cy="317.5" r="3.85"/><circle cx="761.4" cy="272.9" r="3.85"/><circle cx="756.6" cy="210.7" r="3.85"/><circle cx="760.5" cy="269.9" r="3.85"/><circle cx="749.8" cy="271.5" r="3.85"/><circle cx="751.2" cy="240.0" r="3.85"/><circle cx="760.7" cy="305.0" r="3.85"/><circle cx="750.7" cy="220.0" r="3.85"/><circle cx="756.6" cy="257.4" r="3.85"/><circle cx="759.4" cy="266.8" r="3.85"/><circle cx="759.6" cy="265.0" r="3.85"/><circle cx="761.3" cy="191.6" r="3.85"/><circle cx="758.3" cy="276.4" r="3.85"/><circle cx="750.4" cy="279.0" r="3.85"/><circle cx="757.2" cy="221.7" r="3.85"/><circle cx="756.0" cy="189.3" r="3.85"/><circle cx="759.9" cy="309.9" r="3.85"/><circle cx="757.7" cy="235.8" r="3.85"/><circle cx="757.0" cy="308.0" r="3.85"/><circle cx="758.5" cy="301.2" r="3.85"/><circle cx="753.0" cy="293.3" r="3.85"/><circle cx="759.8" cy="241.2" r="3.85"/><circle cx="750.2" cy="288.0" r="3.85"/><circle cx="759.5" cy="194.5" r="3.85"/><circle cx="757.9" cy="295.0" r="3.85"/><circle cx="761.3" cy="268.8" r="3.85"/><circle cx="754.9" cy="268.6" r="3.85"/><circle cx="748.3" cy="195.2" r="3.85"/><circle cx="754.9" cy="184.4" r="3.85"/><circle cx="757.8" cy="227.3" r="3.85"/><circle cx="758.1" cy="197.8" r="3.85"/><circle cx="753.8" cy="224.9" r="3.85"/><circle cx="759.7" cy="300.3" r="3.85"/><circle cx="761.2" cy="227.3" r="3.85"/><circle cx="761.6" cy="263.3" r="3.85"/><circle cx="758.7" cy="288.4" r="3.85"/><circle cx="749.7" cy="278.7" r="3.85"/><circle cx="760.5" cy="283.8" r="3.85"/><circle cx="755.7" cy="211.8" r="3.85"/><circle cx="759.8" cy="197.9" r="3.85"/><circle cx="759.0" cy="302.2" r="3.85"/><circle cx="757.8" cy="249.5" r="3.85"/><circle cx="753.7" cy="290.9" r="3.85"/><circle cx="760.6" cy="278.2" r="3.85"/><circle cx="760.0" cy="309.7" r="3.85"/><circle cx="758.1" cy="309.0" r="3.85"/><circle cx="756.6" cy="307.1" r="3.85"/><circle cx="755.4" cy="297.2" r="3.85"/><circle cx="744.3" cy="227.3" r="3.85"/><circle cx="745.2" cy="286.5" r="3.85"/><circle cx="751.7" cy="237.3" r="3.85"/><circle cx="747.5" cy="298.9" r="3.85"/><circle cx="755.7" cy="302.1" r="3.85"/><circle cx="757.5" cy="230.9" r="3.85"/><circle cx="761.4" cy="318.9" r="3.85"/><circle cx="754.1" cy="291.0" r="3.85"/><circle cx="761.0" cy="220.7" r="3.85"/><circle cx="749.6" cy="296.2" r="3.85"/><circle cx="750.5" cy="122.4" r="3.85"/><circle cx="745.5" cy="143.3" r="3.85"/><circle cx="724.3" cy="170.4" r="3.85"/><circle cx="750.5" cy="172.3" r="3.85"/><circle cx="687.4" cy="179.7" r="3.85"/><circle cx="715.5" cy="186.6" r="3.85"/><circle cx="758.6" cy="179.7" r="3.85"/><circle cx="738.8" cy="200.6" r="3.85"/><circle cx="731.0" cy="223.8" r="3.85"/><circle cx="722.9" cy="227.7" r="3.85"/><circle cx="728.1" cy="258.6" r="3.85"/><circle cx="738.4" cy="255.9" r="3.85"/><circle cx="744.1" cy="255.9" r="3.85"/><circle cx="728.8" cy="282.2" r="3.85"/><circle cx="734.1" cy="298.1" r="3.85"/><circle cx="741.5" cy="296.9" r="3.85"/><circle cx="722.9" cy="317.8" r="3.85"/><circle cx="732.9" cy="321.7" r="3.85"/><circle cx="744.6" cy="324.4" r="3.85"/><circle cx="743.6" cy="305.8" r="3.85"/><circle cx="744.1" cy="270.2" r="3.85"/><circle cx="744.1" cy="245.5" r="3.85"/><circle cx="737.4" cy="216.4" r="3.85"/><circle cx="741.5" cy="220.3" r="3.85"/><circle cx="746.5" cy="212.2" r="3.85"/><circle cx="747.6" cy="235.4" r="3.85"/><circle cx="746.5" cy="281.9" r="3.85"/></g>
<g fill="#e2482f"><circle cx="798.4" cy="281.2" r="3.85"/><circle cx="794.2" cy="241.1" r="3.85"/><circle cx="798.6" cy="206.1" r="3.85"/><circle cx="800.5" cy="310.7" r="3.85"/><circle cx="810.6" cy="304.1" r="3.85"/><circle cx="797.4" cy="281.0" r="3.85"/><circle cx="797.9" cy="308.1" r="3.85"/><circle cx="803.4" cy="248.3" r="3.85"/><circle cx="796.6" cy="320.4" r="3.85"/><circle cx="809.0" cy="194.5" r="3.85"/><circle cx="811.3" cy="292.0" r="3.85"/><circle cx="799.2" cy="289.6" r="3.85"/><circle cx="798.6" cy="202.7" r="3.85"/><circle cx="797.9" cy="268.6" r="3.85"/><circle cx="794.3" cy="213.9" r="3.85"/><circle cx="795.6" cy="270.1" r="3.85"/><circle cx="798.6" cy="282.0" r="3.85"/><circle cx="804.6" cy="277.6" r="3.85"/><circle cx="809.7" cy="211.6" r="3.85"/><circle cx="810.8" cy="280.7" r="3.85"/><circle cx="794.6" cy="303.5" r="3.85"/><circle cx="804.8" cy="269.1" r="3.85"/><circle cx="806.9" cy="274.9" r="3.85"/><circle cx="796.0" cy="201.3" r="3.85"/><circle cx="801.8" cy="298.5" r="3.85"/><circle cx="797.9" cy="323.5" r="3.85"/><circle cx="805.3" cy="250.0" r="3.85"/><circle cx="813.4" cy="247.5" r="3.85"/><circle cx="806.0" cy="306.4" r="3.85"/><circle cx="798.8" cy="235.7" r="3.85"/><circle cx="808.5" cy="322.7" r="3.85"/><circle cx="794.2" cy="292.6" r="3.85"/><circle cx="799.2" cy="217.4" r="3.85"/><circle cx="807.5" cy="251.7" r="3.85"/><circle cx="803.5" cy="258.5" r="3.85"/><circle cx="796.4" cy="190.7" r="3.85"/><circle cx="808.9" cy="222.9" r="3.85"/><circle cx="807.6" cy="213.5" r="3.85"/><circle cx="809.8" cy="262.5" r="3.85"/><circle cx="819.9" cy="212.6" r="3.85"/><circle cx="798.1" cy="199.6" r="3.85"/><circle cx="796.7" cy="257.0" r="3.85"/><circle cx="798.0" cy="225.4" r="3.85"/><circle cx="808.6" cy="302.3" r="3.85"/><circle cx="793.7" cy="308.6" r="3.85"/><circle cx="796.7" cy="245.7" r="3.85"/><circle cx="800.6" cy="315.0" r="3.85"/><circle cx="803.9" cy="272.8" r="3.85"/><circle cx="797.3" cy="241.1" r="3.85"/><circle cx="809.7" cy="188.6" r="3.85"/><circle cx="797.8" cy="321.2" r="3.85"/><circle cx="801.0" cy="277.3" r="3.85"/><circle cx="801.1" cy="273.0" r="3.85"/><circle cx="793.5" cy="311.9" r="3.85"/><circle cx="795.4" cy="318.0" r="3.85"/><circle cx="799.4" cy="283.6" r="3.85"/><circle cx="805.3" cy="283.7" r="3.85"/><circle cx="795.8" cy="228.9" r="3.85"/><circle cx="804.9" cy="285.7" r="3.85"/><circle cx="798.2" cy="260.3" r="3.85"/><circle cx="797.7" cy="270.2" r="3.85"/><circle cx="799.7" cy="274.2" r="3.85"/><circle cx="793.6" cy="222.1" r="3.85"/><circle cx="803.1" cy="318.9" r="3.85"/><circle cx="793.5" cy="241.8" r="3.85"/><circle cx="805.4" cy="207.1" r="3.85"/><circle cx="813.0" cy="283.0" r="3.85"/><circle cx="810.0" cy="189.9" r="3.85"/><circle cx="803.8" cy="249.5" r="3.85"/><circle cx="797.7" cy="187.4" r="3.85"/><circle cx="795.1" cy="185.3" r="3.85"/><circle cx="793.2" cy="191.2" r="3.85"/><circle cx="795.5" cy="309.2" r="3.85"/><circle cx="815.2" cy="275.2" r="3.85"/><circle cx="804.8" cy="270.3" r="3.85"/><circle cx="804.1" cy="210.3" r="3.85"/><circle cx="794.4" cy="309.8" r="3.85"/><circle cx="794.5" cy="244.0" r="3.85"/><circle cx="809.9" cy="312.6" r="3.85"/><circle cx="796.4" cy="321.4" r="3.85"/><circle cx="802.5" cy="315.0" r="3.85"/><circle cx="811.5" cy="275.2" r="3.85"/><circle cx="798.0" cy="267.2" r="3.85"/><circle cx="823.1" cy="287.2" r="3.85"/><circle cx="796.6" cy="231.6" r="3.85"/><circle cx="812.5" cy="300.0" r="3.85"/><circle cx="800.6" cy="205.0" r="3.85"/><circle cx="798.5" cy="250.3" r="3.85"/><circle cx="795.8" cy="298.1" r="3.85"/><circle cx="802.6" cy="268.0" r="3.85"/><circle cx="799.3" cy="313.0" r="3.85"/><circle cx="793.8" cy="307.4" r="3.85"/><circle cx="812.5" cy="270.0" r="3.85"/><circle cx="793.5" cy="325.2" r="3.85"/><circle cx="807.6" cy="323.4" r="3.85"/><circle cx="818.7" cy="292.6" r="3.85"/><circle cx="808.9" cy="315.4" r="3.85"/><circle cx="795.1" cy="310.8" r="3.85"/><circle cx="804.5" cy="305.4" r="3.85"/><circle cx="798.8" cy="259.0" r="3.85"/><circle cx="802.4" cy="280.3" r="3.85"/><circle cx="805.2" cy="314.3" r="3.85"/><circle cx="802.1" cy="196.6" r="3.85"/><circle cx="798.1" cy="220.8" r="3.85"/><circle cx="802.1" cy="239.8" r="3.85"/><circle cx="809.2" cy="296.0" r="3.85"/><circle cx="795.9" cy="266.3" r="3.85"/><circle cx="814.8" cy="260.7" r="3.85"/><circle cx="800.1" cy="290.6" r="3.85"/><circle cx="805.1" cy="294.6" r="3.85"/><circle cx="805.9" cy="228.7" r="3.85"/><circle cx="803.7" cy="301.1" r="3.85"/><circle cx="797.4" cy="203.9" r="3.85"/><circle cx="797.0" cy="277.3" r="3.85"/><circle cx="793.5" cy="258.8" r="3.85"/><circle cx="807.5" cy="237.1" r="3.85"/><circle cx="799.9" cy="315.9" r="3.85"/><circle cx="806.0" cy="265.2" r="3.85"/><circle cx="795.3" cy="297.5" r="3.85"/><circle cx="802.9" cy="299.7" r="3.85"/><circle cx="795.6" cy="249.6" r="3.85"/><circle cx="801.2" cy="216.1" r="3.85"/><circle cx="793.3" cy="201.7" r="3.85"/><circle cx="797.6" cy="320.8" r="3.85"/><circle cx="807.1" cy="319.0" r="3.85"/><circle cx="804.2" cy="301.2" r="3.85"/><circle cx="794.8" cy="186.4" r="3.85"/><circle cx="794.6" cy="267.7" r="3.85"/><circle cx="809.7" cy="321.0" r="3.85"/><circle cx="799.4" cy="283.3" r="3.85"/><circle cx="799.9" cy="196.2" r="3.85"/><circle cx="798.4" cy="323.2" r="3.85"/><circle cx="801.5" cy="188.2" r="3.85"/><circle cx="804.2" cy="274.3" r="3.85"/><circle cx="793.4" cy="223.7" r="3.85"/><circle cx="794.5" cy="275.9" r="3.85"/><circle cx="798.4" cy="312.9" r="3.85"/><circle cx="800.9" cy="273.3" r="3.85"/><circle cx="793.9" cy="318.3" r="3.85"/><circle cx="804.1" cy="325.7" r="3.85"/><circle cx="825.7" cy="118.9" r="3.85"/><circle cx="813.1" cy="148.3" r="3.85"/><circle cx="791.9" cy="159.6" r="3.85"/><circle cx="798.1" cy="155.7" r="3.85"/><circle cx="825.0" cy="158.4" r="3.85"/><circle cx="832.4" cy="165.0" r="3.85"/><circle cx="830.2" cy="168.8" r="3.85"/><circle cx="911.9" cy="163.0" r="3.85"/><circle cx="883.8" cy="180.8" r="3.85"/><circle cx="797.4" cy="180.5" r="3.85"/><circle cx="801.9" cy="188.6" r="3.85"/><circle cx="818.3" cy="190.9" r="3.85"/><circle cx="811.2" cy="197.1" r="3.85"/><circle cx="835.0" cy="195.9" r="3.85"/><circle cx="819.3" cy="201.7" r="3.85"/><circle cx="836.2" cy="214.9" r="3.85"/><circle cx="829.8" cy="220.3" r="3.85"/><circle cx="842.1" cy="224.2" r="3.85"/><circle cx="861.4" cy="214.5" r="3.85"/><circle cx="871.9" cy="211.8" r="3.85"/><circle cx="886.4" cy="214.5" r="3.85"/><circle cx="830.2" cy="245.5" r="3.85"/><circle cx="840.2" cy="246.2" r="3.85"/><circle cx="829.8" cy="258.6" r="3.85"/><circle cx="832.4" cy="261.3" r="3.85"/><circle cx="859.3" cy="260.6" r="3.85"/><circle cx="869.3" cy="258.6" r="3.85"/><circle cx="873.3" cy="262.1" r="3.85"/><circle cx="817.4" cy="303.5" r="3.85"/><circle cx="822.6" cy="312.4" r="3.85"/><circle cx="825.2" cy="315.1" r="3.85"/><circle cx="820.5" cy="317.8" r="3.85"/><circle cx="895.7" cy="319.4" r="3.85"/><circle cx="813.3" cy="286.9" r="3.85"/><circle cx="817.9" cy="272.6" r="3.85"/></g>
</svg>
<line x1="764.0" y1="70.0" x2="764.0" y2="381.0" stroke="#999" stroke-width="0.8" stroke-dasharray="2,2"/>
<line x1="791.9" y1="70.0" x2="791.9" y2="381.0" stroke="#999" stroke-width="0.8" stroke-dasharray="2,2"/>
<line x1="589.0" y1="328.3" x2="966.0" y2="328.3" stroke="#aaa" stroke-width="0.8" stroke-dasharray="2,2"/>
<rect x="587.4" y="68.4" width="380.4" height="314.1" fill="none" stroke="#8a8a8a" stroke-width="1.4"/>
<line x1="587.4" y1="382.5" x2="587.4" y2="385.5" stroke="#666" stroke-width="1.2"/>
<line x1="634.9" y1="382.5" x2="634.9" y2="385.5" stroke="#666" stroke-width="1.2"/>
<line x1="682.5" y1="382.5" x2="682.5" y2="385.5" stroke="#666" stroke-width="1.2"/>
<line x1="730.0" y1="382.5" x2="730.0" y2="385.5" stroke="#666" stroke-width="1.2"/>
<line x1="777.6" y1="382.5" x2="777.6" y2="385.5" stroke="#666" stroke-width="1.2"/>
<line x1="825.1" y1="382.5" x2="825.1" y2="385.5" stroke="#666" stroke-width="1.2"/>
<line x1="872.7" y1="382.5" x2="872.7" y2="385.5" stroke="#666" stroke-width="1.2"/>
<line x1="920.2" y1="382.5" x2="920.2" y2="385.5" stroke="#666" stroke-width="1.2"/>
<line x1="967.8" y1="382.5" x2="967.8" y2="385.5" stroke="#666" stroke-width="1.2"/>
<line x1="584.5" y1="378.6" x2="587.4" y2="378.6" stroke="#666" stroke-width="1.2"/>
<line x1="584.5" y1="339.9" x2="587.4" y2="339.9" stroke="#666" stroke-width="1.2"/>
<line x1="584.5" y1="301.2" x2="587.4" y2="301.2" stroke="#666" stroke-width="1.2"/>
<line x1="584.5" y1="262.5" x2="587.4" y2="262.5" stroke="#666" stroke-width="1.2"/>
<line x1="584.5" y1="223.8" x2="587.4" y2="223.8" stroke="#666" stroke-width="1.2"/>
<line x1="584.5" y1="185.1" x2="587.4" y2="185.1" stroke="#666" stroke-width="1.2"/>
<line x1="584.5" y1="146.4" x2="587.4" y2="146.4" stroke="#666" stroke-width="1.2"/>
<line x1="584.5" y1="107.7" x2="587.4" y2="107.7" stroke="#666" stroke-width="1.2"/>
<line x1="584.5" y1="69.0" x2="587.4" y2="69.0" stroke="#666" stroke-width="1.2"/>
<text x="585.0" y="408.0" font-size="23.5" text-anchor="middle" stroke="#000">-8</text>
<text x="670.6" y="408.0" font-size="23.5" text-anchor="middle" stroke="#000">-4</text>
<text x="766.7" y="408.0" font-size="23.5" text-anchor="middle" stroke="#000">0</text>
<text x="861.8" y="408.0" font-size="23.5" text-anchor="middle" stroke="#000">4</text>
<text x="956.8" y="408.0" font-size="23.5" text-anchor="middle" stroke="#000">8</text>
<text x="580.5" y="88.1" font-size="23.5" text-anchor="end" stroke="#000">8</text>
<text x="580.5" y="166.5" font-size="23.5" text-anchor="end" stroke="#000">6</text>
<text x="580.5" y="243.4" font-size="23.5" text-anchor="end" stroke="#000">4</text>
<text x="580.5" y="322.4" font-size="23.5" text-anchor="end" stroke="#000">2</text>
<text x="580.5" y="384.2" font-size="23.5" text-anchor="end" stroke="#000">0</text>
<text x="790.0" y="428.0" font-size="24.2" text-anchor="middle" stroke="#000">Log<tspan font-size="15.5" dy="5">2</tspan><tspan dy="-5">(Fold Change)</tspan></text>
<text transform="translate(551.8,223.3) rotate(-90)" font-size="24.2" text-anchor="middle" stroke="#000">-Log<tspan font-size="15.5" dy="5">10</tspan><tspan dy="-5">(p Value)</tspan></text>
<circle cx="596.3" cy="52.8" r="8.3" fill="#6b7bc0"/>
<text x="606.0" y="60.8" font-size="23.5" stroke="#000">Down</text>
<circle cx="745.4" cy="52.8" r="8.3" fill="#a9a9a9"/>
<text x="756.5" y="60.8" font-size="23.5" stroke="#000">Nodiff</text>
<circle cx="902.0" cy="52.8" r="8.3" fill="#e0452c"/>
<text x="912.0" y="60.8" font-size="23.5" stroke="#000">Up</text>
<text x="607.0" y="89.6" font-size="23" stroke="#000">175</text>
<text x="756.0" y="89.6" font-size="23" stroke="#000">2744</text>
<text x="915.0" y="89.6" font-size="23" stroke="#000">195</text>
<text x="702.0" y="128.7" font-size="20.5" text-anchor="end" fill="#4a62b0" stroke="#4a62b0">GDF9</text>
<line x1="703.2" y1="130.2" x2="745.4" y2="142.6" stroke="#4a62b0" stroke-width="1.4"/>
<text x="677.0" y="170.9" font-size="20.5" text-anchor="end" fill="#4a62b0" stroke="#4a62b0">eIF2β</text>
<line x1="678.0" y1="162.3" x2="745.4" y2="182.9" stroke="#4a62b0" stroke-width="1.4"/>
<text x="664.0" y="211.7" font-size="20.5" text-anchor="end" fill="#4a62b0" stroke="#4a62b0">BMP15</text>
<line x1="669.0" y1="207.7" x2="734.8" y2="213.7" stroke="#4a62b0" stroke-width="1.4"/>
<text x="666.3" y="252.6" font-size="20.5" text-anchor="end" fill="#4a62b0" stroke="#4a62b0">GJA1</text>
<line x1="666.3" y1="240.0" x2="749.3" y2="235.6" stroke="#4a62b0" stroke-width="1.4"/>
<text x="657.5" y="282.9" font-size="20.5" text-anchor="end" fill="#4a62b0" stroke="#4a62b0">CDK1</text>
<line x1="658.4" y1="276.2" x2="745.4" y2="269.1" stroke="#4a62b0" stroke-width="1.4"/>
<text x="660.0" y="323.7" font-size="20.5" text-anchor="end" fill="#4a62b0" stroke="#4a62b0">GJA4</text>
<line x1="664.5" y1="317.0" x2="745.4" y2="321.8" stroke="#4a62b0" stroke-width="1.4"/>
<text x="873.2" y="148.5" font-size="20.5" fill="#e0402a" stroke="#e0402a">ASNS</text>
<line x1="875.9" y1="153.0" x2="808.6" y2="216.4" stroke="#e0402a" stroke-width="1.4"/>
<text x="890.4" y="186.7" font-size="20.5" fill="#e0402a" stroke="#e0402a">SNRPC</text>
<line x1="890.4" y1="192.7" x2="812.6" y2="245.4" stroke="#e0402a" stroke-width="1.4"/>
<text x="897.0" y="218.2" font-size="20.5" fill="#e0402a" stroke="#e0402a">DDX17</text>
<line x1="895.6" y1="213.7" x2="833.7" y2="261.2" stroke="#e0402a" stroke-width="1.4"/>
<text x="903.5" y="259.2" font-size="20.5" fill="#e0402a" stroke="#e0402a">PARP1</text>
<line x1="902.2" y1="258.6" x2="810.0" y2="282.3" stroke="#e0402a" stroke-width="1.4"/>
<text x="887.7" y="292.2" font-size="20.5" fill="#e0402a" stroke="#e0402a">BAX</text>
<line x1="883.8" y1="286.2" x2="806.0" y2="299.4" stroke="#e0402a" stroke-width="1.4"/>
<text x="879.8" y="323.7" font-size="20.5" fill="#e0402a" stroke="#e0402a">SQSTM1</text>
<line x1="879.8" y1="315.8" x2="817.9" y2="317.9" stroke="#e0402a" stroke-width="1.4"/>
<rect x="1093.3" y="98.0" width="134.5" height="40.4" fill="#f0f0f0"/>
<g filter="url(#blH)" opacity="0.28">
<rect x="1107.4" y="110.2" width="48.4" height="19.5" rx="9.8" fill="#000"/>
<rect x="1165.8" y="111.8" width="47.9" height="17.0" rx="8.5" fill="#000"/>
</g>
<g filter="url(#blC)">
<rect x="1110.4" y="115.2" width="42.4" height="9.5" rx="4.8" fill="#000"/>
<rect x="1168.8" y="116.8" width="41.9" height="7.0" rx="3.5" fill="#050505"/>
</g>
<rect x="1094.9" y="99.6" width="131.3" height="37.2" fill="none" stroke="#fafafa" stroke-width="1.3"/>
<rect x="1093.3" y="98.0" width="134.5" height="40.4" fill="none" stroke="#000" stroke-width="1.6"/>
<text x="1087.0" y="126.6" font-size="24" text-anchor="end" stroke="#000">DDX4</text>
<line x1="1227.8" y1="100.2" x2="1234.4" y2="100.2" stroke="#000" stroke-width="1.6"/>
<text x="1235.5" y="108.6" font-size="23.5" stroke="#000">100</text>
<line x1="1227.8" y1="134.4" x2="1234.4" y2="134.4" stroke="#000" stroke-width="1.6"/>
<text x="1235.5" y="142.8" font-size="23.5" stroke="#000">70</text>
<rect x="1093.3" y="150.3" width="134.5" height="40.3" fill="url(#gEA)"/>
<g filter="url(#blH)" opacity="0.25">
<rect x="1105.0" y="159.3" width="51.0" height="23.0" rx="11.5" fill="#000"/>
<rect x="1165.8" y="163.4" width="50.8" height="16.0" rx="8.0" fill="#000"/>
</g>
<g filter="url(#blC)">
<path d="M1114.5,164.3 L1145.0,166.8 Q1153.0,171.3 1145.0,175.3 L1114.5,177.3 A6.5,6.5 0 0 1 1114.5,164.3 Z" fill="#000"/>
<rect x="1168.8" y="168.4" width="44.8" height="6.0" rx="3.0" fill="#bdbdbd"/>
</g>
<rect x="1094.9" y="151.9" width="131.3" height="37.1" fill="none" stroke="#fafafa" stroke-width="1.3"/>
<rect x="1093.3" y="150.3" width="134.5" height="40.3" fill="none" stroke="#000" stroke-width="1.6"/>
<text x="1087.0" y="178.8" font-size="24" text-anchor="end" stroke="#000">eIF2α</text>
<line x1="1227.8" y1="151.6" x2="1234.4" y2="151.6" stroke="#000" stroke-width="1.6"/>
<text x="1235.5" y="160.0" font-size="23.5" stroke="#000">40</text>
<line x1="1227.8" y1="181.9" x2="1234.4" y2="181.9" stroke="#000" stroke-width="1.6"/>
<text x="1235.5" y="190.3" font-size="23.5" stroke="#000">35</text>
<rect x="1093.3" y="202.2" width="134.5" height="40.3" fill="#ececec"/>
<g filter="url(#blH)" opacity="0.22">
<rect x="1112.3" y="216.4" width="44.4" height="18.0" rx="9.0" fill="#000"/>
<rect x="1168.7" y="216.9" width="45.9" height="17.0" rx="8.5" fill="#000"/>
</g>
<g filter="url(#blC)">
<rect x="1115.3" y="221.4" width="38.4" height="8.0" rx="4.0" fill="#000"/>
<rect x="1171.7" y="221.9" width="39.9" height="7.0" rx="3.5" fill="#1a1a1a"/>
</g>
<rect x="1094.9" y="203.8" width="131.3" height="37.1" fill="none" stroke="#fafafa" stroke-width="1.3"/>
<rect x="1093.3" y="202.2" width="134.5" height="40.3" fill="none" stroke="#000" stroke-width="1.6"/>
<text x="1087.0" y="230.8" font-size="24" text-anchor="end" stroke="#000">CDC25B</text>
<line x1="1227.8" y1="203.0" x2="1234.4" y2="203.0" stroke="#000" stroke-width="1.6"/>
<text x="1235.5" y="211.4" font-size="23.5" stroke="#000">70</text>
<line x1="1227.8" y1="233.3" x2="1234.4" y2="233.3" stroke="#000" stroke-width="1.6"/>
<text x="1235.5" y="241.7" font-size="23.5" stroke="#000">55</text>
<rect x="1093.3" y="254.4" width="134.5" height="40.3" fill="url(#gAU)"/>
<g filter="url(#blH)" opacity="0.15">
<rect x="1107.9" y="254.3" width="45.9" height="19.0" rx="9.5" fill="#000"/>
<rect x="1163.9" y="254.9" width="46.8" height="14.5" rx="7.2" fill="#000"/>
</g>
<g filter="url(#blC)">
<rect x="1110.9" y="259.3" width="39.9" height="9.0" rx="4.5" fill="#000"/>
<rect x="1166.9" y="259.9" width="40.8" height="4.5" rx="2.2" fill="#262626"/>
</g>
<rect x="1094.9" y="256.0" width="131.3" height="37.1" fill="none" stroke="#fafafa" stroke-width="1.3"/>
<rect x="1093.3" y="254.4" width="134.5" height="40.3" fill="none" stroke="#000" stroke-width="1.6"/>
<text x="1087.0" y="282.9" font-size="24" text-anchor="end" stroke="#000">AURKA</text>
<line x1="1227.8" y1="255.7" x2="1234.4" y2="255.7" stroke="#000" stroke-width="1.6"/>
<text x="1235.5" y="264.1" font-size="23.5" stroke="#000">55</text>
<line x1="1227.8" y1="284.7" x2="1234.4" y2="284.7" stroke="#000" stroke-width="1.6"/>
<text x="1235.5" y="293.1" font-size="23.5" stroke="#000">40</text>
<rect x="1093.3" y="306.6" width="134.5" height="40.8" fill="#d9d9d9"/>
<g filter="url(#blH)" opacity="0.32">
<rect x="1102.0" y="315.9" width="58.0" height="22.7" rx="11.3" fill="#000"/>
<rect x="1162.9" y="317.8" width="54.1" height="19.0" rx="9.5" fill="#000"/>
</g>
<g filter="url(#blC)">
<rect x="1105.0" y="320.9" width="52.0" height="12.7" rx="6.0" fill="#000"/>
<rect x="1165.9" y="322.8" width="48.1" height="9.0" rx="4.5" fill="#000"/>
</g>
<rect x="1094.9" y="308.2" width="131.3" height="37.6" fill="none" stroke="#fafafa" stroke-width="1.3"/>
<rect x="1093.3" y="306.6" width="134.5" height="40.8" fill="none" stroke="#000" stroke-width="1.6"/>
<text x="1087.0" y="335.4" font-size="24" text-anchor="end" stroke="#000">eIF2B1</text>
<line x1="1227.8" y1="307.0" x2="1234.4" y2="307.0" stroke="#000" stroke-width="1.6"/>
<text x="1235.5" y="315.4" font-size="23.5" stroke="#000">35</text>
<line x1="1227.8" y1="341.4" x2="1234.4" y2="341.4" stroke="#000" stroke-width="1.6"/>
<text x="1235.5" y="349.8" font-size="23.5" stroke="#000">25</text>
<rect x="1093.3" y="358.5" width="134.5" height="40.9" fill="#ededed"/>
<g filter="url(#blH)" opacity="0.25">
<rect x="1106.0" y="369.1" width="50.7" height="22.0" rx="11.0" fill="#000"/>
<rect x="1162.0" y="367.6" width="53.6" height="22.0" rx="11.0" fill="#000"/>
</g>
<g filter="url(#blC)">
<rect x="1109.0" y="374.1" width="44.7" height="12.0" rx="6.0" fill="#000"/>
<rect x="1165.0" y="372.6" width="47.6" height="12.0" rx="6.0" fill="#000"/>
</g>
<rect x="1094.9" y="360.1" width="131.3" height="37.7" fill="none" stroke="#fafafa" stroke-width="1.3"/>
<rect x="1093.3" y="358.5" width="134.5" height="40.9" fill="none" stroke="#000" stroke-width="1.6"/>
<text x="1087.0" y="387.3" font-size="24" text-anchor="end" stroke="#000">β-actin</text>
<line x1="1227.8" y1="387.5" x2="1234.4" y2="387.5" stroke="#000" stroke-width="1.6"/>
<text x="1235.5" y="395.9" font-size="23.5" stroke="#000">40</text>
<text x="1229.0" y="84.0" font-size="23.5" stroke="#000">kDa</text>
<text transform="translate(1120.8,95.7) rotate(-29)" font-size="23.5" stroke="#000">WT</text>
<text transform="translate(1173.7,94.2) rotate(-30.5)" font-size="23.8" stroke="#000"><tspan font-style="italic">Eif2s2</tspan>-ZcKO</text>
<rect x="1519.3" y="44.0" width="29.9" height="28.8" fill="#4b5aad" stroke="#000" stroke-width="1.6"/>
<text x="1552.5" y="66.9" font-size="24" stroke="#000">WT</text>
<rect x="1705.8" y="44.0" width="29.2" height="28.8" fill="#e03228" stroke="#000" stroke-width="1.6"/>
<text x="1739.0" y="66.9" font-size="24" stroke="#000"><tspan font-style="italic">Eif2s2</tspan>-ZcKO</text>
<rect x="1409.0" y="182.8" width="32.5" height="207.2" fill="#525db0" stroke="#222" stroke-width="0.8"/>
<rect x="1458.8" y="305.0" width="32.5" height="85.0" fill="#e34242" stroke="#222" stroke-width="0.8"/>
<line x1="1475.0" y1="275.2" x2="1475.0" y2="333.6" stroke="#000" stroke-width="1.2"/>
<line x1="1467.5" y1="275.2" x2="1482.5" y2="275.2" stroke="#000" stroke-width="1.2"/>
<line x1="1467.5" y1="333.6" x2="1482.5" y2="333.6" stroke="#000" stroke-width="1.2"/>
<circle cx="1413.7" cy="183.0" r="3.9" fill="#fff" stroke="#333" stroke-width="1"/>
<circle cx="1425.0" cy="183.0" r="3.9" fill="#fff" stroke="#333" stroke-width="1"/>
<circle cx="1436.6" cy="183.0" r="3.9" fill="#fff" stroke="#333" stroke-width="1"/>
<circle cx="1466.5" cy="286.8" r="3.9" fill="#fff" stroke="#333" stroke-width="1"/>
<circle cx="1483.4" cy="288.6" r="3.9" fill="#fff" stroke="#333" stroke-width="1"/>
<circle cx="1474.6" cy="338.5" r="3.9" fill="#fff" stroke="#333" stroke-width="1"/>
<text x="1475.8" y="273.7" font-size="22" text-anchor="middle" font-weight="bold" stroke="#000" letter-spacing="1.6">**</text>
<rect x="1523.9" y="182.8" width="32.5" height="207.2" fill="#525db0" stroke="#222" stroke-width="0.8"/>
<rect x="1573.0" y="354.4" width="32.5" height="35.6" fill="#e34242" stroke="#222" stroke-width="0.8"/>
<line x1="1540.2" y1="172.4" x2="1540.2" y2="193.5" stroke="#000" stroke-width="1.2"/>
<line x1="1532.7" y1="172.4" x2="1547.7" y2="172.4" stroke="#000" stroke-width="1.2"/>
<line x1="1532.7" y1="193.5" x2="1547.7" y2="193.5" stroke="#000" stroke-width="1.2"/>
<line x1="1589.2" y1="326.6" x2="1589.2" y2="380.8" stroke="#000" stroke-width="1.2"/>
<line x1="1581.8" y1="326.6" x2="1596.8" y2="326.6" stroke="#000" stroke-width="1.2"/>
<line x1="1581.8" y1="380.8" x2="1596.8" y2="380.8" stroke="#000" stroke-width="1.2"/>
<circle cx="1539.7" cy="171.4" r="3.9" fill="#fff" stroke="#333" stroke-width="1"/>
<circle cx="1532.0" cy="186.5" r="3.9" fill="#fff" stroke="#333" stroke-width="1"/>
<circle cx="1548.5" cy="191.8" r="3.9" fill="#fff" stroke="#333" stroke-width="1"/>
<circle cx="1589.0" cy="326.6" r="3.9" fill="#fff" stroke="#333" stroke-width="1"/>
<circle cx="1589.0" cy="353.7" r="3.9" fill="#fff" stroke="#333" stroke-width="1"/>
<circle cx="1589.0" cy="380.8" r="3.9" fill="#fff" stroke="#333" stroke-width="1"/>
<text x="1590.0" y="321.7" font-size="22" text-anchor="middle" font-weight="bold" stroke="#000" letter-spacing="1.6">***</text>
<rect x="1638.2" y="182.8" width="32.5" height="207.2" fill="#525db0" stroke="#222" stroke-width="0.8"/>
<rect x="1688.2" y="198.1" width="32.5" height="191.9" fill="#e34242" stroke="#222" stroke-width="0.8"/>
<line x1="1654.5" y1="177.7" x2="1654.5" y2="188.0" stroke="#000" stroke-width="1.2"/>
<line x1="1647.0" y1="177.7" x2="1662.0" y2="177.7" stroke="#000" stroke-width="1.2"/>
<line x1="1647.0" y1="188.0" x2="1662.0" y2="188.0" stroke="#000" stroke-width="1.2"/>
<line x1="1704.5" y1="178.4" x2="1704.5" y2="217.5" stroke="#000" stroke-width="1.2"/>
<line x1="1697.0" y1="178.4" x2="1712.0" y2="178.4" stroke="#000" stroke-width="1.2"/>
<line x1="1697.0" y1="217.5" x2="1712.0" y2="217.5" stroke="#000" stroke-width="1.2"/>
<circle cx="1644.2" cy="176.7" r="3.9" fill="#fff" stroke="#333" stroke-width="1"/>
<circle cx="1654.8" cy="185.5" r="3.9" fill="#fff" stroke="#333" stroke-width="1"/>
<circle cx="1666.0" cy="186.5" r="3.9" fill="#fff" stroke="#333" stroke-width="1"/>
<circle cx="1696.0" cy="182.3" r="3.9" fill="#fff" stroke="#333" stroke-width="1"/>
<circle cx="1712.8" cy="191.8" r="3.9" fill="#fff" stroke="#333" stroke-width="1"/>
<circle cx="1704.0" cy="220.0" r="3.9" fill="#fff" stroke="#333" stroke-width="1"/>
<rect x="1753.3" y="182.8" width="32.5" height="207.2" fill="#525db0" stroke="#222" stroke-width="0.8"/>
<rect x="1802.6" y="294.9" width="32.5" height="95.1" fill="#e34242" stroke="#222" stroke-width="0.8"/>
<line x1="1769.5" y1="170.7" x2="1769.5" y2="195.3" stroke="#000" stroke-width="1.2"/>
<line x1="1762.0" y1="170.7" x2="1777.0" y2="170.7" stroke="#000" stroke-width="1.2"/>
<line x1="1762.0" y1="195.3" x2="1777.0" y2="195.3" stroke="#000" stroke-width="1.2"/>
<line x1="1818.8" y1="282.6" x2="1818.8" y2="306.9" stroke="#000" stroke-width="1.2"/>
<line x1="1811.3" y1="282.6" x2="1826.3" y2="282.6" stroke="#000" stroke-width="1.2"/>
<line x1="1811.3" y1="306.9" x2="1826.3" y2="306.9" stroke="#000" stroke-width="1.2"/>
<circle cx="1761.0" cy="171.7" r="3.9" fill="#fff" stroke="#333" stroke-width="1"/>
<circle cx="1778.0" cy="182.3" r="3.9" fill="#fff" stroke="#333" stroke-width="1"/>
<circle cx="1769.0" cy="195.7" r="3.9" fill="#fff" stroke="#333" stroke-width="1"/>
<circle cx="1810.6" cy="284.3" r="3.9" fill="#fff" stroke="#333" stroke-width="1"/>
<circle cx="1826.5" cy="291.4" r="3.9" fill="#fff" stroke="#333" stroke-width="1"/>
<circle cx="1818.4" cy="308.0" r="3.9" fill="#fff" stroke="#333" stroke-width="1"/>
<text x="1819.5" y="283.7" font-size="22" text-anchor="middle" font-weight="bold" stroke="#000" letter-spacing="1.6">***</text>
<rect x="1867.7" y="182.8" width="32.5" height="207.2" fill="#525db0" stroke="#222" stroke-width="0.8"/>
<rect x="1917.0" y="303.4" width="32.5" height="86.6" fill="#e34242" stroke="#222" stroke-width="0.8"/>
<line x1="1884.0" y1="173.5" x2="1884.0" y2="192.8" stroke="#000" stroke-width="1.2"/>
<line x1="1876.5" y1="173.5" x2="1891.5" y2="173.5" stroke="#000" stroke-width="1.2"/>
<line x1="1876.5" y1="192.8" x2="1891.5" y2="192.8" stroke="#000" stroke-width="1.2"/>
<line x1="1933.2" y1="298.0" x2="1933.2" y2="309.0" stroke="#000" stroke-width="1.2"/>
<line x1="1925.8" y1="298.0" x2="1940.8" y2="298.0" stroke="#000" stroke-width="1.2"/>
<line x1="1925.8" y1="309.0" x2="1940.8" y2="309.0" stroke="#000" stroke-width="1.2"/>
<circle cx="1884.2" cy="171.4" r="3.9" fill="#fff" stroke="#333" stroke-width="1"/>
<circle cx="1875.8" cy="187.2" r="3.9" fill="#fff" stroke="#333" stroke-width="1"/>
<circle cx="1892.3" cy="190.0" r="3.9" fill="#fff" stroke="#333" stroke-width="1"/>
<circle cx="1922.0" cy="296.6" r="3.9" fill="#fff" stroke="#333" stroke-width="1"/>
<circle cx="1932.8" cy="305.4" r="3.9" fill="#fff" stroke="#333" stroke-width="1"/>
<circle cx="1944.0" cy="307.2" r="3.9" fill="#fff" stroke="#333" stroke-width="1"/>
<text x="1934.0" y="291.7" font-size="22" text-anchor="middle" font-weight="bold" stroke="#000" letter-spacing="1.6">***</text>
<line x1="1507.0" y1="79.2" x2="1507.0" y2="389.0" stroke="#000" stroke-width="2.1" stroke-dasharray="5.6,4.2"/>
<line x1="1622.0" y1="79.2" x2="1622.0" y2="389.0" stroke="#000" stroke-width="2.1" stroke-dasharray="5.6,4.2"/>
<line x1="1736.8" y1="79.2" x2="1736.8" y2="389.0" stroke="#000" stroke-width="2.1" stroke-dasharray="5.6,4.2"/>
<line x1="1851.0" y1="79.2" x2="1851.0" y2="389.0" stroke="#000" stroke-width="2.1" stroke-dasharray="5.6,4.2"/>
<rect x="1392.6" y="79.2" width="577.1" height="310.8" fill="none" stroke="#000" stroke-width="2"/>
<line x1="1385.6" y1="79.2" x2="1392.6" y2="79.2" stroke="#000" stroke-width="2"/>
<text x="1381.0" y="86.6" font-size="24" text-anchor="end" stroke="#000">1.5</text>
<line x1="1385.6" y1="182.8" x2="1392.6" y2="182.8" stroke="#000" stroke-width="2"/>
<text x="1381.0" y="190.2" font-size="24" text-anchor="end" stroke="#000">1.0</text>
<line x1="1385.6" y1="286.4" x2="1392.6" y2="286.4" stroke="#000" stroke-width="2"/>
<text x="1381.0" y="293.8" font-size="24" text-anchor="end" stroke="#000">0.5</text>
<line x1="1385.6" y1="390.0" x2="1392.6" y2="390.0" stroke="#000" stroke-width="2"/>
<text x="1381.0" y="397.4" font-size="24" text-anchor="end" stroke="#000">0.0</text>
<text x="1448.5" y="413.5" font-size="24" text-anchor="middle" stroke="#000">DDX4</text>
<text x="1565.0" y="413.5" font-size="24" text-anchor="middle" stroke="#000">eIF2α</text>
<text x="1683.0" y="413.5" font-size="24" text-anchor="middle" stroke="#000">CDC25B</text>
<text x="1798.0" y="413.5" font-size="24" text-anchor="middle" stroke="#000">AURKA</text>
<text x="1910.0" y="413.5" font-size="24" text-anchor="middle" stroke="#000">eIF2B1</text>
<text transform="translate(1328.3,242.0) rotate(-90)" font-size="24" text-anchor="middle" stroke="#000">Relative Intensity</text>
<line x1="579.7" y1="493.7" x2="579.7" y2="875.4" stroke="#e6e6e6" stroke-width="1.3"/>
<line x1="633.4" y1="493.7" x2="633.4" y2="875.4" stroke="#e6e6e6" stroke-width="1.3"/>
<line x1="687.3" y1="493.7" x2="687.3" y2="875.4" stroke="#e6e6e6" stroke-width="1.3"/>
<line x1="741.3" y1="493.7" x2="741.3" y2="875.4" stroke="#e6e6e6" stroke-width="1.3"/>
<line x1="794.7" y1="493.7" x2="794.7" y2="875.4" stroke="#e6e6e6" stroke-width="1.3"/>
<line x1="848.4" y1="493.7" x2="848.4" y2="875.4" stroke="#e6e6e6" stroke-width="1.3"/>
<line x1="550.3" y1="510.6" x2="858.1" y2="510.6" stroke="#e6e6e6" stroke-width="1.3"/>
<line x1="550.3" y1="542.1" x2="858.1" y2="542.1" stroke="#e6e6e6" stroke-width="1.3"/>
<line x1="550.3" y1="573.7" x2="858.1" y2="573.7" stroke="#e6e6e6" stroke-width="1.3"/>
<line x1="550.3" y1="605.2" x2="858.1" y2="605.2" stroke="#e6e6e6" stroke-width="1.3"/>
<line x1="550.3" y1="636.8" x2="858.1" y2="636.8" stroke="#e6e6e6" stroke-width="1.3"/>
<line x1="550.3" y1="668.4" x2="858.1" y2="668.4" stroke="#e6e6e6" stroke-width="1.3"/>
<line x1="550.3" y1="699.9" x2="858.1" y2="699.9" stroke="#e6e6e6" stroke-width="1.3"/>
<line x1="550.3" y1="731.5" x2="858.1" y2="731.5" stroke="#e6e6e6" stroke-width="1.3"/>
<line x1="550.3" y1="763.0" x2="858.1" y2="763.0" stroke="#e6e6e6" stroke-width="1.3"/>
<line x1="550.3" y1="794.5" x2="858.1" y2="794.5" stroke="#e6e6e6" stroke-width="1.3"/>
<line x1="550.3" y1="826.1" x2="858.1" y2="826.1" stroke="#e6e6e6" stroke-width="1.3"/>
<line x1="550.3" y1="857.7" x2="858.1" y2="857.7" stroke="#e6e6e6" stroke-width="1.3"/>
<g clip-path="url(#clipF)">
<circle cx="759.5" cy="511.2" r="17.3" fill="#7bcf3a" stroke="#69c52c" stroke-width="1"/>
<circle cx="844.7" cy="543.0" r="17.8" fill="#7bcf3a" stroke="#69c52c" stroke-width="1"/>
<circle cx="648.4" cy="574.7" r="14.7" fill="#7bcf3a" stroke="#69c52c" stroke-width="1"/>
<circle cx="599.3" cy="605.9" r="12.7" fill="#7bcf3a" stroke="#69c52c" stroke-width="1"/>
<circle cx="562.3" cy="637.6" r="8.8" fill="#7bcf3a" stroke="#69c52c" stroke-width="1"/>
<circle cx="562.3" cy="669.4" r="8.8" fill="#7bcf3a" stroke="#69c52c" stroke-width="1"/>
<circle cx="599.3" cy="700.6" r="12.7" fill="#7bcf3a" stroke="#69c52c" stroke-width="1"/>
<circle cx="574.7" cy="732.0" r="10.9" fill="#7bcf3a" stroke="#69c52c" stroke-width="1"/>
<circle cx="562.3" cy="763.2" r="8.8" fill="#7bcf3a" stroke="#69c52c" stroke-width="1"/>
<circle cx="574.7" cy="795.0" r="10.9" fill="#7bcf3a" stroke="#69c52c" stroke-width="1"/>
<circle cx="574.7" cy="826.8" r="10.9" fill="#88d444" stroke="#78cc34" stroke-width="1"/>
<circle cx="562.3" cy="858.0" r="8.8" fill="#e4432f" stroke="#df3322" stroke-width="1"/>
</g>
<rect x="549.3" y="492.7" width="309.8" height="383.7" fill="none" stroke="#333" stroke-width="1.3"/>
<line x1="543.5" y1="510.6" x2="549.3" y2="510.6" stroke="#333" stroke-width="1.3"/>
<text x="536.5" y="517.4" font-size="24" text-anchor="end" stroke="#000">Cell cycle</text>
<line x1="543.5" y1="542.1" x2="549.3" y2="542.1" stroke="#333" stroke-width="1.3"/>
<text x="536.5" y="548.9" font-size="24" text-anchor="end" stroke="#000">Mitochondrion</text>
<line x1="543.5" y1="573.7" x2="549.3" y2="573.7" stroke="#333" stroke-width="1.3"/>
<text x="536.5" y="580.5" font-size="24" text-anchor="end" stroke="#000">Protein serine/threonine kinase activity</text>
<line x1="543.5" y1="605.2" x2="549.3" y2="605.2" stroke="#333" stroke-width="1.3"/>
<text x="536.5" y="612.0" font-size="24" text-anchor="end" stroke="#000">Regulation of translation</text>
<line x1="543.5" y1="636.8" x2="549.3" y2="636.8" stroke="#333" stroke-width="1.3"/>
<text x="536.5" y="643.6" font-size="24" text-anchor="end" stroke="#000">Mitotic cell cycle phase transition</text>
<line x1="543.5" y1="668.4" x2="549.3" y2="668.4" stroke="#333" stroke-width="1.3"/>
<text x="536.5" y="675.1" font-size="24" text-anchor="end" stroke="#000">Gap junction</text>
<line x1="543.5" y1="699.9" x2="549.3" y2="699.9" stroke="#333" stroke-width="1.3"/>
<text x="536.5" y="706.7" font-size="24" text-anchor="end" stroke="#000">Actin cytoskeleton</text>
<line x1="543.5" y1="731.5" x2="549.3" y2="731.5" stroke="#333" stroke-width="1.3"/>
<text x="536.5" y="738.2" font-size="24" text-anchor="end" stroke="#000">Progesterone−mediated oocyte maturation</text>
<line x1="543.5" y1="763.0" x2="549.3" y2="763.0" stroke="#333" stroke-width="1.3"/>
<text x="536.5" y="769.8" font-size="24" text-anchor="end" stroke="#000">Alpha−tubulin binding</text>
<line x1="543.5" y1="794.5" x2="549.3" y2="794.5" stroke="#333" stroke-width="1.3"/>
<text x="536.5" y="801.3" font-size="24" text-anchor="end" stroke="#000">Spindle</text>
<line x1="543.5" y1="826.1" x2="549.3" y2="826.1" stroke="#333" stroke-width="1.3"/>
<text x="536.5" y="832.9" font-size="24" text-anchor="end" stroke="#000">Autophagy</text>
<line x1="543.5" y1="857.7" x2="549.3" y2="857.7" stroke="#333" stroke-width="1.3"/>
<text x="536.5" y="864.5" font-size="24" text-anchor="end" stroke="#000">Ubiquitin mediated proteolysis</text>
<line x1="633.4" y1="876.4" x2="633.4" y2="881.4" stroke="#333" stroke-width="1.3"/>
<line x1="741.3" y1="876.4" x2="741.3" y2="881.4" stroke="#333" stroke-width="1.3"/>
<line x1="848.4" y1="876.4" x2="848.4" y2="881.4" stroke="#333" stroke-width="1.3"/>
<text x="630.5" y="905.0" font-size="23.5" text-anchor="middle" stroke="#000">0.05</text>
<text x="737.2" y="905.0" font-size="23.5" text-anchor="middle" stroke="#000">0.10</text>
<text x="843.3" y="905.0" font-size="23.5" text-anchor="middle" stroke="#000">0.15</text>
<rect x="888.0" y="491.9" width="29.4" height="148.6" fill="url(#clipFg)"/>
<line x1="888.0" y1="532.3" x2="893.0" y2="532.3" stroke="#fff" stroke-width="1.2"/>
<line x1="912.4" y1="532.3" x2="917.4" y2="532.3" stroke="#fff" stroke-width="1.2"/>
<text x="924.0" y="544.0" font-size="24" stroke="#000">0.02</text>
<line x1="888.0" y1="585.7" x2="893.0" y2="585.7" stroke="#fff" stroke-width="1.2"/>
<line x1="912.4" y1="585.7" x2="917.4" y2="585.7" stroke="#fff" stroke-width="1.2"/>
<text x="924.0" y="596.3" font-size="24" stroke="#000">0.01</text>
<text x="891.0" y="484.5" font-size="24" stroke="#000"><tspan font-style="italic">P</tspan> Value</text>
<text x="891.0" y="694.0" font-size="24" stroke="#000">Count</text>
<circle cx="911.7" cy="717.9" r="11.4" fill="#000"/>
<text x="941.0" y="726.8" font-size="23.5" stroke="#000">5</text>
<circle cx="911.7" cy="750.8" r="14.6" fill="#000"/>
<text x="936.5" y="767.3" font-size="23.5" stroke="#000">10</text>
<circle cx="911.7" cy="789.2" r="16.6" fill="#000"/>
<text x="936.5" y="807.6" font-size="23.5" stroke="#000">15</text>
<circle cx="911.7" cy="831.0" r="18.3" fill="#000"/>
<text x="936.5" y="848.6" font-size="23.5" stroke="#000">20</text>
<circle cx="911.7" cy="878.7" r="19.2" fill="#000"/>
<text x="936.5" y="889.0" font-size="23.5" stroke="#000">25</text>
<text x="941.5" y="0.0" font-size="1" stroke="#000"></text>
<line x1="1515.4" y1="483.8" x2="1515.4" y2="865.7" stroke="#e6e6e6" stroke-width="1.3"/>
<line x1="1557.0" y1="483.8" x2="1557.0" y2="865.7" stroke="#e6e6e6" stroke-width="1.3"/>
<line x1="1598.2" y1="483.8" x2="1598.2" y2="865.7" stroke="#e6e6e6" stroke-width="1.3"/>
<line x1="1639.7" y1="483.8" x2="1639.7" y2="865.7" stroke="#e6e6e6" stroke-width="1.3"/>
<line x1="1681.2" y1="483.8" x2="1681.2" y2="865.7" stroke="#e6e6e6" stroke-width="1.3"/>
<line x1="1723.0" y1="483.8" x2="1723.0" y2="865.7" stroke="#e6e6e6" stroke-width="1.3"/>
<line x1="1764.6" y1="483.8" x2="1764.6" y2="865.7" stroke="#e6e6e6" stroke-width="1.3"/>
<line x1="1806.4" y1="483.8" x2="1806.4" y2="865.7" stroke="#e6e6e6" stroke-width="1.3"/>
<line x1="1503.8" y1="501.4" x2="1813.3" y2="501.4" stroke="#e6e6e6" stroke-width="1.3"/>
<line x1="1503.8" y1="533.0" x2="1813.3" y2="533.0" stroke="#e6e6e6" stroke-width="1.3"/>
<line x1="1503.8" y1="564.7" x2="1813.3" y2="564.7" stroke="#e6e6e6" stroke-width="1.3"/>
<line x1="1503.8" y1="596.3" x2="1813.3" y2="596.3" stroke="#e6e6e6" stroke-width="1.3"/>
<line x1="1503.8" y1="628.0" x2="1813.3" y2="628.0" stroke="#e6e6e6" stroke-width="1.3"/>
<line x1="1503.8" y1="659.6" x2="1813.3" y2="659.6" stroke="#e6e6e6" stroke-width="1.3"/>
<line x1="1503.8" y1="691.2" x2="1813.3" y2="691.2" stroke="#e6e6e6" stroke-width="1.3"/>
<line x1="1503.8" y1="722.9" x2="1813.3" y2="722.9" stroke="#e6e6e6" stroke-width="1.3"/>
<line x1="1503.8" y1="754.5" x2="1813.3" y2="754.5" stroke="#e6e6e6" stroke-width="1.3"/>
<line x1="1503.8" y1="786.2" x2="1813.3" y2="786.2" stroke="#e6e6e6" stroke-width="1.3"/>
<line x1="1503.8" y1="817.8" x2="1813.3" y2="817.8" stroke="#e6e6e6" stroke-width="1.3"/>
<line x1="1503.8" y1="849.4" x2="1813.3" y2="849.4" stroke="#e6e6e6" stroke-width="1.3"/>
<g clip-path="url(#clipG)">
<circle cx="1799.9" cy="501.5" r="17.5" fill="#7bcf3a" stroke="#69c52c" stroke-width="1"/>
<circle cx="1701.0" cy="532.9" r="17.4" fill="#7bcf3a" stroke="#69c52c" stroke-width="1"/>
<circle cx="1601.6" cy="564.5" r="14.7" fill="#7bcf3a" stroke="#69c52c" stroke-width="1"/>
<circle cx="1686.9" cy="596.2" r="17.1" fill="#7bcf3a" stroke="#69c52c" stroke-width="1"/>
<circle cx="1786.0" cy="627.5" r="19.5" fill="#7bcf3a" stroke="#69c52c" stroke-width="1"/>
<circle cx="1516.0" cy="659.2" r="8.6" fill="#7bcf3a" stroke="#69c52c" stroke-width="1"/>
<circle cx="1516.0" cy="690.8" r="8.6" fill="#7bcf3a" stroke="#69c52c" stroke-width="1"/>
<circle cx="1530.7" cy="722.4" r="11.0" fill="#7bcf3a" stroke="#69c52c" stroke-width="1"/>
<circle cx="1544.5" cy="753.8" r="12.1" fill="#7bcf3a" stroke="#69c52c" stroke-width="1"/>
<circle cx="1516.0" cy="785.4" r="8.6" fill="#88d444" stroke="#78cc34" stroke-width="1"/>
<circle cx="1516.0" cy="816.8" r="8.6" fill="#88d444" stroke="#78cc34" stroke-width="1"/>
<circle cx="1516.0" cy="848.4" r="8.6" fill="#e4432f" stroke="#df3322" stroke-width="1"/>
</g>
<rect x="1502.8" y="482.8" width="311.5" height="383.9" fill="none" stroke="#333" stroke-width="1.3"/>
<line x1="1497.0" y1="501.4" x2="1502.8" y2="501.4" stroke="#333" stroke-width="1.3"/>
<text x="1494.3" y="508.7" font-size="24" text-anchor="end" stroke="#000">RNA splicing</text>
<line x1="1497.0" y1="533.0" x2="1502.8" y2="533.0" stroke="#333" stroke-width="1.3"/>
<text x="1494.3" y="540.3" font-size="24" text-anchor="end" stroke="#000">Ribonucleoprotein complex</text>
<line x1="1497.0" y1="564.7" x2="1502.8" y2="564.7" stroke="#333" stroke-width="1.3"/>
<text x="1494.3" y="572.0" font-size="24" text-anchor="end" stroke="#000">Helicase activity</text>
<line x1="1497.0" y1="596.3" x2="1502.8" y2="596.3" stroke="#333" stroke-width="1.3"/>
<text x="1494.3" y="603.6" font-size="24" text-anchor="end" stroke="#000">Oxidoreductase activity</text>
<line x1="1497.0" y1="628.0" x2="1502.8" y2="628.0" stroke="#333" stroke-width="1.3"/>
<text x="1494.3" y="635.3" font-size="24" text-anchor="end" stroke="#000">Hydrolase activity</text>
<line x1="1497.0" y1="659.6" x2="1502.8" y2="659.6" stroke="#333" stroke-width="1.3"/>
<text x="1494.3" y="666.9" font-size="24" text-anchor="end" stroke="#000">DNA damage</text>
<line x1="1497.0" y1="691.2" x2="1502.8" y2="691.2" stroke="#333" stroke-width="1.3"/>
<text x="1494.3" y="698.5" font-size="24" text-anchor="end" stroke="#000">mRNA catabolic process</text>
<line x1="1497.0" y1="722.9" x2="1502.8" y2="722.9" stroke="#333" stroke-width="1.3"/>
<text x="1494.3" y="730.2" font-size="24" text-anchor="end" stroke="#000">Negative regulation of translation</text>
<line x1="1497.0" y1="754.5" x2="1502.8" y2="754.5" stroke="#333" stroke-width="1.3"/>
<text x="1494.3" y="761.8" font-size="24" text-anchor="end" stroke="#000">Necroptosis</text>
<line x1="1497.0" y1="786.2" x2="1502.8" y2="786.2" stroke="#333" stroke-width="1.3"/>
<text x="1494.3" y="793.5" font-size="24" text-anchor="end" stroke="#000">Glutathione metabolism</text>
<line x1="1497.0" y1="817.8" x2="1502.8" y2="817.8" stroke="#333" stroke-width="1.3"/>
<text x="1494.3" y="825.1" font-size="24" text-anchor="end" stroke="#000">Cellular response to oxidative stress</text>
<line x1="1497.0" y1="849.4" x2="1502.8" y2="849.4" stroke="#333" stroke-width="1.3"/>
<text x="1494.3" y="856.7" font-size="24" text-anchor="end" stroke="#000">Apoptosis</text>
<line x1="1557.0" y1="866.7" x2="1557.0" y2="871.7" stroke="#333" stroke-width="1.3"/>
<line x1="1639.7" y1="866.7" x2="1639.7" y2="871.7" stroke="#333" stroke-width="1.3"/>
<line x1="1723.0" y1="866.7" x2="1723.0" y2="871.7" stroke="#333" stroke-width="1.3"/>
<line x1="1806.4" y1="866.7" x2="1806.4" y2="871.7" stroke="#333" stroke-width="1.3"/>
<text x="1631.0" y="898.5" font-size="23.5" text-anchor="middle" stroke="#000">0.03</text>
<text x="1788.0" y="898.5" font-size="23.5" text-anchor="middle" stroke="#000">0.09</text>
<rect x="1843.0" y="503.8" width="29.8" height="148.9" fill="url(#clipGg)"/>
<line x1="1843.0" y1="549.8" x2="1848.0" y2="549.8" stroke="#fff" stroke-width="1.2"/>
<line x1="1867.8" y1="549.8" x2="1872.8" y2="549.8" stroke="#fff" stroke-width="1.2"/>
<text x="1879.5" y="562.9" font-size="24" stroke="#000">0.02</text>
<line x1="1843.0" y1="601.2" x2="1848.0" y2="601.2" stroke="#fff" stroke-width="1.2"/>
<line x1="1867.8" y1="601.2" x2="1872.8" y2="601.2" stroke="#fff" stroke-width="1.2"/>
<text x="1879.5" y="612.3" font-size="24" stroke="#000">0.01</text>
<text x="1846.0" y="495.3" font-size="24" stroke="#000"><tspan font-style="italic">P</tspan> Value</text>
<text x="1841.7" y="708.0" font-size="24" stroke="#000">Count</text>
<circle cx="1866.6" cy="730.4" r="12.1" fill="#000"/>
<text x="1898.5" y="745.1" font-size="23.5" stroke="#000">5</text>
<circle cx="1866.6" cy="763.7" r="15.5" fill="#000"/>
<text x="1894.0" y="784.7" font-size="23.5" stroke="#000">10</text>
<circle cx="1866.6" cy="803.2" r="17.4" fill="#000"/>
<text x="1894.0" y="824.3" font-size="23.5" stroke="#000">15</text>
<circle cx="1866.6" cy="847.6" r="19.1" fill="#000"/>
<text x="1894.0" y="864.3" font-size="23.5" stroke="#000">20</text>
<g shape-rendering="crispEdges"><rect x="116.40" y="1061.40" width="27.22" height="22.87" fill="#df8689"/><rect x="143.32" y="1061.40" width="27.22" height="22.87" fill="#db6c70"/><rect x="170.24" y="1061.40" width="27.22" height="22.87" fill="#e3a0a3"/><rect x="197.16" y="1061.40" width="27.22" height="22.87" fill="#e9b8ba"/><rect x="224.08" y="1061.40" width="27.22" height="22.87" fill="#db6c70"/><rect x="251.00" y="1061.40" width="27.22" height="22.87" fill="#d95e61"/><rect x="277.92" y="1061.40" width="27.22" height="22.87" fill="#e19396"/><rect x="304.84" y="1061.40" width="27.22" height="22.87" fill="#d95e61"/><rect x="331.76" y="1061.40" width="27.22" height="22.87" fill="#e9b8ba"/><rect x="358.68" y="1061.40" width="27.22" height="22.87" fill="#edcacc"/><rect x="385.60" y="1061.40" width="27.22" height="22.87" fill="#e3a0a3"/><rect x="412.52" y="1061.40" width="27.22" height="22.87" fill="#dd797c"/><rect x="439.44" y="1061.40" width="27.22" height="22.87" fill="#e19396"/><rect x="466.36" y="1061.40" width="27.22" height="22.87" fill="#dd797c"/><rect x="493.28" y="1061.40" width="27.22" height="22.87" fill="#f4e1e3"/><rect x="520.20" y="1061.40" width="27.22" height="22.87" fill="#da6165"/><rect x="547.12" y="1061.40" width="27.22" height="22.87" fill="#e9b8ba"/><rect x="574.04" y="1061.40" width="27.22" height="22.87" fill="#d74848"/><rect x="600.96" y="1061.40" width="27.22" height="22.87" fill="#edcacc"/><rect x="627.88" y="1061.40" width="27.22" height="22.87" fill="#e3a0a3"/><rect x="654.80" y="1061.40" width="27.22" height="22.87" fill="#d95e61"/><rect x="681.72" y="1061.40" width="27.22" height="22.87" fill="#db6c70"/><rect x="708.64" y="1061.40" width="27.22" height="22.87" fill="#da6569"/><rect x="735.56" y="1061.40" width="27.22" height="22.87" fill="#da6569"/><rect x="762.48" y="1061.40" width="27.22" height="22.87" fill="#edcacc"/><rect x="789.40" y="1061.40" width="27.22" height="22.87" fill="#d95e61"/><rect x="816.32" y="1061.40" width="27.22" height="22.87" fill="#dd797c"/><rect x="843.24" y="1061.40" width="27.22" height="22.87" fill="#db6c70"/><rect x="870.16" y="1061.40" width="27.22" height="22.87" fill="#d95b5e"/><rect x="897.08" y="1061.40" width="27.22" height="22.87" fill="#d84e4f"/><rect x="924.00" y="1061.40" width="27.22" height="22.87" fill="#d74644"/><rect x="950.92" y="1061.40" width="27.22" height="22.87" fill="#db6c70"/><rect x="977.84" y="1061.40" width="27.22" height="22.87" fill="#db6c70"/><rect x="1004.76" y="1061.40" width="27.22" height="22.87" fill="#edcacc"/><rect x="1031.68" y="1061.40" width="27.22" height="22.87" fill="#fdf9f9"/><rect x="1058.60" y="1061.40" width="27.22" height="22.87" fill="#dc7276"/><rect x="1085.52" y="1061.40" width="27.22" height="22.87" fill="#e2999c"/><rect x="1112.44" y="1061.40" width="27.22" height="22.87" fill="#e19396"/><rect x="1139.36" y="1061.40" width="27.22" height="22.87" fill="#dd797c"/><rect x="1166.28" y="1061.40" width="27.22" height="22.87" fill="#eabec0"/><rect x="1193.20" y="1061.40" width="27.22" height="22.87" fill="#d84e4f"/><rect x="1220.12" y="1061.40" width="27.22" height="22.87" fill="#e08c90"/><rect x="1247.04" y="1061.40" width="27.22" height="22.87" fill="#e9b8ba"/><rect x="1273.96" y="1061.40" width="27.22" height="22.87" fill="#e19396"/><rect x="1300.88" y="1061.40" width="27.22" height="22.87" fill="#db6c70"/><rect x="1327.80" y="1061.40" width="27.22" height="22.87" fill="#e19396"/><rect x="1354.72" y="1061.40" width="27.22" height="22.87" fill="#db6c70"/><rect x="1381.64" y="1061.40" width="27.22" height="22.87" fill="#d95b5e"/><rect x="1408.56" y="1061.40" width="27.22" height="22.87" fill="#e2999c"/><rect x="1435.48" y="1061.40" width="27.22" height="22.87" fill="#db6c70"/><rect x="1462.40" y="1061.40" width="27.22" height="22.87" fill="#d85557"/><rect x="1489.32" y="1061.40" width="27.22" height="22.87" fill="#e2999c"/><rect x="1516.24" y="1061.40" width="27.22" height="22.87" fill="#da6569"/><rect x="1543.16" y="1061.40" width="27.22" height="22.87" fill="#da6165"/><rect x="1570.08" y="1061.40" width="27.22" height="22.87" fill="#eabec0"/><rect x="1597.00" y="1061.40" width="27.22" height="22.87" fill="#e7b2b4"/><rect x="1623.92" y="1061.40" width="27.22" height="22.87" fill="#de7f83"/><rect x="1650.84" y="1061.40" width="27.22" height="22.87" fill="#f2dbdd"/><rect x="1677.76" y="1061.40" width="27.22" height="22.87" fill="#f0d6d7"/><rect x="1704.68" y="1061.40" width="27.22" height="22.87" fill="#dd797c"/><rect x="1731.60" y="1061.40" width="27.22" height="22.87" fill="#dd797c"/><rect x="1758.52" y="1061.40" width="27.22" height="22.87" fill="#df8689"/><rect x="1785.44" y="1061.40" width="27.22" height="22.87" fill="#df8689"/><rect x="1812.36" y="1061.40" width="27.22" height="22.87" fill="#df8689"/><rect x="1839.28" y="1061.40" width="27.22" height="22.87" fill="#da6165"/><rect x="1866.20" y="1061.40" width="27.22" height="22.87" fill="#f2dbdd"/><rect x="1893.12" y="1061.40" width="27.22" height="22.87" fill="#dd797c"/><rect x="116.40" y="1083.97" width="27.22" height="22.87" fill="#df8689"/><rect x="143.32" y="1083.97" width="27.22" height="22.87" fill="#d95b5e"/><rect x="170.24" y="1083.97" width="27.22" height="22.87" fill="#e3a0a3"/><rect x="197.16" y="1083.97" width="27.22" height="22.87" fill="#db6c70"/><rect x="224.08" y="1083.97" width="27.22" height="22.87" fill="#e9b8ba"/><rect x="251.00" y="1083.97" width="27.22" height="22.87" fill="#f0d6d7"/><rect x="277.92" y="1083.97" width="27.22" height="22.87" fill="#f0d6d7"/><rect x="304.84" y="1083.97" width="27.22" height="22.87" fill="#df8689"/><rect x="331.76" y="1083.97" width="27.22" height="22.87" fill="#d85557"/><rect x="358.68" y="1083.97" width="27.22" height="22.87" fill="#d85557"/><rect x="385.60" y="1083.97" width="27.22" height="22.87" fill="#d95e61"/><rect x="412.52" y="1083.97" width="27.22" height="22.87" fill="#db6c70"/><rect x="439.44" y="1083.97" width="27.22" height="22.87" fill="#d85557"/><rect x="466.36" y="1083.97" width="27.22" height="22.87" fill="#df8689"/><rect x="493.28" y="1083.97" width="27.22" height="22.87" fill="#d74341"/><rect x="520.20" y="1083.97" width="27.22" height="22.87" fill="#d9585a"/><rect x="547.12" y="1083.97" width="27.22" height="22.87" fill="#df8689"/><rect x="574.04" y="1083.97" width="27.22" height="22.87" fill="#dcddef"/><rect x="600.96" y="1083.97" width="27.22" height="22.87" fill="#da6165"/><rect x="627.88" y="1083.97" width="27.22" height="22.87" fill="#e3a0a3"/><rect x="654.80" y="1083.97" width="27.22" height="22.87" fill="#e19396"/><rect x="681.72" y="1083.97" width="27.22" height="22.87" fill="#dd797c"/><rect x="708.64" y="1083.97" width="27.22" height="22.87" fill="#dd797c"/><rect x="735.56" y="1083.97" width="27.22" height="22.87" fill="#e2999c"/><rect x="762.48" y="1083.97" width="27.22" height="22.87" fill="#d95b5e"/><rect x="789.40" y="1083.97" width="27.22" height="22.87" fill="#e19396"/><rect x="816.32" y="1083.97" width="27.22" height="22.87" fill="#e4a6a8"/><rect x="843.24" y="1083.97" width="27.22" height="22.87" fill="#eabec0"/><rect x="870.16" y="1083.97" width="27.22" height="22.87" fill="#dc7276"/><rect x="897.08" y="1083.97" width="27.22" height="22.87" fill="#e4a6a8"/><rect x="924.00" y="1083.97" width="27.22" height="22.87" fill="#e8e8f4"/><rect x="950.92" y="1083.97" width="27.22" height="22.87" fill="#e7b2b4"/><rect x="977.84" y="1083.97" width="27.22" height="22.87" fill="#dd797c"/><rect x="1004.76" y="1083.97" width="27.22" height="22.87" fill="#e3a0a3"/><rect x="1031.68" y="1083.97" width="27.22" height="22.87" fill="#d95e61"/><rect x="1058.60" y="1083.97" width="27.22" height="22.87" fill="#e19396"/><rect x="1085.52" y="1083.97" width="27.22" height="22.87" fill="#e4a6a8"/><rect x="1112.44" y="1083.97" width="27.22" height="22.87" fill="#e4a6a8"/><rect x="1139.36" y="1083.97" width="27.22" height="22.87" fill="#e19396"/><rect x="1166.28" y="1083.97" width="27.22" height="22.87" fill="#d9585a"/><rect x="1193.20" y="1083.97" width="27.22" height="22.87" fill="#f0d6d7"/><rect x="1220.12" y="1083.97" width="27.22" height="22.87" fill="#e4a6a8"/><rect x="1247.04" y="1083.97" width="27.22" height="22.87" fill="#e19396"/><rect x="1273.96" y="1083.97" width="27.22" height="22.87" fill="#df8689"/><rect x="1300.88" y="1083.97" width="27.22" height="22.87" fill="#e2999c"/><rect x="1327.80" y="1083.97" width="27.22" height="22.87" fill="#eabec0"/><rect x="1354.72" y="1083.97" width="27.22" height="22.87" fill="#e2999c"/><rect x="1381.64" y="1083.97" width="27.22" height="22.87" fill="#e3a0a3"/><rect x="1408.56" y="1083.97" width="27.22" height="22.87" fill="#f2dbdd"/><rect x="1435.48" y="1083.97" width="27.22" height="22.87" fill="#eed0d2"/><rect x="1462.40" y="1083.97" width="27.22" height="22.87" fill="#f4e1e3"/><rect x="1489.32" y="1083.97" width="27.22" height="22.87" fill="#dd797c"/><rect x="1516.24" y="1083.97" width="27.22" height="22.87" fill="#eabec0"/><rect x="1543.16" y="1083.97" width="27.22" height="22.87" fill="#eabec0"/><rect x="1570.08" y="1083.97" width="27.22" height="22.87" fill="#da6165"/><rect x="1597.00" y="1083.97" width="27.22" height="22.87" fill="#d84e4f"/><rect x="1623.92" y="1083.97" width="27.22" height="22.87" fill="#e7b2b4"/><rect x="1650.84" y="1083.97" width="27.22" height="22.87" fill="#e19396"/><rect x="1677.76" y="1083.97" width="27.22" height="22.87" fill="#e19396"/><rect x="1704.68" y="1083.97" width="27.22" height="22.87" fill="#e4a6a8"/><rect x="1731.60" y="1083.97" width="27.22" height="22.87" fill="#e6acae"/><rect x="1758.52" y="1083.97" width="27.22" height="22.87" fill="#e2999c"/><rect x="1785.44" y="1083.97" width="27.22" height="22.87" fill="#e4a6a8"/><rect x="1812.36" y="1083.97" width="27.22" height="22.87" fill="#dd797c"/><rect x="1839.28" y="1083.97" width="27.22" height="22.87" fill="#f2dbdd"/><rect x="1866.20" y="1083.97" width="27.22" height="22.87" fill="#d95b5e"/><rect x="1893.12" y="1083.97" width="27.22" height="22.87" fill="#e2999c"/><rect x="116.40" y="1106.54" width="27.22" height="22.87" fill="#db6c70"/><rect x="143.32" y="1106.54" width="27.22" height="22.87" fill="#ecc4c6"/><rect x="170.24" y="1106.54" width="27.22" height="22.87" fill="#d95b5e"/><rect x="197.16" y="1106.54" width="27.22" height="22.87" fill="#db6c70"/><rect x="224.08" y="1106.54" width="27.22" height="22.87" fill="#db6c70"/><rect x="251.00" y="1106.54" width="27.22" height="22.87" fill="#db6c70"/><rect x="277.92" y="1106.54" width="27.22" height="22.87" fill="#d85557"/><rect x="304.84" y="1106.54" width="27.22" height="22.87" fill="#e9b8ba"/><rect x="331.76" y="1106.54" width="27.22" height="22.87" fill="#e19396"/><rect x="358.68" y="1106.54" width="27.22" height="22.87" fill="#dd797c"/><rect x="385.60" y="1106.54" width="27.22" height="22.87" fill="#e2999c"/><rect x="412.52" y="1106.54" width="27.22" height="22.87" fill="#e3a0a3"/><rect x="439.44" y="1106.54" width="27.22" height="22.87" fill="#f9edee"/><rect x="466.36" y="1106.54" width="27.22" height="22.87" fill="#e19396"/><rect x="493.28" y="1106.54" width="27.22" height="22.87" fill="#e9b8ba"/><rect x="520.20" y="1106.54" width="27.22" height="22.87" fill="#fdf9f9"/><rect x="547.12" y="1106.54" width="27.22" height="22.87" fill="#db6c70"/><rect x="574.04" y="1106.54" width="27.22" height="22.87" fill="#dc7276"/><rect x="600.96" y="1106.54" width="27.22" height="22.87" fill="#dc7276"/><rect x="627.88" y="1106.54" width="27.22" height="22.87" fill="#d95e61"/><rect x="654.80" y="1106.54" width="27.22" height="22.87" fill="#e3a0a3"/><rect x="681.72" y="1106.54" width="27.22" height="22.87" fill="#e4a6a8"/><rect x="708.64" y="1106.54" width="27.22" height="22.87" fill="#e9b8ba"/><rect x="735.56" y="1106.54" width="27.22" height="22.87" fill="#e3a0a3"/><rect x="762.48" y="1106.54" width="27.22" height="22.87" fill="#db6c70"/><rect x="789.40" y="1106.54" width="27.22" height="22.87" fill="#eabec0"/><rect x="816.32" y="1106.54" width="27.22" height="22.87" fill="#de7f83"/><rect x="843.24" y="1106.54" width="27.22" height="22.87" fill="#e2999c"/><rect x="870.16" y="1106.54" width="27.22" height="22.87" fill="#fbf3f4"/><rect x="897.08" y="1106.54" width="27.22" height="22.87" fill="#ecc4c6"/><rect x="924.00" y="1106.54" width="27.22" height="22.87" fill="#df8689"/><rect x="950.92" y="1106.54" width="27.22" height="22.87" fill="#df8689"/><rect x="977.84" y="1106.54" width="27.22" height="22.87" fill="#e6acae"/><rect x="1004.76" y="1106.54" width="27.22" height="22.87" fill="#d84e4f"/><rect x="1031.68" y="1106.54" width="27.22" height="22.87" fill="#da6165"/><rect x="1058.60" y="1106.54" width="27.22" height="22.87" fill="#df8689"/><rect x="1085.52" y="1106.54" width="27.22" height="22.87" fill="#d95e61"/><rect x="1112.44" y="1106.54" width="27.22" height="22.87" fill="#df8689"/><rect x="1139.36" y="1106.54" width="27.22" height="22.87" fill="#eabec0"/><rect x="1166.28" y="1106.54" width="27.22" height="22.87" fill="#e2999c"/><rect x="1193.20" y="1106.54" width="27.22" height="22.87" fill="#e2999c"/><rect x="1220.12" y="1106.54" width="27.22" height="22.87" fill="#e2999c"/><rect x="1247.04" y="1106.54" width="27.22" height="22.87" fill="#d95b5e"/><rect x="1273.96" y="1106.54" width="27.22" height="22.87" fill="#df8689"/><rect x="1300.88" y="1106.54" width="27.22" height="22.87" fill="#df8689"/><rect x="1327.80" y="1106.54" width="27.22" height="22.87" fill="#d95e61"/><rect x="1354.72" y="1106.54" width="27.22" height="22.87" fill="#e3a0a3"/><rect x="1381.64" y="1106.54" width="27.22" height="22.87" fill="#e3a0a3"/><rect x="1408.56" y="1106.54" width="27.22" height="22.87" fill="#d85557"/><rect x="1435.48" y="1106.54" width="27.22" height="22.87" fill="#dd797c"/><rect x="1462.40" y="1106.54" width="27.22" height="22.87" fill="#dd797c"/><rect x="1489.32" y="1106.54" width="27.22" height="22.87" fill="#df8689"/><rect x="1516.24" y="1106.54" width="27.22" height="22.87" fill="#dd797c"/><rect x="1543.16" y="1106.54" width="27.22" height="22.87" fill="#de7f83"/><rect x="1570.08" y="1106.54" width="27.22" height="22.87" fill="#de7f83"/><rect x="1597.00" y="1106.54" width="27.22" height="22.87" fill="#eed0d2"/><rect x="1623.92" y="1106.54" width="27.22" height="22.87" fill="#de7f83"/><rect x="1650.84" y="1106.54" width="27.22" height="22.87" fill="#d95b5e"/><rect x="1677.76" y="1106.54" width="27.22" height="22.87" fill="#d85253"/><rect x="1704.68" y="1106.54" width="27.22" height="22.87" fill="#df8689"/><rect x="1731.60" y="1106.54" width="27.22" height="22.87" fill="#de7f83"/><rect x="1758.52" y="1106.54" width="27.22" height="22.87" fill="#de7f83"/><rect x="1785.44" y="1106.54" width="27.22" height="22.87" fill="#e2999c"/><rect x="1812.36" y="1106.54" width="27.22" height="22.87" fill="#e2999c"/><rect x="1839.28" y="1106.54" width="27.22" height="22.87" fill="#d95e61"/><rect x="1866.20" y="1106.54" width="27.22" height="22.87" fill="#db6c70"/><rect x="1893.12" y="1106.54" width="27.22" height="22.87" fill="#e08c90"/><rect x="116.40" y="1129.11" width="27.22" height="22.87" fill="#6a73b5"/><rect x="143.32" y="1129.11" width="27.22" height="22.87" fill="#8187bf"/><rect x="170.24" y="1129.11" width="27.22" height="22.87" fill="#747bba"/><rect x="197.16" y="1129.11" width="27.22" height="22.87" fill="#747bba"/><rect x="224.08" y="1129.11" width="27.22" height="22.87" fill="#6a73b5"/><rect x="251.00" y="1129.11" width="27.22" height="22.87" fill="#6a73b5"/><rect x="277.92" y="1129.11" width="27.22" height="22.87" fill="#bcbedc"/><rect x="304.84" y="1129.11" width="27.22" height="22.87" fill="#d6d7ec"/><rect x="331.76" y="1129.11" width="27.22" height="22.87" fill="#9b9eca"/><rect x="358.68" y="1129.11" width="27.22" height="22.87" fill="#9b9eca"/><rect x="385.60" y="1129.11" width="27.22" height="22.87" fill="#6a73b5"/><rect x="412.52" y="1129.11" width="27.22" height="22.87" fill="#8187bf"/><rect x="439.44" y="1129.11" width="27.22" height="22.87" fill="#505dab"/><rect x="466.36" y="1129.11" width="27.22" height="22.87" fill="#a1a4cd"/><rect x="493.28" y="1129.11" width="27.22" height="22.87" fill="#a8aad0"/><rect x="520.20" y="1129.11" width="27.22" height="22.87" fill="#8e93c5"/><rect x="547.12" y="1129.11" width="27.22" height="22.87" fill="#9b9eca"/><rect x="574.04" y="1129.11" width="27.22" height="22.87" fill="#cccde6"/><rect x="600.96" y="1129.11" width="27.22" height="22.87" fill="#bcbedc"/><rect x="627.88" y="1129.11" width="27.22" height="22.87" fill="#747bba"/><rect x="654.80" y="1129.11" width="27.22" height="22.87" fill="#7a81bc"/><rect x="681.72" y="1129.11" width="27.22" height="22.87" fill="#7a81bc"/><rect x="708.64" y="1129.11" width="27.22" height="22.87" fill="#7a81bc"/><rect x="735.56" y="1129.11" width="27.22" height="22.87" fill="#5964ae"/><rect x="762.48" y="1129.11" width="27.22" height="22.87" fill="#9b9eca"/><rect x="789.40" y="1129.11" width="27.22" height="22.87" fill="#505dab"/><rect x="816.32" y="1129.11" width="27.22" height="22.87" fill="#6a73b5"/><rect x="843.24" y="1129.11" width="27.22" height="22.87" fill="#4756a6"/><rect x="870.16" y="1129.11" width="27.22" height="22.87" fill="#4c59a9"/><rect x="897.08" y="1129.11" width="27.22" height="22.87" fill="#6a73b5"/><rect x="924.00" y="1129.11" width="27.22" height="22.87" fill="#c7c8e3"/><rect x="950.92" y="1129.11" width="27.22" height="22.87" fill="#616cb2"/><rect x="977.84" y="1129.11" width="27.22" height="22.87" fill="#616cb2"/><rect x="1004.76" y="1129.11" width="27.22" height="22.87" fill="#b7b9d9"/><rect x="1031.68" y="1129.11" width="27.22" height="22.87" fill="#c7c8e3"/><rect x="1058.60" y="1129.11" width="27.22" height="22.87" fill="#616cb2"/><rect x="1085.52" y="1129.11" width="27.22" height="22.87" fill="#747bba"/><rect x="1112.44" y="1129.11" width="27.22" height="22.87" fill="#c2c3e0"/><rect x="1139.36" y="1129.11" width="27.22" height="22.87" fill="#b7b9d9"/><rect x="1166.28" y="1129.11" width="27.22" height="22.87" fill="#6a73b5"/><rect x="1193.20" y="1129.11" width="27.22" height="22.87" fill="#8e93c5"/><rect x="1220.12" y="1129.11" width="27.22" height="22.87" fill="#666fb4"/><rect x="1247.04" y="1129.11" width="27.22" height="22.87" fill="#878dc2"/><rect x="1273.96" y="1129.11" width="27.22" height="22.87" fill="#b2b4d6"/><rect x="1300.88" y="1129.11" width="27.22" height="22.87" fill="#878dc2"/><rect x="1327.80" y="1129.11" width="27.22" height="22.87" fill="#bcbedc"/><rect x="1354.72" y="1129.11" width="27.22" height="22.87" fill="#9499c8"/><rect x="1381.64" y="1129.11" width="27.22" height="22.87" fill="#9499c8"/><rect x="1408.56" y="1129.11" width="27.22" height="22.87" fill="#505dab"/><rect x="1435.48" y="1129.11" width="27.22" height="22.87" fill="#d6d7ec"/><rect x="1462.40" y="1129.11" width="27.22" height="22.87" fill="#878dc2"/><rect x="1489.32" y="1129.11" width="27.22" height="22.87" fill="#7a81bc"/><rect x="1516.24" y="1129.11" width="27.22" height="22.87" fill="#5964ae"/><rect x="1543.16" y="1129.11" width="27.22" height="22.87" fill="#747bba"/><rect x="1570.08" y="1129.11" width="27.22" height="22.87" fill="#747bba"/><rect x="1597.00" y="1129.11" width="27.22" height="22.87" fill="#a1a4cd"/><rect x="1623.92" y="1129.11" width="27.22" height="22.87" fill="#dcddef"/><rect x="1650.84" y="1129.11" width="27.22" height="22.87" fill="#cccde6"/><rect x="1677.76" y="1129.11" width="27.22" height="22.87" fill="#8187bf"/><rect x="1704.68" y="1129.11" width="27.22" height="22.87" fill="#747bba"/><rect x="1731.60" y="1129.11" width="27.22" height="22.87" fill="#747bba"/><rect x="1758.52" y="1129.11" width="27.22" height="22.87" fill="#9b9eca"/><rect x="1785.44" y="1129.11" width="27.22" height="22.87" fill="#616cb2"/><rect x="1812.36" y="1129.11" width="27.22" height="22.87" fill="#6e77b7"/><rect x="1839.28" y="1129.11" width="27.22" height="22.87" fill="#6e77b7"/><rect x="1866.20" y="1129.11" width="27.22" height="22.87" fill="#5d68b0"/><rect x="1893.12" y="1129.11" width="27.22" height="22.87" fill="#e2e2f1"/><rect x="116.40" y="1151.68" width="27.22" height="22.87" fill="#9b9eca"/><rect x="143.32" y="1151.68" width="27.22" height="22.87" fill="#8187bf"/><rect x="170.24" y="1151.68" width="27.22" height="22.87" fill="#747bba"/><rect x="197.16" y="1151.68" width="27.22" height="22.87" fill="#9b9eca"/><rect x="224.08" y="1151.68" width="27.22" height="22.87" fill="#747bba"/><rect x="251.00" y="1151.68" width="27.22" height="22.87" fill="#a8aad0"/><rect x="277.92" y="1151.68" width="27.22" height="22.87" fill="#cccde6"/><rect x="304.84" y="1151.68" width="27.22" height="22.87" fill="#505dab"/><rect x="331.76" y="1151.68" width="27.22" height="22.87" fill="#616cb2"/><rect x="358.68" y="1151.68" width="27.22" height="22.87" fill="#505dab"/><rect x="385.60" y="1151.68" width="27.22" height="22.87" fill="#666fb4"/><rect x="412.52" y="1151.68" width="27.22" height="22.87" fill="#747bba"/><rect x="439.44" y="1151.68" width="27.22" height="22.87" fill="#b7b9d9"/><rect x="466.36" y="1151.68" width="27.22" height="22.87" fill="#8e93c5"/><rect x="493.28" y="1151.68" width="27.22" height="22.87" fill="#747bba"/><rect x="520.20" y="1151.68" width="27.22" height="22.87" fill="#b7b9d9"/><rect x="547.12" y="1151.68" width="27.22" height="22.87" fill="#6a73b5"/><rect x="574.04" y="1151.68" width="27.22" height="22.87" fill="#878dc2"/><rect x="600.96" y="1151.68" width="27.22" height="22.87" fill="#a8aad0"/><rect x="627.88" y="1151.68" width="27.22" height="22.87" fill="#d6d7ec"/><rect x="654.80" y="1151.68" width="27.22" height="22.87" fill="#8e93c5"/><rect x="681.72" y="1151.68" width="27.22" height="22.87" fill="#a1a4cd"/><rect x="708.64" y="1151.68" width="27.22" height="22.87" fill="#6a73b5"/><rect x="735.56" y="1151.68" width="27.22" height="22.87" fill="#9b9eca"/><rect x="762.48" y="1151.68" width="27.22" height="22.87" fill="#7a81bc"/><rect x="789.40" y="1151.68" width="27.22" height="22.87" fill="#adafd3"/><rect x="816.32" y="1151.68" width="27.22" height="22.87" fill="#747bba"/><rect x="843.24" y="1151.68" width="27.22" height="22.87" fill="#6a73b5"/><rect x="870.16" y="1151.68" width="27.22" height="22.87" fill="#b7b9d9"/><rect x="897.08" y="1151.68" width="27.22" height="22.87" fill="#b7b9d9"/><rect x="924.00" y="1151.68" width="27.22" height="22.87" fill="#c2c3e0"/><rect x="950.92" y="1151.68" width="27.22" height="22.87" fill="#bcbedc"/><rect x="977.84" y="1151.68" width="27.22" height="22.87" fill="#7a81bc"/><rect x="1004.76" y="1151.68" width="27.22" height="22.87" fill="#747bba"/><rect x="1031.68" y="1151.68" width="27.22" height="22.87" fill="#8e93c5"/><rect x="1058.60" y="1151.68" width="27.22" height="22.87" fill="#a1a4cd"/><rect x="1085.52" y="1151.68" width="27.22" height="22.87" fill="#747bba"/><rect x="1112.44" y="1151.68" width="27.22" height="22.87" fill="#b7b9d9"/><rect x="1139.36" y="1151.68" width="27.22" height="22.87" fill="#4756a6"/><rect x="1166.28" y="1151.68" width="27.22" height="22.87" fill="#878dc2"/><rect x="1193.20" y="1151.68" width="27.22" height="22.87" fill="#6a73b5"/><rect x="1220.12" y="1151.68" width="27.22" height="22.87" fill="#4958a8"/><rect x="1247.04" y="1151.68" width="27.22" height="22.87" fill="#a1a4cd"/><rect x="1273.96" y="1151.68" width="27.22" height="22.87" fill="#a1a4cd"/><rect x="1300.88" y="1151.68" width="27.22" height="22.87" fill="#6a73b5"/><rect x="1327.80" y="1151.68" width="27.22" height="22.87" fill="#cccde6"/><rect x="1354.72" y="1151.68" width="27.22" height="22.87" fill="#8e93c5"/><rect x="1381.64" y="1151.68" width="27.22" height="22.87" fill="#5461ac"/><rect x="1408.56" y="1151.68" width="27.22" height="22.87" fill="#dcddef"/><rect x="1435.48" y="1151.68" width="27.22" height="22.87" fill="#505dab"/><rect x="1462.40" y="1151.68" width="27.22" height="22.87" fill="#6a73b5"/><rect x="1489.32" y="1151.68" width="27.22" height="22.87" fill="#8187bf"/><rect x="1516.24" y="1151.68" width="27.22" height="22.87" fill="#b7b9d9"/><rect x="1543.16" y="1151.68" width="27.22" height="22.87" fill="#b7b9d9"/><rect x="1570.08" y="1151.68" width="27.22" height="22.87" fill="#9499c8"/><rect x="1597.00" y="1151.68" width="27.22" height="22.87" fill="#bcbedc"/><rect x="1623.92" y="1151.68" width="27.22" height="22.87" fill="#9499c8"/><rect x="1650.84" y="1151.68" width="27.22" height="22.87" fill="#a1a4cd"/><rect x="1677.76" y="1151.68" width="27.22" height="22.87" fill="#6a73b5"/><rect x="1704.68" y="1151.68" width="27.22" height="22.87" fill="#666fb4"/><rect x="1731.60" y="1151.68" width="27.22" height="22.87" fill="#616cb2"/><rect x="1758.52" y="1151.68" width="27.22" height="22.87" fill="#878dc2"/><rect x="1785.44" y="1151.68" width="27.22" height="22.87" fill="#fdf9f9"/><rect x="1812.36" y="1151.68" width="27.22" height="22.87" fill="#878dc2"/><rect x="1839.28" y="1151.68" width="27.22" height="22.87" fill="#8e93c5"/><rect x="1866.20" y="1151.68" width="27.22" height="22.87" fill="#bcbedc"/><rect x="1893.12" y="1151.68" width="27.22" height="22.87" fill="#666fb4"/><rect x="116.40" y="1174.25" width="27.22" height="22.87" fill="#6a73b5"/><rect x="143.32" y="1174.25" width="27.22" height="22.87" fill="#8187bf"/><rect x="170.24" y="1174.25" width="27.22" height="22.87" fill="#8187bf"/><rect x="197.16" y="1174.25" width="27.22" height="22.87" fill="#747bba"/><rect x="224.08" y="1174.25" width="27.22" height="22.87" fill="#a1a4cd"/><rect x="251.00" y="1174.25" width="27.22" height="22.87" fill="#8187bf"/><rect x="277.92" y="1174.25" width="27.22" height="22.87" fill="#4455a5"/><rect x="304.84" y="1174.25" width="27.22" height="22.87" fill="#6a73b5"/><rect x="331.76" y="1174.25" width="27.22" height="22.87" fill="#9b9eca"/><rect x="358.68" y="1174.25" width="27.22" height="22.87" fill="#b2b4d6"/><rect x="385.60" y="1174.25" width="27.22" height="22.87" fill="#b2b4d6"/><rect x="412.52" y="1174.25" width="27.22" height="22.87" fill="#747bba"/><rect x="439.44" y="1174.25" width="27.22" height="22.87" fill="#b7b9d9"/><rect x="466.36" y="1174.25" width="27.22" height="22.87" fill="#5461ac"/><rect x="493.28" y="1174.25" width="27.22" height="22.87" fill="#8e93c5"/><rect x="520.20" y="1174.25" width="27.22" height="22.87" fill="#6a73b5"/><rect x="547.12" y="1174.25" width="27.22" height="22.87" fill="#747bba"/><rect x="574.04" y="1174.25" width="27.22" height="22.87" fill="#8187bf"/><rect x="600.96" y="1174.25" width="27.22" height="22.87" fill="#4958a8"/><rect x="627.88" y="1174.25" width="27.22" height="22.87" fill="#505dab"/><rect x="654.80" y="1174.25" width="27.22" height="22.87" fill="#6e77b7"/><rect x="681.72" y="1174.25" width="27.22" height="22.87" fill="#6e77b7"/><rect x="708.64" y="1174.25" width="27.22" height="22.87" fill="#a8aad0"/><rect x="735.56" y="1174.25" width="27.22" height="22.87" fill="#b7b9d9"/><rect x="762.48" y="1174.25" width="27.22" height="22.87" fill="#8187bf"/><rect x="789.40" y="1174.25" width="27.22" height="22.87" fill="#adafd3"/><rect x="816.32" y="1174.25" width="27.22" height="22.87" fill="#9499c8"/><rect x="843.24" y="1174.25" width="27.22" height="22.87" fill="#f3f4fa"/><rect x="870.16" y="1174.25" width="27.22" height="22.87" fill="#b7b9d9"/><rect x="897.08" y="1174.25" width="27.22" height="22.87" fill="#747bba"/><rect x="924.00" y="1174.25" width="27.22" height="22.87" fill="#505dab"/><rect x="950.92" y="1174.25" width="27.22" height="22.87" fill="#616cb2"/><rect x="977.84" y="1174.25" width="27.22" height="22.87" fill="#a8aad0"/><rect x="1004.76" y="1174.25" width="27.22" height="22.87" fill="#6a73b5"/><rect x="1031.68" y="1174.25" width="27.22" height="22.87" fill="#616cb2"/><rect x="1058.60" y="1174.25" width="27.22" height="22.87" fill="#8e93c5"/><rect x="1085.52" y="1174.25" width="27.22" height="22.87" fill="#9499c8"/><rect x="1112.44" y="1174.25" width="27.22" height="22.87" fill="#4958a8"/><rect x="1139.36" y="1174.25" width="27.22" height="22.87" fill="#d6d7ec"/><rect x="1166.28" y="1174.25" width="27.22" height="22.87" fill="#a8aad0"/><rect x="1193.20" y="1174.25" width="27.22" height="22.87" fill="#a8aad0"/><rect x="1220.12" y="1174.25" width="27.22" height="22.87" fill="#fdf9f9"/><rect x="1247.04" y="1174.25" width="27.22" height="22.87" fill="#6a73b5"/><rect x="1273.96" y="1174.25" width="27.22" height="22.87" fill="#505dab"/><rect x="1300.88" y="1174.25" width="27.22" height="22.87" fill="#9b9eca"/><rect x="1327.80" y="1174.25" width="27.22" height="22.87" fill="#4756a6"/><rect x="1354.72" y="1174.25" width="27.22" height="22.87" fill="#6a73b5"/><rect x="1381.64" y="1174.25" width="27.22" height="22.87" fill="#adafd3"/><rect x="1408.56" y="1174.25" width="27.22" height="22.87" fill="#6a73b5"/><rect x="1435.48" y="1174.25" width="27.22" height="22.87" fill="#8187bf"/><rect x="1462.40" y="1174.25" width="27.22" height="22.87" fill="#a1a4cd"/><rect x="1489.32" y="1174.25" width="27.22" height="22.87" fill="#747bba"/><rect x="1516.24" y="1174.25" width="27.22" height="22.87" fill="#8187bf"/><rect x="1543.16" y="1174.25" width="27.22" height="22.87" fill="#616cb2"/><rect x="1570.08" y="1174.25" width="27.22" height="22.87" fill="#8187bf"/><rect x="1597.00" y="1174.25" width="27.22" height="22.87" fill="#5964ae"/><rect x="1623.92" y="1174.25" width="27.22" height="22.87" fill="#4756a6"/><rect x="1650.84" y="1174.25" width="27.22" height="22.87" fill="#4958a8"/><rect x="1677.76" y="1174.25" width="27.22" height="22.87" fill="#a8aad0"/><rect x="1704.68" y="1174.25" width="27.22" height="22.87" fill="#adafd3"/><rect x="1731.60" y="1174.25" width="27.22" height="22.87" fill="#b7b9d9"/><rect x="1758.52" y="1174.25" width="27.22" height="22.87" fill="#6a73b5"/><rect x="1785.44" y="1174.25" width="27.22" height="22.87" fill="#5461ac"/><rect x="1812.36" y="1174.25" width="27.22" height="22.87" fill="#878dc2"/><rect x="1839.28" y="1174.25" width="27.22" height="22.87" fill="#8e93c5"/><rect x="1866.20" y="1174.25" width="27.22" height="22.87" fill="#8e93c5"/><rect x="1893.12" y="1174.25" width="27.22" height="22.87" fill="#666fb4"/></g>
<text transform="translate(137.7,1057.6) rotate(-90)" font-size="23.5" stroke="#000">ANAPC1</text>
<text transform="translate(164.6,1057.6) rotate(-90)" font-size="23.5" stroke="#000">BMP15</text>
<text transform="translate(191.5,1057.6) rotate(-90)" font-size="23.5" stroke="#000">CAMK2G</text>
<text transform="translate(218.4,1057.6) rotate(-90)" font-size="23.5" stroke="#000">CCNO</text>
<text transform="translate(245.3,1057.6) rotate(-90)" font-size="23.5" stroke="#000">CDC34</text>
<text transform="translate(272.3,1057.6) rotate(-90)" font-size="23.5" stroke="#000">CDK1</text>
<text transform="translate(299.2,1057.6) rotate(-90)" font-size="23.5" stroke="#000">CENPS</text>
<text transform="translate(326.1,1057.6) rotate(-90)" font-size="23.5" stroke="#000">CKS2</text>
<text transform="translate(353.0,1057.6) rotate(-90)" font-size="23.5" stroke="#000">DLGAP5</text>
<text transform="translate(379.9,1057.6) rotate(-90)" font-size="23.5" stroke="#000">DSN1</text>
<text transform="translate(406.9,1057.6) rotate(-90)" font-size="23.5" stroke="#000">EIF2AK4</text>
<text transform="translate(433.8,1057.6) rotate(-90)" font-size="23.5" stroke="#000">GDF9</text>
<text transform="translate(460.7,1057.6) rotate(-90)" font-size="23.5" stroke="#000">GJA4</text>
<text transform="translate(487.6,1057.6) rotate(-90)" font-size="23.5" stroke="#000">GNAI2</text>
<text transform="translate(514.5,1057.6) rotate(-90)" font-size="23.5" stroke="#000">KIF23</text>
<text transform="translate(541.5,1057.6) rotate(-90)" font-size="23.5" stroke="#000">MTUS1</text>
<text transform="translate(568.4,1057.6) rotate(-90)" font-size="23.5" stroke="#000">OOG1</text>
<text transform="translate(595.3,1057.6) rotate(-90)" font-size="23.5" stroke="#000">OOG2</text>
<text transform="translate(622.2,1057.6) rotate(-90)" font-size="23.5" stroke="#000">OOSP2</text>
<text transform="translate(649.1,1057.6) rotate(-90)" font-size="23.5" stroke="#000">PPP2R5C</text>
<text transform="translate(676.1,1057.6) rotate(-90)" font-size="23.5" stroke="#000">PTTG1</text>
<text transform="translate(703.0,1057.6) rotate(-90)" font-size="23.5" stroke="#000">RACGAP1</text>
<text transform="translate(729.9,1057.6) rotate(-90)" font-size="23.5" stroke="#000">RBM38</text>
<text transform="translate(756.8,1057.6) rotate(-90)" font-size="23.5" stroke="#000">SPAST</text>
<text transform="translate(783.7,1057.6) rotate(-90)" font-size="23.5" stroke="#000">SPECC1L</text>
<text transform="translate(810.7,1057.6) rotate(-90)" font-size="23.5" stroke="#000">SYCE2</text>
<text transform="translate(837.6,1057.6) rotate(-90)" font-size="23.5" stroke="#000">UBE2S</text>
<text transform="translate(864.5,1057.6) rotate(-90)" font-size="23.5" stroke="#000">ACAD11</text>
<text transform="translate(891.4,1057.6) rotate(-90)" font-size="23.5" stroke="#000">ADCK1</text>
<text transform="translate(918.3,1057.6) rotate(-90)" font-size="23.5" stroke="#000">AKT1</text>
<text transform="translate(945.3,1057.6) rotate(-90)" font-size="23.5" stroke="#000">ALKBH7</text>
<text transform="translate(972.2,1057.6) rotate(-90)" font-size="23.5" stroke="#000">CHCHD2</text>
<text transform="translate(999.1,1057.6) rotate(-90)" font-size="23.5" stroke="#000">CISD1</text>
<text transform="translate(1026.0,1057.6) rotate(-90)" font-size="23.5" stroke="#000">COX17</text>
<text transform="translate(1052.9,1057.6) rotate(-90)" font-size="23.5" stroke="#000">CPNE3</text>
<text transform="translate(1079.9,1057.6) rotate(-90)" font-size="23.5" stroke="#000">GJA1</text>
<text transform="translate(1106.8,1057.6) rotate(-90)" font-size="23.5" stroke="#000">GNRH1</text>
<text transform="translate(1133.7,1057.6) rotate(-90)" font-size="23.5" stroke="#000">ISCA1</text>
<text transform="translate(1160.6,1057.6) rotate(-90)" font-size="23.5" stroke="#000">ISCU</text>
<text transform="translate(1187.5,1057.6) rotate(-90)" font-size="23.5" stroke="#000">MAVS</text>
<text transform="translate(1214.5,1057.6) rotate(-90)" font-size="23.5" stroke="#000">MFF</text>
<text transform="translate(1241.4,1057.6) rotate(-90)" font-size="23.5" stroke="#000">NDRG4</text>
<text transform="translate(1268.3,1057.6) rotate(-90)" font-size="23.5" stroke="#000">PAM16</text>
<text transform="translate(1295.2,1057.6) rotate(-90)" font-size="23.5" stroke="#000">PRXL2A</text>
<text transform="translate(1322.1,1057.6) rotate(-90)" font-size="23.5" stroke="#000">RAB3D</text>
<text transform="translate(1349.1,1057.6) rotate(-90)" font-size="23.5" stroke="#000">RPL35</text>
<text transform="translate(1376.0,1057.6) rotate(-90)" font-size="23.5" stroke="#000">STXBP1</text>
<text transform="translate(1402.9,1057.6) rotate(-90)" font-size="23.5" stroke="#000">AKR1B8</text>
<text transform="translate(1429.8,1057.6) rotate(-90)" font-size="23.5" stroke="#000">AMPD2</text>
<text transform="translate(1456.7,1057.6) rotate(-90)" font-size="23.5" stroke="#000">ATP6V0D1</text>
<text transform="translate(1483.7,1057.6) rotate(-90)" font-size="23.5" stroke="#000">CA14</text>
<text transform="translate(1510.6,1057.6) rotate(-90)" font-size="23.5" stroke="#000">DNMT1</text>
<text transform="translate(1537.5,1057.6) rotate(-90)" font-size="23.5" stroke="#000">DNMT3A</text>
<text transform="translate(1564.4,1057.6) rotate(-90)" font-size="23.5" stroke="#000">DPM1</text>
<text transform="translate(1591.3,1057.6) rotate(-90)" font-size="23.5" stroke="#000">GCH1</text>
<text transform="translate(1618.3,1057.6) rotate(-90)" font-size="23.5" stroke="#000">GCNT4</text>
<text transform="translate(1645.2,1057.6) rotate(-90)" font-size="23.5" stroke="#000">GPX6</text>
<text transform="translate(1672.1,1057.6) rotate(-90)" font-size="23.5" stroke="#000">IAP</text>
<text transform="translate(1699.0,1057.6) rotate(-90)" font-size="23.5" stroke="#000">IVD</text>
<text transform="translate(1725.9,1057.6) rotate(-90)" font-size="23.5" stroke="#000">LPIN2</text>
<text transform="translate(1752.9,1057.6) rotate(-90)" font-size="23.5" stroke="#000">PDE3A</text>
<text transform="translate(1779.8,1057.6) rotate(-90)" font-size="23.5" stroke="#000">PGS1</text>
<text transform="translate(1806.7,1057.6) rotate(-90)" font-size="23.5" stroke="#000">RDH10</text>
<text transform="translate(1833.6,1057.6) rotate(-90)" font-size="23.5" stroke="#000">RGN</text>
<text transform="translate(1860.5,1057.6) rotate(-90)" font-size="23.5" stroke="#000">RNF126</text>
<text transform="translate(1887.5,1057.6) rotate(-90)" font-size="23.5" stroke="#000">RNF14</text>
<text transform="translate(1914.4,1057.6) rotate(-90)" font-size="23.5" stroke="#000">TXNDC12</text>
<line x1="108.9" y1="1061.9" x2="108.9" y2="1129.2" stroke="#2f5cc0" stroke-width="2.4"/>
<line x1="108.9" y1="1130.4" x2="108.9" y2="1198.3" stroke="#e3322a" stroke-width="2.4"/>
<text transform="translate(107.0,1100.6) rotate(-45)" font-size="23.5" text-anchor="end" stroke="#000">WT</text>
<text transform="translate(107.0,1161.2) rotate(-45)" font-size="23.5" text-anchor="end" stroke="#000"><tspan font-style="italic">Eif2s2</tspan>-ZcKO</text>
<rect x="1928.3" y="991.9" width="11.4" height="197.7" fill="url(#cb1061)"/>
<text x="1946.0" y="1009.3" font-size="24" stroke="#000">2</text>
<text x="1946.0" y="1051.8" font-size="24" stroke="#000">1</text>
<text x="1946.0" y="1095.3" font-size="24" stroke="#000">0</text>
<text x="1946.0" y="1139.7" font-size="24" stroke="#000">-1</text>
<text x="1946.0" y="1182.3" font-size="24" stroke="#000">-2</text>
<line x1="115.0" y1="1200.5" x2="843.2" y2="1200.5" stroke="#000" stroke-width="2.2"/>
<text x="454.6" y="1224.4" font-size="24" text-anchor="middle" stroke="#000">Oocyte maturation and cell cycle</text>
<line x1="852.0" y1="1200.5" x2="1381.0" y2="1200.5" stroke="#000" stroke-width="2.2"/>
<text x="1144.2" y="1224.4" font-size="24" text-anchor="middle" stroke="#000">Mitochondrial function</text>
<line x1="1385.3" y1="1200.5" x2="1916.0" y2="1200.5" stroke="#000" stroke-width="2.2"/>
<text x="1668.0" y="1224.4" font-size="24" text-anchor="middle" stroke="#000">Ubiquitination and proteolysis</text>
<g shape-rendering="crispEdges"><rect x="116.40" y="1395.90" width="27.22" height="22.73" fill="#b2b4d6"/><rect x="143.32" y="1395.90" width="27.22" height="22.73" fill="#9499c8"/><rect x="170.24" y="1395.90" width="27.22" height="22.73" fill="#cccde6"/><rect x="197.16" y="1395.90" width="27.22" height="22.73" fill="#b2b4d6"/><rect x="224.08" y="1395.90" width="27.22" height="22.73" fill="#7a81bc"/><rect x="251.00" y="1395.90" width="27.22" height="22.73" fill="#4958a8"/><rect x="277.92" y="1395.90" width="27.22" height="22.73" fill="#5461ac"/><rect x="304.84" y="1395.90" width="27.22" height="22.73" fill="#9b9eca"/><rect x="331.76" y="1395.90" width="27.22" height="22.73" fill="#7a81bc"/><rect x="358.68" y="1395.90" width="27.22" height="22.73" fill="#7a81bc"/><rect x="385.60" y="1395.90" width="27.22" height="22.73" fill="#7a81bc"/><rect x="412.52" y="1395.90" width="27.22" height="22.73" fill="#9b9eca"/><rect x="439.44" y="1395.90" width="27.22" height="22.73" fill="#616cb2"/><rect x="466.36" y="1395.90" width="27.22" height="22.73" fill="#7a81bc"/><rect x="493.28" y="1395.90" width="27.22" height="22.73" fill="#9b9eca"/><rect x="520.20" y="1395.90" width="27.22" height="22.73" fill="#4c59a9"/><rect x="547.12" y="1395.90" width="27.22" height="22.73" fill="#666fb4"/><rect x="574.04" y="1395.90" width="27.22" height="22.73" fill="#7a81bc"/><rect x="600.96" y="1395.90" width="27.22" height="22.73" fill="#7a81bc"/><rect x="627.88" y="1395.90" width="27.22" height="22.73" fill="#616cb2"/><rect x="654.80" y="1395.90" width="27.22" height="22.73" fill="#c7c8e3"/><rect x="681.72" y="1395.90" width="27.22" height="22.73" fill="#6e77b7"/><rect x="708.64" y="1395.90" width="27.22" height="22.73" fill="#8e93c5"/><rect x="735.56" y="1395.90" width="27.22" height="22.73" fill="#9b9eca"/><rect x="762.48" y="1395.90" width="27.22" height="22.73" fill="#bcbedc"/><rect x="789.40" y="1395.90" width="27.22" height="22.73" fill="#747bba"/><rect x="816.32" y="1395.90" width="27.22" height="22.73" fill="#7a81bc"/><rect x="843.24" y="1395.90" width="27.22" height="22.73" fill="#4857a7"/><rect x="870.16" y="1395.90" width="27.22" height="22.73" fill="#747bba"/><rect x="897.08" y="1395.90" width="27.22" height="22.73" fill="#5d68b0"/><rect x="924.00" y="1395.90" width="27.22" height="22.73" fill="#c7c8e3"/><rect x="950.92" y="1395.90" width="27.22" height="22.73" fill="#616cb2"/><rect x="977.84" y="1395.90" width="27.22" height="22.73" fill="#7a81bc"/><rect x="1004.76" y="1395.90" width="27.22" height="22.73" fill="#8e93c5"/><rect x="1031.68" y="1395.90" width="27.22" height="22.73" fill="#c2c3e0"/><rect x="1058.60" y="1395.90" width="27.22" height="22.73" fill="#6a73b5"/><rect x="1085.52" y="1395.90" width="27.22" height="22.73" fill="#9499c8"/><rect x="1112.44" y="1395.90" width="27.22" height="22.73" fill="#6e77b7"/><rect x="1139.36" y="1395.90" width="27.22" height="22.73" fill="#d1d2e9"/><rect x="1166.28" y="1395.90" width="27.22" height="22.73" fill="#5461ac"/><rect x="1193.20" y="1395.90" width="27.22" height="22.73" fill="#9b9eca"/><rect x="1220.12" y="1395.90" width="27.22" height="22.73" fill="#8187bf"/><rect x="1247.04" y="1395.90" width="27.22" height="22.73" fill="#8187bf"/><rect x="1273.96" y="1395.90" width="27.22" height="22.73" fill="#747bba"/><rect x="1300.88" y="1395.90" width="27.22" height="22.73" fill="#4958a8"/><rect x="1327.80" y="1395.90" width="27.22" height="22.73" fill="#9499c8"/><rect x="1354.72" y="1395.90" width="27.22" height="22.73" fill="#505dab"/><rect x="1381.64" y="1395.90" width="27.22" height="22.73" fill="#c2c3e0"/><rect x="1408.56" y="1395.90" width="27.22" height="22.73" fill="#a1a4cd"/><rect x="1435.48" y="1395.90" width="27.22" height="22.73" fill="#7a81bc"/><rect x="1462.40" y="1395.90" width="27.22" height="22.73" fill="#9499c8"/><rect x="1489.32" y="1395.90" width="27.22" height="22.73" fill="#747bba"/><rect x="1516.24" y="1395.90" width="27.22" height="22.73" fill="#7a81bc"/><rect x="1543.16" y="1395.90" width="27.22" height="22.73" fill="#8187bf"/><rect x="1570.08" y="1395.90" width="27.22" height="22.73" fill="#4958a8"/><rect x="1597.00" y="1395.90" width="27.22" height="22.73" fill="#747bba"/><rect x="1623.92" y="1395.90" width="27.22" height="22.73" fill="#747bba"/><rect x="1650.84" y="1395.90" width="27.22" height="22.73" fill="#7a81bc"/><rect x="1677.76" y="1395.90" width="27.22" height="22.73" fill="#6a73b5"/><rect x="1704.68" y="1395.90" width="27.22" height="22.73" fill="#747bba"/><rect x="1731.60" y="1395.90" width="27.22" height="22.73" fill="#747bba"/><rect x="1758.52" y="1395.90" width="27.22" height="22.73" fill="#a1a4cd"/><rect x="1785.44" y="1395.90" width="27.22" height="22.73" fill="#a1a4cd"/><rect x="1812.36" y="1395.90" width="27.22" height="22.73" fill="#747bba"/><rect x="1839.28" y="1395.90" width="27.22" height="22.73" fill="#8e93c5"/><rect x="1866.20" y="1395.90" width="27.22" height="22.73" fill="#5461ac"/><rect x="1893.12" y="1395.90" width="27.22" height="22.73" fill="#9b9eca"/><rect x="116.40" y="1418.33" width="27.22" height="22.73" fill="#4c59a9"/><rect x="143.32" y="1418.33" width="27.22" height="22.73" fill="#4c59a9"/><rect x="170.24" y="1418.33" width="27.22" height="22.73" fill="#4958a8"/><rect x="197.16" y="1418.33" width="27.22" height="22.73" fill="#8187bf"/><rect x="224.08" y="1418.33" width="27.22" height="22.73" fill="#b2b4d6"/><rect x="251.00" y="1418.33" width="27.22" height="22.73" fill="#b2b4d6"/><rect x="277.92" y="1418.33" width="27.22" height="22.73" fill="#c2c3e0"/><rect x="304.84" y="1418.33" width="27.22" height="22.73" fill="#9499c8"/><rect x="331.76" y="1418.33" width="27.22" height="22.73" fill="#7a81bc"/><rect x="358.68" y="1418.33" width="27.22" height="22.73" fill="#7a81bc"/><rect x="385.60" y="1418.33" width="27.22" height="22.73" fill="#747bba"/><rect x="412.52" y="1418.33" width="27.22" height="22.73" fill="#666fb4"/><rect x="439.44" y="1418.33" width="27.22" height="22.73" fill="#7a81bc"/><rect x="466.36" y="1418.33" width="27.22" height="22.73" fill="#8e93c5"/><rect x="493.28" y="1418.33" width="27.22" height="22.73" fill="#7a81bc"/><rect x="520.20" y="1418.33" width="27.22" height="22.73" fill="#b2b4d6"/><rect x="547.12" y="1418.33" width="27.22" height="22.73" fill="#6a73b5"/><rect x="574.04" y="1418.33" width="27.22" height="22.73" fill="#747bba"/><rect x="600.96" y="1418.33" width="27.22" height="22.73" fill="#8e93c5"/><rect x="627.88" y="1418.33" width="27.22" height="22.73" fill="#8187bf"/><rect x="654.80" y="1418.33" width="27.22" height="22.73" fill="#4958a8"/><rect x="681.72" y="1418.33" width="27.22" height="22.73" fill="#8e93c5"/><rect x="708.64" y="1418.33" width="27.22" height="22.73" fill="#666fb4"/><rect x="735.56" y="1418.33" width="27.22" height="22.73" fill="#6e77b7"/><rect x="762.48" y="1418.33" width="27.22" height="22.73" fill="#6e77b7"/><rect x="789.40" y="1418.33" width="27.22" height="22.73" fill="#878dc2"/><rect x="816.32" y="1418.33" width="27.22" height="22.73" fill="#b7b9d9"/><rect x="843.24" y="1418.33" width="27.22" height="22.73" fill="#b2b4d6"/><rect x="870.16" y="1418.33" width="27.22" height="22.73" fill="#6a73b5"/><rect x="897.08" y="1418.33" width="27.22" height="22.73" fill="#747bba"/><rect x="924.00" y="1418.33" width="27.22" height="22.73" fill="#505dab"/><rect x="950.92" y="1418.33" width="27.22" height="22.73" fill="#8187bf"/><rect x="977.84" y="1418.33" width="27.22" height="22.73" fill="#6e77b7"/><rect x="1004.76" y="1418.33" width="27.22" height="22.73" fill="#747bba"/><rect x="1031.68" y="1418.33" width="27.22" height="22.73" fill="#5d68b0"/><rect x="1058.60" y="1418.33" width="27.22" height="22.73" fill="#adafd3"/><rect x="1085.52" y="1418.33" width="27.22" height="22.73" fill="#7a81bc"/><rect x="1112.44" y="1418.33" width="27.22" height="22.73" fill="#a1a4cd"/><rect x="1139.36" y="1418.33" width="27.22" height="22.73" fill="#8e93c5"/><rect x="1166.28" y="1418.33" width="27.22" height="22.73" fill="#a8aad0"/><rect x="1193.20" y="1418.33" width="27.22" height="22.73" fill="#8187bf"/><rect x="1220.12" y="1418.33" width="27.22" height="22.73" fill="#8187bf"/><rect x="1247.04" y="1418.33" width="27.22" height="22.73" fill="#a1a4cd"/><rect x="1273.96" y="1418.33" width="27.22" height="22.73" fill="#a1a4cd"/><rect x="1300.88" y="1418.33" width="27.22" height="22.73" fill="#a1a4cd"/><rect x="1327.80" y="1418.33" width="27.22" height="22.73" fill="#6e77b7"/><rect x="1354.72" y="1418.33" width="27.22" height="22.73" fill="#adafd3"/><rect x="1381.64" y="1418.33" width="27.22" height="22.73" fill="#505dab"/><rect x="1408.56" y="1418.33" width="27.22" height="22.73" fill="#6e77b7"/><rect x="1435.48" y="1418.33" width="27.22" height="22.73" fill="#6e77b7"/><rect x="1462.40" y="1418.33" width="27.22" height="22.73" fill="#6e77b7"/><rect x="1489.32" y="1418.33" width="27.22" height="22.73" fill="#8187bf"/><rect x="1516.24" y="1418.33" width="27.22" height="22.73" fill="#6e77b7"/><rect x="1543.16" y="1418.33" width="27.22" height="22.73" fill="#6e77b7"/><rect x="1570.08" y="1418.33" width="27.22" height="22.73" fill="#b7b9d9"/><rect x="1597.00" y="1418.33" width="27.22" height="22.73" fill="#7a81bc"/><rect x="1623.92" y="1418.33" width="27.22" height="22.73" fill="#747bba"/><rect x="1650.84" y="1418.33" width="27.22" height="22.73" fill="#878dc2"/><rect x="1677.76" y="1418.33" width="27.22" height="22.73" fill="#878dc2"/><rect x="1704.68" y="1418.33" width="27.22" height="22.73" fill="#5d68b0"/><rect x="1731.60" y="1418.33" width="27.22" height="22.73" fill="#878dc2"/><rect x="1758.52" y="1418.33" width="27.22" height="22.73" fill="#cccde6"/><rect x="1785.44" y="1418.33" width="27.22" height="22.73" fill="#4857a7"/><rect x="1812.36" y="1418.33" width="27.22" height="22.73" fill="#8187bf"/><rect x="1839.28" y="1418.33" width="27.22" height="22.73" fill="#7a81bc"/><rect x="1866.20" y="1418.33" width="27.22" height="22.73" fill="#a1a4cd"/><rect x="1893.12" y="1418.33" width="27.22" height="22.73" fill="#c2c3e0"/><rect x="116.40" y="1440.76" width="27.22" height="22.73" fill="#8e93c5"/><rect x="143.32" y="1440.76" width="27.22" height="22.73" fill="#c7c8e3"/><rect x="170.24" y="1440.76" width="27.22" height="22.73" fill="#8187bf"/><rect x="197.16" y="1440.76" width="27.22" height="22.73" fill="#6a73b5"/><rect x="224.08" y="1440.76" width="27.22" height="22.73" fill="#5d68b0"/><rect x="251.00" y="1440.76" width="27.22" height="22.73" fill="#9b9eca"/><rect x="277.92" y="1440.76" width="27.22" height="22.73" fill="#6e77b7"/><rect x="304.84" y="1440.76" width="27.22" height="22.73" fill="#5461ac"/><rect x="331.76" y="1440.76" width="27.22" height="22.73" fill="#7a81bc"/><rect x="358.68" y="1440.76" width="27.22" height="22.73" fill="#7a81bc"/><rect x="385.60" y="1440.76" width="27.22" height="22.73" fill="#7a81bc"/><rect x="412.52" y="1440.76" width="27.22" height="22.73" fill="#9499c8"/><rect x="439.44" y="1440.76" width="27.22" height="22.73" fill="#adafd3"/><rect x="466.36" y="1440.76" width="27.22" height="22.73" fill="#747bba"/><rect x="493.28" y="1440.76" width="27.22" height="22.73" fill="#6a73b5"/><rect x="520.20" y="1440.76" width="27.22" height="22.73" fill="#b2b4d6"/><rect x="547.12" y="1440.76" width="27.22" height="22.73" fill="#b2b4d6"/><rect x="574.04" y="1440.76" width="27.22" height="22.73" fill="#878dc2"/><rect x="600.96" y="1440.76" width="27.22" height="22.73" fill="#6e77b7"/><rect x="627.88" y="1440.76" width="27.22" height="22.73" fill="#a1a4cd"/><rect x="654.80" y="1440.76" width="27.22" height="22.73" fill="#8187bf"/><rect x="681.72" y="1440.76" width="27.22" height="22.73" fill="#7a81bc"/><rect x="708.64" y="1440.76" width="27.22" height="22.73" fill="#a1a4cd"/><rect x="735.56" y="1440.76" width="27.22" height="22.73" fill="#8187bf"/><rect x="762.48" y="1440.76" width="27.22" height="22.73" fill="#878dc2"/><rect x="789.40" y="1440.76" width="27.22" height="22.73" fill="#9499c8"/><rect x="816.32" y="1440.76" width="27.22" height="22.73" fill="#5d68b0"/><rect x="843.24" y="1440.76" width="27.22" height="22.73" fill="#e8e8f4"/><rect x="870.16" y="1440.76" width="27.22" height="22.73" fill="#9b9eca"/><rect x="897.08" y="1440.76" width="27.22" height="22.73" fill="#b2b4d6"/><rect x="924.00" y="1440.76" width="27.22" height="22.73" fill="#8e93c5"/><rect x="950.92" y="1440.76" width="27.22" height="22.73" fill="#9b9eca"/><rect x="977.84" y="1440.76" width="27.22" height="22.73" fill="#878dc2"/><rect x="1004.76" y="1440.76" width="27.22" height="22.73" fill="#6e77b7"/><rect x="1031.68" y="1440.76" width="27.22" height="22.73" fill="#5d68b0"/><rect x="1058.60" y="1440.76" width="27.22" height="22.73" fill="#8187bf"/><rect x="1085.52" y="1440.76" width="27.22" height="22.73" fill="#747bba"/><rect x="1112.44" y="1440.76" width="27.22" height="22.73" fill="#6a73b5"/><rect x="1139.36" y="1440.76" width="27.22" height="22.73" fill="#8187bf"/><rect x="1166.28" y="1440.76" width="27.22" height="22.73" fill="#a8aad0"/><rect x="1193.20" y="1440.76" width="27.22" height="22.73" fill="#6e77b7"/><rect x="1220.12" y="1440.76" width="27.22" height="22.73" fill="#747bba"/><rect x="1247.04" y="1440.76" width="27.22" height="22.73" fill="#747bba"/><rect x="1273.96" y="1440.76" width="27.22" height="22.73" fill="#6a73b5"/><rect x="1300.88" y="1440.76" width="27.22" height="22.73" fill="#bcbedc"/><rect x="1327.80" y="1440.76" width="27.22" height="22.73" fill="#878dc2"/><rect x="1354.72" y="1440.76" width="27.22" height="22.73" fill="#9b9eca"/><rect x="1381.64" y="1440.76" width="27.22" height="22.73" fill="#9b9eca"/><rect x="1408.56" y="1440.76" width="27.22" height="22.73" fill="#8187bf"/><rect x="1435.48" y="1440.76" width="27.22" height="22.73" fill="#9b9eca"/><rect x="1462.40" y="1440.76" width="27.22" height="22.73" fill="#7a81bc"/><rect x="1489.32" y="1440.76" width="27.22" height="22.73" fill="#8e93c5"/><rect x="1516.24" y="1440.76" width="27.22" height="22.73" fill="#9499c8"/><rect x="1543.16" y="1440.76" width="27.22" height="22.73" fill="#7a81bc"/><rect x="1570.08" y="1440.76" width="27.22" height="22.73" fill="#b2b4d6"/><rect x="1597.00" y="1440.76" width="27.22" height="22.73" fill="#8187bf"/><rect x="1623.92" y="1440.76" width="27.22" height="22.73" fill="#878dc2"/><rect x="1650.84" y="1440.76" width="27.22" height="22.73" fill="#8e93c5"/><rect x="1677.76" y="1440.76" width="27.22" height="22.73" fill="#8e93c5"/><rect x="1704.68" y="1440.76" width="27.22" height="22.73" fill="#adafd3"/><rect x="1731.60" y="1440.76" width="27.22" height="22.73" fill="#747bba"/><rect x="1758.52" y="1440.76" width="27.22" height="22.73" fill="#4c59a9"/><rect x="1785.44" y="1440.76" width="27.22" height="22.73" fill="#dcddef"/><rect x="1812.36" y="1440.76" width="27.22" height="22.73" fill="#8187bf"/><rect x="1839.28" y="1440.76" width="27.22" height="22.73" fill="#747bba"/><rect x="1866.20" y="1440.76" width="27.22" height="22.73" fill="#9499c8"/><rect x="1893.12" y="1440.76" width="27.22" height="22.73" fill="#9499c8"/><rect x="116.40" y="1463.19" width="27.22" height="22.73" fill="#df8689"/><rect x="143.32" y="1463.19" width="27.22" height="22.73" fill="#dc7276"/><rect x="170.24" y="1463.19" width="27.22" height="22.73" fill="#e6acae"/><rect x="197.16" y="1463.19" width="27.22" height="22.73" fill="#d95b5e"/><rect x="224.08" y="1463.19" width="27.22" height="22.73" fill="#eabec0"/><rect x="251.00" y="1463.19" width="27.22" height="22.73" fill="#df8689"/><rect x="277.92" y="1463.19" width="27.22" height="22.73" fill="#db6c70"/><rect x="304.84" y="1463.19" width="27.22" height="22.73" fill="#e08c90"/><rect x="331.76" y="1463.19" width="27.22" height="22.73" fill="#e08c90"/><rect x="358.68" y="1463.19" width="27.22" height="22.73" fill="#e08c90"/><rect x="385.60" y="1463.19" width="27.22" height="22.73" fill="#e08c90"/><rect x="412.52" y="1463.19" width="27.22" height="22.73" fill="#f0d6d7"/><rect x="439.44" y="1463.19" width="27.22" height="22.73" fill="#e6acae"/><rect x="466.36" y="1463.19" width="27.22" height="22.73" fill="#eabec0"/><rect x="493.28" y="1463.19" width="27.22" height="22.73" fill="#e3a0a3"/><rect x="520.20" y="1463.19" width="27.22" height="22.73" fill="#d9585a"/><rect x="547.12" y="1463.19" width="27.22" height="22.73" fill="#e2999c"/><rect x="574.04" y="1463.19" width="27.22" height="22.73" fill="#dd797c"/><rect x="600.96" y="1463.19" width="27.22" height="22.73" fill="#de7f83"/><rect x="627.88" y="1463.19" width="27.22" height="22.73" fill="#de7f83"/><rect x="654.80" y="1463.19" width="27.22" height="22.73" fill="#e3a0a3"/><rect x="681.72" y="1463.19" width="27.22" height="22.73" fill="#da6165"/><rect x="708.64" y="1463.19" width="27.22" height="22.73" fill="#dc7276"/><rect x="735.56" y="1463.19" width="27.22" height="22.73" fill="#e9b8ba"/><rect x="762.48" y="1463.19" width="27.22" height="22.73" fill="#edeef7"/><rect x="789.40" y="1463.19" width="27.22" height="22.73" fill="#e9b8ba"/><rect x="816.32" y="1463.19" width="27.22" height="22.73" fill="#da6165"/><rect x="843.24" y="1463.19" width="27.22" height="22.73" fill="#d74644"/><rect x="870.16" y="1463.19" width="27.22" height="22.73" fill="#e4a6a8"/><rect x="897.08" y="1463.19" width="27.22" height="22.73" fill="#eabec0"/><rect x="924.00" y="1463.19" width="27.22" height="22.73" fill="#d74644"/><rect x="950.92" y="1463.19" width="27.22" height="22.73" fill="#de7f83"/><rect x="977.84" y="1463.19" width="27.22" height="22.73" fill="#e2999c"/><rect x="1004.76" y="1463.19" width="27.22" height="22.73" fill="#d95b5e"/><rect x="1031.68" y="1463.19" width="27.22" height="22.73" fill="#dd797c"/><rect x="1058.60" y="1463.19" width="27.22" height="22.73" fill="#d95e61"/><rect x="1085.52" y="1463.19" width="27.22" height="22.73" fill="#d95b5e"/><rect x="1112.44" y="1463.19" width="27.22" height="22.73" fill="#e3a0a3"/><rect x="1139.36" y="1463.19" width="27.22" height="22.73" fill="#d8413d"/><rect x="1166.28" y="1463.19" width="27.22" height="22.73" fill="#dd797c"/><rect x="1193.20" y="1463.19" width="27.22" height="22.73" fill="#de7f83"/><rect x="1220.12" y="1463.19" width="27.22" height="22.73" fill="#de7f83"/><rect x="1247.04" y="1463.19" width="27.22" height="22.73" fill="#d95b5e"/><rect x="1273.96" y="1463.19" width="27.22" height="22.73" fill="#da6569"/><rect x="1300.88" y="1463.19" width="27.22" height="22.73" fill="#dc7276"/><rect x="1327.80" y="1463.19" width="27.22" height="22.73" fill="#dc7276"/><rect x="1354.72" y="1463.19" width="27.22" height="22.73" fill="#e3a0a3"/><rect x="1381.64" y="1463.19" width="27.22" height="22.73" fill="#d9585a"/><rect x="1408.56" y="1463.19" width="27.22" height="22.73" fill="#e4a6a8"/><rect x="1435.48" y="1463.19" width="27.22" height="22.73" fill="#d95e61"/><rect x="1462.40" y="1463.19" width="27.22" height="22.73" fill="#e19396"/><rect x="1489.32" y="1463.19" width="27.22" height="22.73" fill="#df8689"/><rect x="1516.24" y="1463.19" width="27.22" height="22.73" fill="#e08c90"/><rect x="1543.16" y="1463.19" width="27.22" height="22.73" fill="#de7f83"/><rect x="1570.08" y="1463.19" width="27.22" height="22.73" fill="#dd797c"/><rect x="1597.00" y="1463.19" width="27.22" height="22.73" fill="#da6165"/><rect x="1623.92" y="1463.19" width="27.22" height="22.73" fill="#e4a6a8"/><rect x="1650.84" y="1463.19" width="27.22" height="22.73" fill="#eabec0"/><rect x="1677.76" y="1463.19" width="27.22" height="22.73" fill="#de7f83"/><rect x="1704.68" y="1463.19" width="27.22" height="22.73" fill="#df8689"/><rect x="1731.60" y="1463.19" width="27.22" height="22.73" fill="#df8689"/><rect x="1758.52" y="1463.19" width="27.22" height="22.73" fill="#db6c70"/><rect x="1785.44" y="1463.19" width="27.22" height="22.73" fill="#ecc4c6"/><rect x="1812.36" y="1463.19" width="27.22" height="22.73" fill="#e08c90"/><rect x="1839.28" y="1463.19" width="27.22" height="22.73" fill="#e08c90"/><rect x="1866.20" y="1463.19" width="27.22" height="22.73" fill="#dc7276"/><rect x="1893.12" y="1463.19" width="27.22" height="22.73" fill="#fefdfd"/><rect x="116.40" y="1485.62" width="27.22" height="22.73" fill="#eabec0"/><rect x="143.32" y="1485.62" width="27.22" height="22.73" fill="#d9585a"/><rect x="170.24" y="1485.62" width="27.22" height="22.73" fill="#e19396"/><rect x="197.16" y="1485.62" width="27.22" height="22.73" fill="#da6569"/><rect x="224.08" y="1485.62" width="27.22" height="22.73" fill="#d85253"/><rect x="251.00" y="1485.62" width="27.22" height="22.73" fill="#e19396"/><rect x="277.92" y="1485.62" width="27.22" height="22.73" fill="#e6acae"/><rect x="304.84" y="1485.62" width="27.22" height="22.73" fill="#eabec0"/><rect x="331.76" y="1485.62" width="27.22" height="22.73" fill="#dd797c"/><rect x="358.68" y="1485.62" width="27.22" height="22.73" fill="#df8689"/><rect x="385.60" y="1485.62" width="27.22" height="22.73" fill="#df8689"/><rect x="412.52" y="1485.62" width="27.22" height="22.73" fill="#d9585a"/><rect x="439.44" y="1485.62" width="27.22" height="22.73" fill="#df8689"/><rect x="466.36" y="1485.62" width="27.22" height="22.73" fill="#da6165"/><rect x="493.28" y="1485.62" width="27.22" height="22.73" fill="#de7f83"/><rect x="520.20" y="1485.62" width="27.22" height="22.73" fill="#e3a0a3"/><rect x="547.12" y="1485.62" width="27.22" height="22.73" fill="#db6c70"/><rect x="574.04" y="1485.62" width="27.22" height="22.73" fill="#e19396"/><rect x="600.96" y="1485.62" width="27.22" height="22.73" fill="#de7f83"/><rect x="627.88" y="1485.62" width="27.22" height="22.73" fill="#de7f83"/><rect x="654.80" y="1485.62" width="27.22" height="22.73" fill="#de7f83"/><rect x="681.72" y="1485.62" width="27.22" height="22.73" fill="#e7b2b4"/><rect x="708.64" y="1485.62" width="27.22" height="22.73" fill="#e3a0a3"/><rect x="735.56" y="1485.62" width="27.22" height="22.73" fill="#da6569"/><rect x="762.48" y="1485.62" width="27.22" height="22.73" fill="#d95b5e"/><rect x="789.40" y="1485.62" width="27.22" height="22.73" fill="#ecc4c6"/><rect x="816.32" y="1485.62" width="27.22" height="22.73" fill="#e2999c"/><rect x="843.24" y="1485.62" width="27.22" height="22.73" fill="#f2dbdd"/><rect x="870.16" y="1485.62" width="27.22" height="22.73" fill="#dd797c"/><rect x="897.08" y="1485.62" width="27.22" height="22.73" fill="#dc7276"/><rect x="924.00" y="1485.62" width="27.22" height="22.73" fill="#eabec0"/><rect x="950.92" y="1485.62" width="27.22" height="22.73" fill="#dd797c"/><rect x="977.84" y="1485.62" width="27.22" height="22.73" fill="#dd797c"/><rect x="1004.76" y="1485.62" width="27.22" height="22.73" fill="#e3a0a3"/><rect x="1031.68" y="1485.62" width="27.22" height="22.73" fill="#db6c70"/><rect x="1058.60" y="1485.62" width="27.22" height="22.73" fill="#f7e7e8"/><rect x="1085.52" y="1485.62" width="27.22" height="22.73" fill="#e2999c"/><rect x="1112.44" y="1485.62" width="27.22" height="22.73" fill="#d95e61"/><rect x="1139.36" y="1485.62" width="27.22" height="22.73" fill="#e9b8ba"/><rect x="1166.28" y="1485.62" width="27.22" height="22.73" fill="#e4a6a8"/><rect x="1193.20" y="1485.62" width="27.22" height="22.73" fill="#dc7276"/><rect x="1220.12" y="1485.62" width="27.22" height="22.73" fill="#e08c90"/><rect x="1247.04" y="1485.62" width="27.22" height="22.73" fill="#e4a6a8"/><rect x="1273.96" y="1485.62" width="27.22" height="22.73" fill="#e3a0a3"/><rect x="1300.88" y="1485.62" width="27.22" height="22.73" fill="#db6c70"/><rect x="1327.80" y="1485.62" width="27.22" height="22.73" fill="#db6c70"/><rect x="1354.72" y="1485.62" width="27.22" height="22.73" fill="#dc7276"/><rect x="1381.64" y="1485.62" width="27.22" height="22.73" fill="#e19396"/><rect x="1408.56" y="1485.62" width="27.22" height="22.73" fill="#e2999c"/><rect x="1435.48" y="1485.62" width="27.22" height="22.73" fill="#edcacc"/><rect x="1462.40" y="1485.62" width="27.22" height="22.73" fill="#de7f83"/><rect x="1489.32" y="1485.62" width="27.22" height="22.73" fill="#dd797c"/><rect x="1516.24" y="1485.62" width="27.22" height="22.73" fill="#d9585a"/><rect x="1543.16" y="1485.62" width="27.22" height="22.73" fill="#e19396"/><rect x="1570.08" y="1485.62" width="27.22" height="22.73" fill="#e2999c"/><rect x="1597.00" y="1485.62" width="27.22" height="22.73" fill="#e2999c"/><rect x="1623.92" y="1485.62" width="27.22" height="22.73" fill="#dc7276"/><rect x="1650.84" y="1485.62" width="27.22" height="22.73" fill="#d85557"/><rect x="1677.76" y="1485.62" width="27.22" height="22.73" fill="#dd797c"/><rect x="1704.68" y="1485.62" width="27.22" height="22.73" fill="#e19396"/><rect x="1731.60" y="1485.62" width="27.22" height="22.73" fill="#de7f83"/><rect x="1758.52" y="1485.62" width="27.22" height="22.73" fill="#da6165"/><rect x="1785.44" y="1485.62" width="27.22" height="22.73" fill="#e2999c"/><rect x="1812.36" y="1485.62" width="27.22" height="22.73" fill="#dd797c"/><rect x="1839.28" y="1485.62" width="27.22" height="22.73" fill="#da6165"/><rect x="1866.20" y="1485.62" width="27.22" height="22.73" fill="#dc7276"/><rect x="1893.12" y="1485.62" width="27.22" height="22.73" fill="#ffffff"/><rect x="116.40" y="1508.05" width="27.22" height="22.73" fill="#db6c70"/><rect x="143.32" y="1508.05" width="27.22" height="22.73" fill="#f9edee"/><rect x="170.24" y="1508.05" width="27.22" height="22.73" fill="#db6c70"/><rect x="197.16" y="1508.05" width="27.22" height="22.73" fill="#f7e7e8"/><rect x="224.08" y="1508.05" width="27.22" height="22.73" fill="#e2999c"/><rect x="251.00" y="1508.05" width="27.22" height="22.73" fill="#e2999c"/><rect x="277.92" y="1508.05" width="27.22" height="22.73" fill="#e08c90"/><rect x="304.84" y="1508.05" width="27.22" height="22.73" fill="#d95b5e"/><rect x="331.76" y="1508.05" width="27.22" height="22.73" fill="#e08c90"/><rect x="358.68" y="1508.05" width="27.22" height="22.73" fill="#dd797c"/><rect x="385.60" y="1508.05" width="27.22" height="22.73" fill="#de7f83"/><rect x="412.52" y="1508.05" width="27.22" height="22.73" fill="#de7f83"/><rect x="439.44" y="1508.05" width="27.22" height="22.73" fill="#db6c70"/><rect x="466.36" y="1508.05" width="27.22" height="22.73" fill="#dc7276"/><rect x="493.28" y="1508.05" width="27.22" height="22.73" fill="#dc7276"/><rect x="520.20" y="1508.05" width="27.22" height="22.73" fill="#edcacc"/><rect x="547.12" y="1508.05" width="27.22" height="22.73" fill="#e2999c"/><rect x="574.04" y="1508.05" width="27.22" height="22.73" fill="#e3a0a3"/><rect x="600.96" y="1508.05" width="27.22" height="22.73" fill="#e3a0a3"/><rect x="627.88" y="1508.05" width="27.22" height="22.73" fill="#e3a0a3"/><rect x="654.80" y="1508.05" width="27.22" height="22.73" fill="#dd797c"/><rect x="681.72" y="1508.05" width="27.22" height="22.73" fill="#e08c90"/><rect x="708.64" y="1508.05" width="27.22" height="22.73" fill="#e08c90"/><rect x="735.56" y="1508.05" width="27.22" height="22.73" fill="#dc7276"/><rect x="762.48" y="1508.05" width="27.22" height="22.73" fill="#d95b5e"/><rect x="789.40" y="1508.05" width="27.22" height="22.73" fill="#d74341"/><rect x="816.32" y="1508.05" width="27.22" height="22.73" fill="#e3a0a3"/><rect x="843.24" y="1508.05" width="27.22" height="22.73" fill="#e9b8ba"/><rect x="870.16" y="1508.05" width="27.22" height="22.73" fill="#da6569"/><rect x="897.08" y="1508.05" width="27.22" height="22.73" fill="#da6165"/><rect x="924.00" y="1508.05" width="27.22" height="22.73" fill="#e9b8ba"/><rect x="950.92" y="1508.05" width="27.22" height="22.73" fill="#e19396"/><rect x="977.84" y="1508.05" width="27.22" height="22.73" fill="#de7f83"/><rect x="1004.76" y="1508.05" width="27.22" height="22.73" fill="#e3a0a3"/><rect x="1031.68" y="1508.05" width="27.22" height="22.73" fill="#e3a0a3"/><rect x="1058.60" y="1508.05" width="27.22" height="22.73" fill="#da6165"/><rect x="1085.52" y="1508.05" width="27.22" height="22.73" fill="#e9b8ba"/><rect x="1112.44" y="1508.05" width="27.22" height="22.73" fill="#e4a6a8"/><rect x="1139.36" y="1508.05" width="27.22" height="22.73" fill="#edeef7"/><rect x="1166.28" y="1508.05" width="27.22" height="22.73" fill="#dc7276"/><rect x="1193.20" y="1508.05" width="27.22" height="22.73" fill="#e3a0a3"/><rect x="1220.12" y="1508.05" width="27.22" height="22.73" fill="#e08c90"/><rect x="1247.04" y="1508.05" width="27.22" height="22.73" fill="#e6acae"/><rect x="1273.96" y="1508.05" width="27.22" height="22.73" fill="#e2999c"/><rect x="1300.88" y="1508.05" width="27.22" height="22.73" fill="#eabec0"/><rect x="1327.80" y="1508.05" width="27.22" height="22.73" fill="#eabec0"/><rect x="1354.72" y="1508.05" width="27.22" height="22.73" fill="#de7f83"/><rect x="1381.64" y="1508.05" width="27.22" height="22.73" fill="#f4e1e3"/><rect x="1408.56" y="1508.05" width="27.22" height="22.73" fill="#d9585a"/><rect x="1435.48" y="1508.05" width="27.22" height="22.73" fill="#db6c70"/><rect x="1462.40" y="1508.05" width="27.22" height="22.73" fill="#de7f83"/><rect x="1489.32" y="1508.05" width="27.22" height="22.73" fill="#e2999c"/><rect x="1516.24" y="1508.05" width="27.22" height="22.73" fill="#e9b8ba"/><rect x="1543.16" y="1508.05" width="27.22" height="22.73" fill="#df8689"/><rect x="1570.08" y="1508.05" width="27.22" height="22.73" fill="#e2999c"/><rect x="1597.00" y="1508.05" width="27.22" height="22.73" fill="#e3a0a3"/><rect x="1623.92" y="1508.05" width="27.22" height="22.73" fill="#db6c70"/><rect x="1650.84" y="1508.05" width="27.22" height="22.73" fill="#e19396"/><rect x="1677.76" y="1508.05" width="27.22" height="22.73" fill="#e19396"/><rect x="1704.68" y="1508.05" width="27.22" height="22.73" fill="#dd797c"/><rect x="1731.60" y="1508.05" width="27.22" height="22.73" fill="#de7f83"/><rect x="1758.52" y="1508.05" width="27.22" height="22.73" fill="#f4e1e3"/><rect x="1785.44" y="1508.05" width="27.22" height="22.73" fill="#d95e61"/><rect x="1812.36" y="1508.05" width="27.22" height="22.73" fill="#dd797c"/><rect x="1839.28" y="1508.05" width="27.22" height="22.73" fill="#e19396"/><rect x="1866.20" y="1508.05" width="27.22" height="22.73" fill="#e7b2b4"/><rect x="1893.12" y="1508.05" width="27.22" height="22.73" fill="#d83a33"/></g>
<text transform="translate(137.7,1392.4) rotate(-90)" font-size="23.5" stroke="#000">API5</text>
<text transform="translate(164.6,1392.4) rotate(-90)" font-size="23.5" stroke="#000">BAX</text>
<text transform="translate(191.5,1392.4) rotate(-90)" font-size="23.5" stroke="#000">DSP</text>
<text transform="translate(218.4,1392.4) rotate(-90)" font-size="23.5" stroke="#000">FLOT2</text>
<text transform="translate(245.3,1392.4) rotate(-90)" font-size="23.5" stroke="#000">LMNB1</text>
<text transform="translate(272.3,1392.4) rotate(-90)" font-size="23.5" stroke="#000">PARP1</text>
<text transform="translate(299.2,1392.4) rotate(-90)" font-size="23.5" stroke="#000">PLEC</text>
<text transform="translate(326.1,1392.4) rotate(-90)" font-size="23.5" stroke="#000">SFN</text>
<text transform="translate(353.0,1392.4) rotate(-90)" font-size="23.5" stroke="#000">TF</text>
<text transform="translate(379.9,1392.4) rotate(-90)" font-size="23.5" stroke="#000">VIM</text>
<text transform="translate(406.9,1392.4) rotate(-90)" font-size="23.5" stroke="#000">YWHAH</text>
<text transform="translate(433.8,1392.4) rotate(-90)" font-size="23.5" stroke="#000">AARSD1</text>
<text transform="translate(460.7,1392.4) rotate(-90)" font-size="23.5" stroke="#000">ACADL</text>
<text transform="translate(487.6,1392.4) rotate(-90)" font-size="23.5" stroke="#000">ALDH18A1</text>
<text transform="translate(514.5,1392.4) rotate(-90)" font-size="23.5" stroke="#000">ASNS</text>
<text transform="translate(541.5,1392.4) rotate(-90)" font-size="23.5" stroke="#000">CAPRIN1</text>
<text transform="translate(568.4,1392.4) rotate(-90)" font-size="23.5" stroke="#000">DDX39B</text>
<text transform="translate(595.3,1392.4) rotate(-90)" font-size="23.5" stroke="#000">DDX5</text>
<text transform="translate(622.2,1392.4) rotate(-90)" font-size="23.5" stroke="#000">DECR1</text>
<text transform="translate(649.1,1392.4) rotate(-90)" font-size="23.5" stroke="#000">ELAVL1</text>
<text transform="translate(676.1,1392.4) rotate(-90)" font-size="23.5" stroke="#000">ETFDH</text>
<text transform="translate(703.0,1392.4) rotate(-90)" font-size="23.5" stroke="#000">FDXR</text>
<text transform="translate(729.9,1392.4) rotate(-90)" font-size="23.5" stroke="#000">FUS</text>
<text transform="translate(756.8,1392.4) rotate(-90)" font-size="23.5" stroke="#000">GRB10</text>
<text transform="translate(783.7,1392.4) rotate(-90)" font-size="23.5" stroke="#000">GSTM1</text>
<text transform="translate(810.7,1392.4) rotate(-90)" font-size="23.5" stroke="#000">GSTM2</text>
<text transform="translate(837.6,1392.4) rotate(-90)" font-size="23.5" stroke="#000">HADH</text>
<text transform="translate(864.5,1392.4) rotate(-90)" font-size="23.5" stroke="#000">IARS1</text>
<text transform="translate(891.4,1392.4) rotate(-90)" font-size="23.5" stroke="#000">IDH2</text>
<text transform="translate(918.3,1392.4) rotate(-90)" font-size="23.5" stroke="#000">KPNA4</text>
<text transform="translate(945.3,1392.4) rotate(-90)" font-size="23.5" stroke="#000">LGALS3</text>
<text transform="translate(972.2,1392.4) rotate(-90)" font-size="23.5" stroke="#000">MYEF2</text>
<text transform="translate(999.1,1392.4) rotate(-90)" font-size="23.5" stroke="#000">NARS1</text>
<text transform="translate(1026.0,1392.4) rotate(-90)" font-size="23.5" stroke="#000">NPM1</text>
<text transform="translate(1052.9,1392.4) rotate(-90)" font-size="23.5" stroke="#000">PDHB</text>
<text transform="translate(1079.9,1392.4) rotate(-90)" font-size="23.5" stroke="#000">PLS3</text>
<text transform="translate(1106.8,1392.4) rotate(-90)" font-size="23.5" stroke="#000">PSAT1</text>
<text transform="translate(1133.7,1392.4) rotate(-90)" font-size="23.5" stroke="#000">PSME1</text>
<text transform="translate(1160.6,1392.4) rotate(-90)" font-size="23.5" stroke="#000">PYCR2</text>
<text transform="translate(1187.5,1392.4) rotate(-90)" font-size="23.5" stroke="#000">QSOX1</text>
<text transform="translate(1214.5,1392.4) rotate(-90)" font-size="23.5" stroke="#000">SFPQ</text>
<text transform="translate(1241.4,1392.4) rotate(-90)" font-size="23.5" stroke="#000">SHMT2</text>
<text transform="translate(1268.3,1392.4) rotate(-90)" font-size="23.5" stroke="#000">SLC7A1</text>
<text transform="translate(1295.2,1392.4) rotate(-90)" font-size="23.5" stroke="#000">VLDLR</text>
<text transform="translate(1322.1,1392.4) rotate(-90)" font-size="23.5" stroke="#000">YARS1</text>
<text transform="translate(1349.1,1392.4) rotate(-90)" font-size="23.5" stroke="#000">ACAA2</text>
<text transform="translate(1376.0,1392.4) rotate(-90)" font-size="23.5" stroke="#000">ACOT2</text>
<text transform="translate(1402.9,1392.4) rotate(-90)" font-size="23.5" stroke="#000">ALAD</text>
<text transform="translate(1429.8,1392.4) rotate(-90)" font-size="23.5" stroke="#000">CAD</text>
<text transform="translate(1456.7,1392.4) rotate(-90)" font-size="23.5" stroke="#000">COX6B2</text>
<text transform="translate(1483.7,1392.4) rotate(-90)" font-size="23.5" stroke="#000">EIF4A3</text>
<text transform="translate(1510.6,1392.4) rotate(-90)" font-size="23.5" stroke="#000">HMGCS2</text>
<text transform="translate(1537.5,1392.4) rotate(-90)" font-size="23.5" stroke="#000">HNRNPA0</text>
<text transform="translate(1564.4,1392.4) rotate(-90)" font-size="23.5" stroke="#000">HNRNPA2B1</text>
<text transform="translate(1591.3,1392.4) rotate(-90)" font-size="23.5" stroke="#000">HNRNPAB</text>
<text transform="translate(1618.3,1392.4) rotate(-90)" font-size="23.5" stroke="#000">HNRNPC</text>
<text transform="translate(1645.2,1392.4) rotate(-90)" font-size="23.5" stroke="#000">HNRNPD</text>
<text transform="translate(1672.1,1392.4) rotate(-90)" font-size="23.5" stroke="#000">HNRNPDL</text>
<text transform="translate(1699.0,1392.4) rotate(-90)" font-size="23.5" stroke="#000">HNRNPK</text>
<text transform="translate(1725.9,1392.4) rotate(-90)" font-size="23.5" stroke="#000">HNRNPM</text>
<text transform="translate(1752.9,1392.4) rotate(-90)" font-size="23.5" stroke="#000">HNRNPU</text>
<text transform="translate(1779.8,1392.4) rotate(-90)" font-size="23.5" stroke="#000">HNRNPUL2</text>
<text transform="translate(1806.7,1392.4) rotate(-90)" font-size="23.5" stroke="#000">MOV10</text>
<text transform="translate(1833.6,1392.4) rotate(-90)" font-size="23.5" stroke="#000">PARN</text>
<text transform="translate(1860.5,1392.4) rotate(-90)" font-size="23.5" stroke="#000">SYNCRIP</text>
<text transform="translate(1887.5,1392.4) rotate(-90)" font-size="23.5" stroke="#000">YTHDF2</text>
<text transform="translate(1914.4,1392.4) rotate(-90)" font-size="23.5" stroke="#000">ZFP36L2</text>
<line x1="110.0" y1="1393.8" x2="110.0" y2="1462.0" stroke="#2f5cc0" stroke-width="2.4"/>
<line x1="110.0" y1="1463.8" x2="110.0" y2="1532.0" stroke="#e3322a" stroke-width="2.4"/>
<text transform="translate(107.5,1435.0) rotate(-45)" font-size="23.5" text-anchor="end" stroke="#000">WT</text>
<text transform="translate(109.5,1493.0) rotate(-45)" font-size="23.5" text-anchor="end" stroke="#000"><tspan font-style="italic">Eif2s2</tspan>-ZcKO</text>
<rect x="1927.5" y="1324.5" width="11.5" height="196.7" fill="url(#cb1395)"/>
<text x="1946.0" y="1341.3" font-size="24" stroke="#000">2</text>
<text x="1946.0" y="1386.3" font-size="24" stroke="#000">1</text>
<text x="1946.0" y="1428.8" font-size="24" stroke="#000">0</text>
<text x="1946.0" y="1472.9" font-size="24" stroke="#000">-1</text>
<text x="1946.0" y="1516.1" font-size="24" stroke="#000">-2</text>
<line x1="116.5" y1="1534.5" x2="409.2" y2="1534.5" stroke="#000" stroke-width="2.2"/>
<text x="251.8" y="1558.5" font-size="24" text-anchor="middle" stroke="#000">Cell apoptosis</text>
<line x1="415.5" y1="1534.5" x2="1324.0" y2="1534.5" stroke="#000" stroke-width="2.2"/>
<text x="818.9" y="1558.5" font-size="24" text-anchor="middle" stroke="#000">Oxidative stress</text>
<line x1="1332.0" y1="1534.5" x2="1918.9" y2="1534.5" stroke="#000" stroke-width="2.2"/>
<text x="1629.2" y="1558.5" font-size="24" text-anchor="middle" stroke="#000">mRNA processing</text></svg></body></html>
